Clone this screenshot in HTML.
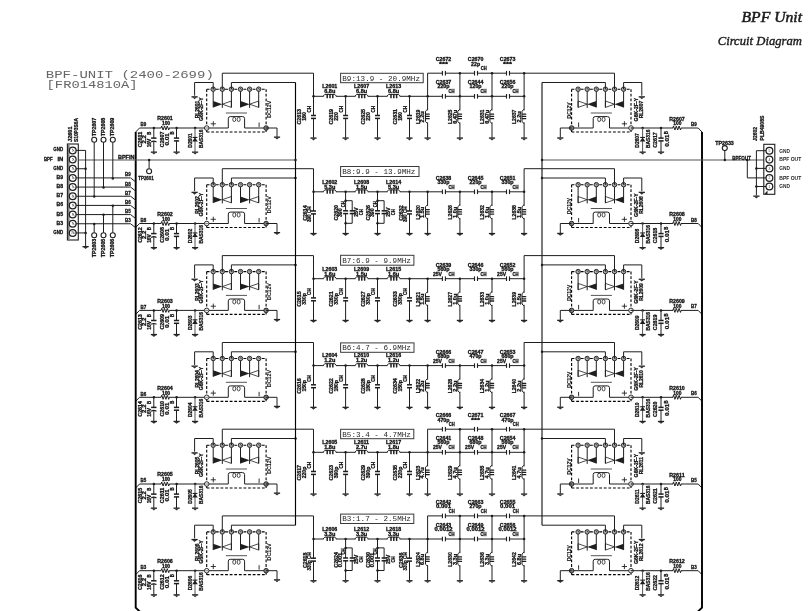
<!DOCTYPE html>
<html><head><meta charset="utf-8"><title>BPF Unit Circuit Diagram</title>
<style>html,body{margin:0;padding:0;background:#fff;}body{width:810px;height:611px;overflow:hidden;font-family:"Liberation Sans",sans-serif;}svg{display:block;filter:grayscale(100%);}</style>
</head><body>
<svg width="810" height="611" viewBox="0 0 810 611">
<polyline points="135.7,132 139.5,128 206.7,128" fill="none" stroke="#1e1e1e" stroke-width="1"/>
<text x="143.4" y="126.37" font-size="5.2" font-weight="bold" text-anchor="middle" fill="#111" stroke="#111" stroke-width="0.28" font-family="Liberation Sans" textLength="5.8" lengthAdjust="spacingAndGlyphs">B9</text>
<circle cx="153.9" cy="128" r="1.25" fill="#1e1e1e"/>
<polyline points="153.8,128 153.8,138.1" fill="none" stroke="#1e1e1e" stroke-width="1"/>
<polyline points="153.8,140.9 153.8,152" fill="none" stroke="#1e1e1e" stroke-width="1"/>
<rect x="151.1" y="137.35" width="5.4" height="1.5" fill="#1e1e1e"/>
<path d="M151.1 141.9Q153.8 140.3 156.5 141.9" fill="none" stroke="#1e1e1e" stroke-width="1.2"/>
<rect x="150.8" y="151.5" width="6.2" height="1.3" fill="#222"/>
<path d="M151.6 152.6L156.2 152.6L153.9 154.5Z" fill="#333"/>
<text x="141.86" y="139.6" font-size="4.6" font-weight="bold" text-anchor="middle" fill="#111" stroke="#111" stroke-width="0.28" font-family="Liberation Sans" textLength="15.5" lengthAdjust="spacingAndGlyphs" transform="rotate(-90 141.86 139.6)">C2611</text>
<text x="146.06" y="139.4" font-size="4.6" font-weight="bold" text-anchor="middle" fill="#111" stroke="#111" stroke-width="0.28" font-family="Liberation Sans" textLength="8.4" lengthAdjust="spacingAndGlyphs" transform="rotate(-90 146.06 139.4)">2.2</text>
<text x="150.86" y="143" font-size="4.6" font-weight="bold" text-anchor="middle" fill="#111" stroke="#111" stroke-width="0.28" font-family="Liberation Sans" textLength="8.7" lengthAdjust="spacingAndGlyphs" transform="rotate(-90 150.86 143)">16V</text>
<text x="151.16" y="133.2" font-size="4.6" font-weight="bold" text-anchor="middle" fill="#111" stroke="#111" stroke-width="0.28" font-family="Liberation Sans" textLength="3.1" lengthAdjust="spacingAndGlyphs" transform="rotate(-90 151.16 133.2)">B</text>
<rect x="161.2" y="127" width="8" height="2" fill="#fff"/>
<polyline points="161,128 161.7,126 163.1,130 164.5,126 165.9,130 167.3,126 168.7,130 169.4,128" fill="none" stroke="#1e1e1e" stroke-width="1"/>
<text x="165" y="120.46" font-size="4.6" font-weight="bold" text-anchor="middle" fill="#111" stroke="#111" stroke-width="0.28" font-family="Liberation Sans" textLength="15.5" lengthAdjust="spacingAndGlyphs">R2601</text>
<text x="166" y="125.26" font-size="4.6" font-weight="bold" text-anchor="middle" fill="#111" stroke="#111" stroke-width="0.28" font-family="Liberation Sans" textLength="8.1" lengthAdjust="spacingAndGlyphs">100</text>
<circle cx="176.6" cy="128" r="1.25" fill="#1e1e1e"/>
<polyline points="176.5,128 176.5,138.1" fill="none" stroke="#1e1e1e" stroke-width="1"/>
<polyline points="176.5,140.9 176.5,152" fill="none" stroke="#1e1e1e" stroke-width="1"/>
<rect x="173.9" y="137.35" width="5.2" height="1.5" fill="#1e1e1e"/>
<rect x="173.9" y="140.15" width="5.2" height="1.5" fill="#1e1e1e"/>
<rect x="173.5" y="151.5" width="6.2" height="1.3" fill="#222"/>
<path d="M174.3 152.6L178.9 152.6L176.6 154.5Z" fill="#333"/>
<text x="163.96" y="139.4" font-size="4.6" font-weight="bold" text-anchor="middle" fill="#111" stroke="#111" stroke-width="0.28" font-family="Liberation Sans" textLength="15.5" lengthAdjust="spacingAndGlyphs" transform="rotate(-90 163.96 139.4)">C2607</text>
<text x="168.96" y="139.4" font-size="4.6" font-weight="bold" text-anchor="middle" fill="#111" stroke="#111" stroke-width="0.28" font-family="Liberation Sans" textLength="12.4" lengthAdjust="spacingAndGlyphs" transform="rotate(-90 168.96 139.4)">0.01</text>
<text x="173.86" y="133" font-size="4.6" font-weight="bold" text-anchor="middle" fill="#111" stroke="#111" stroke-width="0.28" font-family="Liberation Sans" textLength="3.1" lengthAdjust="spacingAndGlyphs" transform="rotate(-90 173.86 133)">B</text>
<circle cx="195.1" cy="128" r="1.25" fill="#1e1e1e"/>
<polyline points="195,128 195,152" fill="none" stroke="#555" stroke-width="1"/>
<path d="M192.2 141.55L197.8 141.55L195 137.45Z" fill="#1e1e1e"/>
<polyline points="192.6,137.45 197.4,137.45" fill="none" stroke="#1e1e1e" stroke-width="1.1"/>
<rect x="192" y="151.5" width="6.2" height="1.3" fill="#222"/>
<path d="M192.8 152.6L197.4 152.6L195.1 154.5Z" fill="#333"/>
<text x="191.76" y="140.4" font-size="4.6" font-weight="bold" text-anchor="middle" fill="#111" stroke="#111" stroke-width="0.28" font-family="Liberation Sans" textLength="14.5" lengthAdjust="spacingAndGlyphs" transform="rotate(-90 191.76 140.4)">D2601</text>
<text x="202.56" y="138.8" font-size="4.6" font-weight="bold" text-anchor="middle" fill="#111" stroke="#111" stroke-width="0.28" font-family="Liberation Sans" textLength="18.6" lengthAdjust="spacingAndGlyphs" transform="rotate(-90 202.56 138.8)">BAS316</text>
<polyline points="206.7,89.2 206.7,128" fill="none" stroke="#000" stroke-width="1.1" stroke-dasharray="2.8,1.8"/>
<polyline points="266.1,89.2 266.1,128" fill="none" stroke="#000" stroke-width="1.1" stroke-dasharray="2.8,1.8"/>
<polyline points="206.7,89.2 266.1,89.2" fill="none" stroke="#000" stroke-width="1.1" stroke-dasharray="2.8,1.8"/>
<polyline points="206.7,132 266.1,132" fill="none" stroke="#000" stroke-width="1.2" stroke-dasharray="2.8,1.8"/>
<polyline points="206.7,128 206.7,132" fill="none" stroke="#000" stroke-width="1.1"/>
<polyline points="266.1,128 266.1,132" fill="none" stroke="#000" stroke-width="1.1"/>
<polyline points="213.2,89.2 213.2,107.4" fill="none" stroke="#1e1e1e" stroke-width="1"/>
<polyline points="222.3,89.2 222.3,107.9" fill="none" stroke="#1e1e1e" stroke-width="1"/>
<polyline points="231.4,89.2 231.4,107.4" fill="none" stroke="#1e1e1e" stroke-width="1"/>
<path d="M213.2 101L213.2 107.4L222.3 104.2Z" fill="#1e1e1e"/>
<path d="M231.4 101L231.4 107.4L222.3 104.2Z" fill="none" stroke="#1e1e1e" stroke-width="0.8"/>
<polyline points="240.5,89.2 240.5,107.4" fill="none" stroke="#1e1e1e" stroke-width="1"/>
<polyline points="249.6,89.2 249.6,107.9" fill="none" stroke="#1e1e1e" stroke-width="1"/>
<polyline points="258.7,89.2 258.7,107.4" fill="none" stroke="#1e1e1e" stroke-width="1"/>
<path d="M240.5 101L240.5 107.4L249.6 104.2Z" fill="#1e1e1e"/>
<path d="M258.7 101L258.7 107.4L249.6 104.2Z" fill="none" stroke="#1e1e1e" stroke-width="0.8"/>
<circle cx="213.2" cy="89.2" r="2.25" fill="#a8a8a8" stroke="#1e1e1e" stroke-width="0.9"/>
<path d="M212.6 87.8L214.4 89.8" stroke="#333" stroke-width="0.8"/>
<circle cx="222.3" cy="89.2" r="2.25" fill="#a8a8a8" stroke="#1e1e1e" stroke-width="0.9"/>
<path d="M221.7 87.8L223.5 89.8" stroke="#333" stroke-width="0.8"/>
<circle cx="231.4" cy="89.2" r="2.25" fill="#a8a8a8" stroke="#1e1e1e" stroke-width="0.9"/>
<path d="M230.8 87.8L232.6 89.8" stroke="#333" stroke-width="0.8"/>
<circle cx="240.5" cy="89.2" r="2.25" fill="#a8a8a8" stroke="#1e1e1e" stroke-width="0.9"/>
<path d="M239.9 87.8L241.7 89.8" stroke="#333" stroke-width="0.8"/>
<circle cx="249.6" cy="89.2" r="2.25" fill="#a8a8a8" stroke="#1e1e1e" stroke-width="0.9"/>
<path d="M249 87.8L250.8 89.8" stroke="#333" stroke-width="0.8"/>
<circle cx="258.7" cy="89.2" r="2.25" fill="#a8a8a8" stroke="#1e1e1e" stroke-width="0.9"/>
<path d="M258.1 87.8L259.9 89.8" stroke="#333" stroke-width="0.8"/>
<polyline points="206.7,128 228.3,128 228.3,118.5" fill="none" stroke="#1e1e1e" stroke-width="1"/>
<path d="M228.3 118.5Q228.3 116.6 230.3 116.6" fill="none" stroke="#1e1e1e" stroke-width="1"/>
<polyline points="230.3,116.6 242.6,116.6" fill="none" stroke="#1e1e1e" stroke-width="1"/>
<path d="M242.6 116.6Q244.6 116.6 244.6 118.5" fill="none" stroke="#1e1e1e" stroke-width="1"/>
<polyline points="244.6,118.5 244.6,128 266.1,128" fill="none" stroke="#1e1e1e" stroke-width="1"/>
<polyline points="225.9,113 247,113" fill="none" stroke="#555" stroke-width="1"/>
<ellipse cx="234.25" cy="119.4" rx="1.5" ry="2.2" fill="none" stroke="#1e1e1e" stroke-width="0.8"/>
<ellipse cx="238.65" cy="119.4" rx="1.5" ry="2.2" fill="none" stroke="#1e1e1e" stroke-width="0.8"/>
<polyline points="210.7,123.8 215.9,123.8" fill="none" stroke="#222" stroke-width="0.9"/>
<polyline points="213.3,121.2 213.3,126.4" fill="none" stroke="#222" stroke-width="0.9"/>
<polyline points="259.1,127 259.1,122.5" fill="none" stroke="#333" stroke-width="1"/>
<circle cx="206.7" cy="128" r="2.3" fill="#f4f4f4" stroke="#1e1e1e" stroke-width="0.9"/>
<polyline points="205.3,128 208.1,128" fill="none" stroke="#555" stroke-width="0.7"/>
<circle cx="266.1" cy="128" r="2.3" fill="#7a7a7a" stroke="#1e1e1e" stroke-width="0.9"/>
<polyline points="213.2,89.2 213.2,82.5 194.6,82.5 194.6,95.7" fill="none" stroke="#1e1e1e" stroke-width="1"/>
<rect x="191.5" y="96.2" width="6.2" height="1.3" fill="#222"/>
<path d="M192.3 97.3L196.9 97.3L194.6 99.2Z" fill="#333"/>
<polyline points="222.3,89.2 222.3,73.2 313.5,73.2" fill="none" stroke="#1e1e1e" stroke-width="1"/>
<polyline points="231.4,89.2 231.4,82.5 295.5,82.5" fill="none" stroke="#1e1e1e" stroke-width="1"/>
<polyline points="266.1,128 277,128 277,137" fill="none" stroke="#1e1e1e" stroke-width="1"/>
<rect x="273.9" y="136.5" width="6.2" height="1.3" fill="#222"/>
<path d="M274.7 137.6L279.3 137.6L277 139.5Z" fill="#333"/>
<text x="199.06" y="109.6" font-size="4.6" font-weight="bold" text-anchor="middle" fill="#111" stroke="#111" stroke-width="0.28" font-family="Liberation Sans" textLength="17.4" lengthAdjust="spacingAndGlyphs" transform="rotate(-90 199.06 109.6)">RL2601</text>
<text x="203.06" y="109.2" font-size="4.6" font-weight="bold" text-anchor="middle" fill="#111" stroke="#111" stroke-width="0.28" font-family="Liberation Sans" textLength="23.6" lengthAdjust="spacingAndGlyphs" transform="rotate(-90 203.06 109.2)">G6K-2F-Y</text>
<text x="271.1" y="109.2" font-size="5" font-weight="bold" text-anchor="middle" fill="#111" stroke="#111" stroke-width="0.1" font-family="Liberation Sans" textLength="17" lengthAdjust="spacingAndGlyphs" transform="rotate(-90 271.1 109.2)">DC12V</text>
<polyline points="313.5,73.2 313.5,96.3" fill="none" stroke="#1e1e1e" stroke-width="1"/>
<circle cx="313.5" cy="96.3" r="1.25" fill="#1e1e1e"/>
<polyline points="313.5,96.3 524.1,96.3" fill="none" stroke="#1e1e1e" stroke-width="1"/>
<polyline points="313.5,96.3 313.5,115.5" fill="none" stroke="#1e1e1e" stroke-width="1"/>
<polyline points="313.5,118.4 313.5,137.9" fill="none" stroke="#1e1e1e" stroke-width="1"/>
<rect x="311" y="114.75" width="5" height="1.5" fill="#1e1e1e"/>
<rect x="311" y="117.65" width="5" height="1.5" fill="#1e1e1e"/>
<text x="301.16" y="116.7" font-size="4.6" font-weight="bold" text-anchor="middle" fill="#111" stroke="#111" stroke-width="0.28" font-family="Liberation Sans" textLength="15.5" lengthAdjust="spacingAndGlyphs" transform="rotate(-90 301.16 116.7)">C2613</text>
<text x="305.76" y="116.5" font-size="4.6" font-weight="bold" text-anchor="middle" fill="#111" stroke="#111" stroke-width="0.28" font-family="Liberation Sans" textLength="8.7" lengthAdjust="spacingAndGlyphs" transform="rotate(-90 305.76 116.5)">180</text>
<text x="310.67" y="109.2" font-size="5.2" font-weight="bold" text-anchor="middle" fill="#111" stroke="#111" stroke-width="0.28" font-family="Liberation Sans" textLength="6.6" lengthAdjust="spacingAndGlyphs" transform="rotate(-90 310.67 109.2)">CH</text>
<rect x="310.4" y="137.4" width="6.2" height="1.3" fill="#222"/>
<path d="M311.2 138.5L315.8 138.5L313.5 140.4Z" fill="#333"/>
<circle cx="345.6" cy="96.3" r="1.25" fill="#1e1e1e"/>
<polyline points="345.6,96.3 345.6,115.5" fill="none" stroke="#1e1e1e" stroke-width="1"/>
<polyline points="345.6,118.4 345.6,137.9" fill="none" stroke="#1e1e1e" stroke-width="1"/>
<rect x="343.1" y="114.75" width="5" height="1.5" fill="#1e1e1e"/>
<rect x="343.1" y="117.65" width="5" height="1.5" fill="#1e1e1e"/>
<text x="333.26" y="116.7" font-size="4.6" font-weight="bold" text-anchor="middle" fill="#111" stroke="#111" stroke-width="0.28" font-family="Liberation Sans" textLength="15.5" lengthAdjust="spacingAndGlyphs" transform="rotate(-90 333.26 116.7)">C2619</text>
<text x="337.86" y="116.5" font-size="4.6" font-weight="bold" text-anchor="middle" fill="#111" stroke="#111" stroke-width="0.28" font-family="Liberation Sans" textLength="8.7" lengthAdjust="spacingAndGlyphs" transform="rotate(-90 337.86 116.5)">220</text>
<text x="342.77" y="109.2" font-size="5.2" font-weight="bold" text-anchor="middle" fill="#111" stroke="#111" stroke-width="0.28" font-family="Liberation Sans" textLength="6.6" lengthAdjust="spacingAndGlyphs" transform="rotate(-90 342.77 109.2)">CH</text>
<rect x="342.5" y="137.4" width="6.2" height="1.3" fill="#222"/>
<path d="M343.3 138.5L347.9 138.5L345.6 140.4Z" fill="#333"/>
<circle cx="377.5" cy="96.3" r="1.25" fill="#1e1e1e"/>
<polyline points="377.5,96.3 377.5,115.5" fill="none" stroke="#1e1e1e" stroke-width="1"/>
<polyline points="377.5,118.4 377.5,137.9" fill="none" stroke="#1e1e1e" stroke-width="1"/>
<rect x="375" y="114.75" width="5" height="1.5" fill="#1e1e1e"/>
<rect x="375" y="117.65" width="5" height="1.5" fill="#1e1e1e"/>
<text x="365.16" y="116.7" font-size="4.6" font-weight="bold" text-anchor="middle" fill="#111" stroke="#111" stroke-width="0.28" font-family="Liberation Sans" textLength="15.5" lengthAdjust="spacingAndGlyphs" transform="rotate(-90 365.16 116.7)">C2625</text>
<text x="369.76" y="116.5" font-size="4.6" font-weight="bold" text-anchor="middle" fill="#111" stroke="#111" stroke-width="0.28" font-family="Liberation Sans" textLength="8.7" lengthAdjust="spacingAndGlyphs" transform="rotate(-90 369.76 116.5)">220</text>
<text x="374.67" y="109.2" font-size="5.2" font-weight="bold" text-anchor="middle" fill="#111" stroke="#111" stroke-width="0.28" font-family="Liberation Sans" textLength="6.6" lengthAdjust="spacingAndGlyphs" transform="rotate(-90 374.67 109.2)">CH</text>
<rect x="374.4" y="137.4" width="6.2" height="1.3" fill="#222"/>
<path d="M375.2 138.5L379.8 138.5L377.5 140.4Z" fill="#333"/>
<circle cx="409.5" cy="96.3" r="1.25" fill="#1e1e1e"/>
<polyline points="409.5,96.3 409.5,115.5" fill="none" stroke="#1e1e1e" stroke-width="1"/>
<polyline points="409.5,118.4 409.5,137.9" fill="none" stroke="#1e1e1e" stroke-width="1"/>
<rect x="407" y="114.75" width="5" height="1.5" fill="#1e1e1e"/>
<rect x="407" y="117.65" width="5" height="1.5" fill="#1e1e1e"/>
<text x="397.16" y="116.7" font-size="4.6" font-weight="bold" text-anchor="middle" fill="#111" stroke="#111" stroke-width="0.28" font-family="Liberation Sans" textLength="15.5" lengthAdjust="spacingAndGlyphs" transform="rotate(-90 397.16 116.7)">C2631</text>
<text x="401.76" y="116.5" font-size="4.6" font-weight="bold" text-anchor="middle" fill="#111" stroke="#111" stroke-width="0.28" font-family="Liberation Sans" textLength="8.7" lengthAdjust="spacingAndGlyphs" transform="rotate(-90 401.76 116.5)">180</text>
<text x="406.67" y="109.2" font-size="5.2" font-weight="bold" text-anchor="middle" fill="#111" stroke="#111" stroke-width="0.28" font-family="Liberation Sans" textLength="6.6" lengthAdjust="spacingAndGlyphs" transform="rotate(-90 406.67 109.2)">CH</text>
<rect x="406.4" y="137.4" width="6.2" height="1.3" fill="#222"/>
<path d="M407.2 138.5L411.8 138.5L409.5 140.4Z" fill="#333"/>
<rect x="323.8" y="95.1" width="12" height="2.4" fill="#fff"/>
<polyline points="323,96.3 324.8,94.4 334.8,94.4 336.6,96.3" fill="none" stroke="#1e1e1e" stroke-width="1"/>
<rect x="326.45" y="94.1" width="1.5" height="4.2" rx="0.5" fill="#1e1e1e"/>
<rect x="329.25" y="94.1" width="1.5" height="4.2" rx="0.5" fill="#1e1e1e"/>
<rect x="332.05" y="94.1" width="1.5" height="4.2" rx="0.5" fill="#1e1e1e"/>
<text x="329.8" y="88.16" font-size="4.6" font-weight="bold" text-anchor="middle" fill="#111" stroke="#111" stroke-width="0.28" font-family="Liberation Sans" textLength="15" lengthAdjust="spacingAndGlyphs">L2601</text>
<text x="329.8" y="93.16" font-size="4.6" font-weight="bold" text-anchor="middle" fill="#111" stroke="#111" stroke-width="0.28" font-family="Liberation Sans" textLength="11.2" lengthAdjust="spacingAndGlyphs">6.8u</text>
<rect x="355.6" y="95.1" width="12" height="2.4" fill="#fff"/>
<polyline points="354.8,96.3 356.6,94.4 366.6,94.4 368.4,96.3" fill="none" stroke="#1e1e1e" stroke-width="1"/>
<rect x="358.25" y="94.1" width="1.5" height="4.2" rx="0.5" fill="#1e1e1e"/>
<rect x="361.05" y="94.1" width="1.5" height="4.2" rx="0.5" fill="#1e1e1e"/>
<rect x="363.85" y="94.1" width="1.5" height="4.2" rx="0.5" fill="#1e1e1e"/>
<text x="361.6" y="88.16" font-size="4.6" font-weight="bold" text-anchor="middle" fill="#111" stroke="#111" stroke-width="0.28" font-family="Liberation Sans" textLength="15" lengthAdjust="spacingAndGlyphs">L2607</text>
<text x="361.6" y="93.16" font-size="4.6" font-weight="bold" text-anchor="middle" fill="#111" stroke="#111" stroke-width="0.28" font-family="Liberation Sans" textLength="11.2" lengthAdjust="spacingAndGlyphs">6.8u</text>
<rect x="387.6" y="95.1" width="12" height="2.4" fill="#fff"/>
<polyline points="386.8,96.3 388.6,94.4 398.6,94.4 400.4,96.3" fill="none" stroke="#1e1e1e" stroke-width="1"/>
<rect x="390.25" y="94.1" width="1.5" height="4.2" rx="0.5" fill="#1e1e1e"/>
<rect x="393.05" y="94.1" width="1.5" height="4.2" rx="0.5" fill="#1e1e1e"/>
<rect x="395.85" y="94.1" width="1.5" height="4.2" rx="0.5" fill="#1e1e1e"/>
<text x="393.6" y="88.16" font-size="4.6" font-weight="bold" text-anchor="middle" fill="#111" stroke="#111" stroke-width="0.28" font-family="Liberation Sans" textLength="15" lengthAdjust="spacingAndGlyphs">L2613</text>
<text x="393.6" y="93.16" font-size="4.6" font-weight="bold" text-anchor="middle" fill="#111" stroke="#111" stroke-width="0.28" font-family="Liberation Sans" textLength="11.2" lengthAdjust="spacingAndGlyphs">6.8u</text>
<circle cx="427.6" cy="96.3" r="1.25" fill="#1e1e1e"/>
<polyline points="427.6,96.3 427.6,137.9" fill="none" stroke="#1e1e1e" stroke-width="1"/>
<rect x="426.4" y="110.4" width="2.4" height="12" fill="#fff"/>
<polyline points="427.6,109.2 425.5,111.2 425.5,121.6 427.6,123.6" fill="none" stroke="#1e1e1e" stroke-width="1"/>
<rect x="425.4" y="113.55" width="4.4" height="1.3" rx="0.5" fill="#1e1e1e"/>
<rect x="425.4" y="115.75" width="4.4" height="1.3" rx="0.5" fill="#1e1e1e"/>
<rect x="425.4" y="117.95" width="4.4" height="1.3" rx="0.5" fill="#1e1e1e"/>
<rect x="424.5" y="137.4" width="6.2" height="1.3" fill="#222"/>
<path d="M425.3 138.5L429.9 138.5L427.6 140.4Z" fill="#333"/>
<text x="419.76" y="116.8" font-size="4.6" font-weight="bold" text-anchor="middle" fill="#111" stroke="#111" stroke-width="0.28" font-family="Liberation Sans" textLength="14.5" lengthAdjust="spacingAndGlyphs" transform="rotate(-90 419.76 116.8)">L2619</text>
<text x="424.26" y="116.8" font-size="4.6" font-weight="bold" text-anchor="middle" fill="#111" stroke="#111" stroke-width="0.28" font-family="Liberation Sans" textLength="11.2" lengthAdjust="spacingAndGlyphs" transform="rotate(-90 424.26 116.8)">2.2u</text>
<circle cx="459.9" cy="96.3" r="1.25" fill="#1e1e1e"/>
<polyline points="459.9,96.3 459.9,137.9" fill="none" stroke="#1e1e1e" stroke-width="1"/>
<rect x="458.7" y="110.4" width="2.4" height="12" fill="#fff"/>
<polyline points="459.9,109.2 457.8,111.2 457.8,121.6 459.9,123.6" fill="none" stroke="#1e1e1e" stroke-width="1"/>
<rect x="457.7" y="113.55" width="4.4" height="1.3" rx="0.5" fill="#1e1e1e"/>
<rect x="457.7" y="115.75" width="4.4" height="1.3" rx="0.5" fill="#1e1e1e"/>
<rect x="457.7" y="117.95" width="4.4" height="1.3" rx="0.5" fill="#1e1e1e"/>
<rect x="456.8" y="137.4" width="6.2" height="1.3" fill="#222"/>
<path d="M457.6 138.5L462.2 138.5L459.9 140.4Z" fill="#333"/>
<text x="452.06" y="116.8" font-size="4.6" font-weight="bold" text-anchor="middle" fill="#111" stroke="#111" stroke-width="0.28" font-family="Liberation Sans" textLength="14.5" lengthAdjust="spacingAndGlyphs" transform="rotate(-90 452.06 116.8)">L2625</text>
<text x="456.56" y="116.8" font-size="4.6" font-weight="bold" text-anchor="middle" fill="#111" stroke="#111" stroke-width="0.28" font-family="Liberation Sans" textLength="14" lengthAdjust="spacingAndGlyphs" transform="rotate(-90 456.56 116.8)">0.47u</text>
<circle cx="492" cy="96.3" r="1.25" fill="#1e1e1e"/>
<polyline points="492,96.3 492,137.9" fill="none" stroke="#1e1e1e" stroke-width="1"/>
<rect x="490.8" y="110.4" width="2.4" height="12" fill="#fff"/>
<polyline points="492,109.2 489.9,111.2 489.9,121.6 492,123.6" fill="none" stroke="#1e1e1e" stroke-width="1"/>
<rect x="489.8" y="113.55" width="4.4" height="1.3" rx="0.5" fill="#1e1e1e"/>
<rect x="489.8" y="115.75" width="4.4" height="1.3" rx="0.5" fill="#1e1e1e"/>
<rect x="489.8" y="117.95" width="4.4" height="1.3" rx="0.5" fill="#1e1e1e"/>
<rect x="488.9" y="137.4" width="6.2" height="1.3" fill="#222"/>
<path d="M489.7 138.5L494.3 138.5L492 140.4Z" fill="#333"/>
<text x="484.16" y="116.8" font-size="4.6" font-weight="bold" text-anchor="middle" fill="#111" stroke="#111" stroke-width="0.28" font-family="Liberation Sans" textLength="14.5" lengthAdjust="spacingAndGlyphs" transform="rotate(-90 484.16 116.8)">L2631</text>
<text x="488.66" y="116.8" font-size="4.6" font-weight="bold" text-anchor="middle" fill="#111" stroke="#111" stroke-width="0.28" font-family="Liberation Sans" textLength="14" lengthAdjust="spacingAndGlyphs" transform="rotate(-90 488.66 116.8)">0.47u</text>
<circle cx="524.1" cy="96.3" r="1.25" fill="#1e1e1e"/>
<polyline points="524.1,96.3 524.1,137.9" fill="none" stroke="#1e1e1e" stroke-width="1"/>
<rect x="522.9" y="110.4" width="2.4" height="12" fill="#fff"/>
<polyline points="524.1,109.2 522,111.2 522,121.6 524.1,123.6" fill="none" stroke="#1e1e1e" stroke-width="1"/>
<rect x="521.9" y="113.55" width="4.4" height="1.3" rx="0.5" fill="#1e1e1e"/>
<rect x="521.9" y="115.75" width="4.4" height="1.3" rx="0.5" fill="#1e1e1e"/>
<rect x="521.9" y="117.95" width="4.4" height="1.3" rx="0.5" fill="#1e1e1e"/>
<rect x="521" y="137.4" width="6.2" height="1.3" fill="#222"/>
<path d="M521.8 138.5L526.4 138.5L524.1 140.4Z" fill="#333"/>
<text x="516.26" y="116.8" font-size="4.6" font-weight="bold" text-anchor="middle" fill="#111" stroke="#111" stroke-width="0.28" font-family="Liberation Sans" textLength="14.5" lengthAdjust="spacingAndGlyphs" transform="rotate(-90 516.26 116.8)">L2637</text>
<text x="520.76" y="116.8" font-size="4.6" font-weight="bold" text-anchor="middle" fill="#111" stroke="#111" stroke-width="0.28" font-family="Liberation Sans" textLength="11.2" lengthAdjust="spacingAndGlyphs" transform="rotate(-90 520.76 116.8)">2.2u</text>
<rect x="442.7" y="95.3" width="2.4" height="2" fill="#fff"/>
<rect x="441.85" y="94" width="1.1" height="4.6" fill="#1e1e1e"/>
<rect x="444.85" y="94" width="1.1" height="4.6" fill="#1e1e1e"/>
<text x="443.5" y="83.86" font-size="4.6" font-weight="bold" text-anchor="middle" fill="#111" stroke="#111" stroke-width="0.28" font-family="Liberation Sans" textLength="15.5" lengthAdjust="spacingAndGlyphs">C2637</text>
<text x="443.5" y="88.46" font-size="4.6" font-weight="bold" text-anchor="middle" fill="#111" stroke="#111" stroke-width="0.28" font-family="Liberation Sans" textLength="12" lengthAdjust="spacingAndGlyphs">220p</text>
<text x="451.4" y="92.86" font-size="4.6" font-weight="bold" text-anchor="middle" fill="#111" stroke="#111" stroke-width="0.28" font-family="Liberation Sans" textLength="6" lengthAdjust="spacingAndGlyphs">CH</text>
<rect x="474.8" y="95.3" width="2.4" height="2" fill="#fff"/>
<rect x="473.95" y="94" width="1.1" height="4.6" fill="#1e1e1e"/>
<rect x="476.95" y="94" width="1.1" height="4.6" fill="#1e1e1e"/>
<text x="475.6" y="83.86" font-size="4.6" font-weight="bold" text-anchor="middle" fill="#111" stroke="#111" stroke-width="0.28" font-family="Liberation Sans" textLength="15.5" lengthAdjust="spacingAndGlyphs">C2644</text>
<text x="475.6" y="88.46" font-size="4.6" font-weight="bold" text-anchor="middle" fill="#111" stroke="#111" stroke-width="0.28" font-family="Liberation Sans" textLength="12" lengthAdjust="spacingAndGlyphs">120p</text>
<text x="483.5" y="92.86" font-size="4.6" font-weight="bold" text-anchor="middle" fill="#111" stroke="#111" stroke-width="0.28" font-family="Liberation Sans" textLength="6" lengthAdjust="spacingAndGlyphs">CH</text>
<rect x="506.8" y="95.3" width="2.4" height="2" fill="#fff"/>
<rect x="505.95" y="94" width="1.1" height="4.6" fill="#1e1e1e"/>
<rect x="508.95" y="94" width="1.1" height="4.6" fill="#1e1e1e"/>
<text x="507.6" y="83.86" font-size="4.6" font-weight="bold" text-anchor="middle" fill="#111" stroke="#111" stroke-width="0.28" font-family="Liberation Sans" textLength="15.5" lengthAdjust="spacingAndGlyphs">C2656</text>
<text x="507.6" y="88.46" font-size="4.6" font-weight="bold" text-anchor="middle" fill="#111" stroke="#111" stroke-width="0.28" font-family="Liberation Sans" textLength="12" lengthAdjust="spacingAndGlyphs">220p</text>
<text x="515.5" y="92.86" font-size="4.6" font-weight="bold" text-anchor="middle" fill="#111" stroke="#111" stroke-width="0.28" font-family="Liberation Sans" textLength="6" lengthAdjust="spacingAndGlyphs">CH</text>
<polyline points="427.6,73.2 427.6,96.3" fill="none" stroke="#1e1e1e" stroke-width="1"/>
<polyline points="427.6,73.2 614.5,73.2" fill="none" stroke="#1e1e1e" stroke-width="1"/>
<circle cx="459.9" cy="73.2" r="1.25" fill="#1e1e1e"/>
<polyline points="459.9,73.2 459.9,96.3" fill="none" stroke="#1e1e1e" stroke-width="1"/>
<circle cx="492" cy="73.2" r="1.25" fill="#1e1e1e"/>
<polyline points="492,73.2 492,96.3" fill="none" stroke="#1e1e1e" stroke-width="1"/>
<circle cx="524.1" cy="73.2" r="1.25" fill="#1e1e1e"/>
<polyline points="524.1,73.2 524.1,96.3" fill="none" stroke="#1e1e1e" stroke-width="1"/>
<rect x="442.7" y="72.2" width="2.4" height="2" fill="#fff"/>
<rect x="441.85" y="70.9" width="1.1" height="4.6" fill="#1e1e1e"/>
<rect x="444.85" y="70.9" width="1.1" height="4.6" fill="#1e1e1e"/>
<text x="443.5" y="61.26" font-size="4.6" font-weight="bold" text-anchor="middle" fill="#111" stroke="#111" stroke-width="0.28" font-family="Liberation Sans" textLength="15.5" lengthAdjust="spacingAndGlyphs">C2672</text>
<text x="443.5" y="65.56" font-size="4.6" font-weight="bold" text-anchor="middle" fill="#111" stroke="#111" stroke-width="0.28" font-family="Liberation Sans" textLength="9" lengthAdjust="spacingAndGlyphs">***</text>
<rect x="474.8" y="72.2" width="2.4" height="2" fill="#fff"/>
<rect x="473.95" y="70.9" width="1.1" height="4.6" fill="#1e1e1e"/>
<rect x="476.95" y="70.9" width="1.1" height="4.6" fill="#1e1e1e"/>
<text x="475.6" y="61.26" font-size="4.6" font-weight="bold" text-anchor="middle" fill="#111" stroke="#111" stroke-width="0.28" font-family="Liberation Sans" textLength="15.5" lengthAdjust="spacingAndGlyphs">C2670</text>
<text x="475.6" y="65.56" font-size="4.6" font-weight="bold" text-anchor="middle" fill="#111" stroke="#111" stroke-width="0.28" font-family="Liberation Sans" textLength="9" lengthAdjust="spacingAndGlyphs">22p</text>
<text x="483.8" y="69.86" font-size="4.6" font-weight="bold" text-anchor="middle" fill="#111" stroke="#111" stroke-width="0.28" font-family="Liberation Sans" textLength="6" lengthAdjust="spacingAndGlyphs">CH</text>
<rect x="506.8" y="72.2" width="2.4" height="2" fill="#fff"/>
<rect x="505.95" y="70.9" width="1.1" height="4.6" fill="#1e1e1e"/>
<rect x="508.95" y="70.9" width="1.1" height="4.6" fill="#1e1e1e"/>
<text x="507.6" y="61.26" font-size="4.6" font-weight="bold" text-anchor="middle" fill="#111" stroke="#111" stroke-width="0.28" font-family="Liberation Sans" textLength="15.5" lengthAdjust="spacingAndGlyphs">C2673</text>
<text x="507.6" y="65.56" font-size="4.6" font-weight="bold" text-anchor="middle" fill="#111" stroke="#111" stroke-width="0.28" font-family="Liberation Sans" textLength="9" lengthAdjust="spacingAndGlyphs">***</text>
<rect x="340.6" y="73.3" width="82.6" height="9.4" fill="#fff" stroke="#3a3a3a" stroke-width="1"/>
<text x="342.3" y="80.6" font-size="7.7" font-weight="normal" text-anchor="start" fill="#2a2a2a" font-family="Liberation Mono" textLength="77.69" lengthAdjust="spacingAndGlyphs">B9:13.9 - 20.9MHz</text>
<polyline points="571.6,89.2 571.6,128" fill="none" stroke="#000" stroke-width="1.1" stroke-dasharray="2.8,1.8"/>
<polyline points="631,89.2 631,128" fill="none" stroke="#000" stroke-width="1.1" stroke-dasharray="2.8,1.8"/>
<polyline points="571.6,89.2 631,89.2" fill="none" stroke="#000" stroke-width="1.1" stroke-dasharray="2.8,1.8"/>
<polyline points="571.6,132 631,132" fill="none" stroke="#000" stroke-width="1.2" stroke-dasharray="2.8,1.8"/>
<polyline points="571.6,128 571.6,132" fill="none" stroke="#000" stroke-width="1.1"/>
<polyline points="631,128 631,132" fill="none" stroke="#000" stroke-width="1.1"/>
<polyline points="578.1,89.2 578.1,107.4" fill="none" stroke="#1e1e1e" stroke-width="1"/>
<polyline points="587.2,89.2 587.2,107.9" fill="none" stroke="#1e1e1e" stroke-width="1"/>
<polyline points="596.3,89.2 596.3,107.4" fill="none" stroke="#1e1e1e" stroke-width="1"/>
<path d="M578.1 101L578.1 107.4L587.2 104.2Z" fill="none" stroke="#1e1e1e" stroke-width="0.8"/>
<path d="M596.3 101L596.3 107.4L587.2 104.2Z" fill="#1e1e1e"/>
<polyline points="605.4,89.2 605.4,107.4" fill="none" stroke="#1e1e1e" stroke-width="1"/>
<polyline points="614.5,89.2 614.5,107.9" fill="none" stroke="#1e1e1e" stroke-width="1"/>
<polyline points="623.6,89.2 623.6,107.4" fill="none" stroke="#1e1e1e" stroke-width="1"/>
<path d="M605.4 101L605.4 107.4L614.5 104.2Z" fill="none" stroke="#1e1e1e" stroke-width="0.8"/>
<path d="M623.6 101L623.6 107.4L614.5 104.2Z" fill="#1e1e1e"/>
<circle cx="578.1" cy="89.2" r="2.25" fill="#a8a8a8" stroke="#1e1e1e" stroke-width="0.9"/>
<path d="M577.5 87.8L579.3 89.8" stroke="#333" stroke-width="0.8"/>
<circle cx="587.2" cy="89.2" r="2.25" fill="#a8a8a8" stroke="#1e1e1e" stroke-width="0.9"/>
<path d="M586.6 87.8L588.4 89.8" stroke="#333" stroke-width="0.8"/>
<circle cx="596.3" cy="89.2" r="2.25" fill="#a8a8a8" stroke="#1e1e1e" stroke-width="0.9"/>
<path d="M595.7 87.8L597.5 89.8" stroke="#333" stroke-width="0.8"/>
<circle cx="605.4" cy="89.2" r="2.25" fill="#a8a8a8" stroke="#1e1e1e" stroke-width="0.9"/>
<path d="M604.8 87.8L606.6 89.8" stroke="#333" stroke-width="0.8"/>
<circle cx="614.5" cy="89.2" r="2.25" fill="#a8a8a8" stroke="#1e1e1e" stroke-width="0.9"/>
<path d="M613.9 87.8L615.7 89.8" stroke="#333" stroke-width="0.8"/>
<circle cx="623.6" cy="89.2" r="2.25" fill="#a8a8a8" stroke="#1e1e1e" stroke-width="0.9"/>
<path d="M623 87.8L624.8 89.8" stroke="#333" stroke-width="0.8"/>
<polyline points="571.6,128 593.2,128 593.2,118.5" fill="none" stroke="#1e1e1e" stroke-width="1"/>
<path d="M593.2 118.5Q593.2 116.6 595.2 116.6" fill="none" stroke="#1e1e1e" stroke-width="1"/>
<polyline points="595.2,116.6 607.5,116.6" fill="none" stroke="#1e1e1e" stroke-width="1"/>
<path d="M607.5 116.6Q609.5 116.6 609.5 118.5" fill="none" stroke="#1e1e1e" stroke-width="1"/>
<polyline points="609.5,118.5 609.5,128 631,128" fill="none" stroke="#1e1e1e" stroke-width="1"/>
<polyline points="590.8,113 611.9,113" fill="none" stroke="#555" stroke-width="1"/>
<ellipse cx="599.15" cy="119.4" rx="1.5" ry="2.2" fill="none" stroke="#1e1e1e" stroke-width="0.8"/>
<ellipse cx="603.55" cy="119.4" rx="1.5" ry="2.2" fill="none" stroke="#1e1e1e" stroke-width="0.8"/>
<polyline points="621.8,123.8 627,123.8" fill="none" stroke="#222" stroke-width="0.9"/>
<polyline points="624.4,121.2 624.4,126.4" fill="none" stroke="#222" stroke-width="0.9"/>
<polyline points="578.6,127 578.6,122.5" fill="none" stroke="#333" stroke-width="1"/>
<circle cx="571.6" cy="128" r="2.3" fill="#7a7a7a" stroke="#1e1e1e" stroke-width="0.9"/>
<circle cx="631" cy="128" r="2.3" fill="#f4f4f4" stroke="#1e1e1e" stroke-width="0.9"/>
<polyline points="629.6,128 632.4,128" fill="none" stroke="#555" stroke-width="0.7"/>
<polyline points="605.4,89.2 605.4,82.5 542,82.5" fill="none" stroke="#1e1e1e" stroke-width="1"/>
<polyline points="614.5,89.2 614.5,73.2" fill="none" stroke="#1e1e1e" stroke-width="1"/>
<polyline points="623.6,89.2 623.6,82.5 641.8,82.5 641.8,95.7" fill="none" stroke="#1e1e1e" stroke-width="1"/>
<rect x="638.7" y="96.2" width="6.2" height="1.3" fill="#222"/>
<path d="M639.5 97.3L644.1 97.3L641.8 99.2Z" fill="#333"/>
<polyline points="571.6,128 560.3,128 560.3,137.5" fill="none" stroke="#1e1e1e" stroke-width="1"/>
<rect x="557.2" y="137.3" width="6.2" height="1.3" fill="#222"/>
<path d="M558 138.4L562.6 138.4L560.3 140.3Z" fill="#333"/>
<text x="571.1" y="110.4" font-size="5" font-weight="bold" text-anchor="middle" fill="#111" stroke="#111" stroke-width="0.1" font-family="Liberation Sans" textLength="16" lengthAdjust="spacingAndGlyphs" transform="rotate(-90 571.1 110.4)">DC12V</text>
<text x="638.16" y="109.6" font-size="4.6" font-weight="bold" text-anchor="middle" fill="#111" stroke="#111" stroke-width="0.28" font-family="Liberation Sans" textLength="23.6" lengthAdjust="spacingAndGlyphs" transform="rotate(-90 638.16 109.6)">G6K-2F-Y</text>
<text x="642.56" y="109.6" font-size="4.6" font-weight="bold" text-anchor="middle" fill="#111" stroke="#111" stroke-width="0.28" font-family="Liberation Sans" textLength="17.4" lengthAdjust="spacingAndGlyphs" transform="rotate(-90 642.56 109.6)">RL2607</text>
<polyline points="631,128 698.2,128 702,132" fill="none" stroke="#1e1e1e" stroke-width="1"/>
<circle cx="642.6" cy="128" r="1.25" fill="#1e1e1e"/>
<polyline points="642.6,128 642.6,152" fill="none" stroke="#555" stroke-width="1"/>
<path d="M639.8 141.55L645.4 141.55L642.6 137.45Z" fill="#1e1e1e"/>
<polyline points="640.2,137.45 645,137.45" fill="none" stroke="#1e1e1e" stroke-width="1.1"/>
<rect x="639.5" y="151.5" width="6.2" height="1.3" fill="#222"/>
<path d="M640.3 152.6L644.9 152.6L642.6 154.5Z" fill="#333"/>
<text x="638.86" y="140.4" font-size="4.6" font-weight="bold" text-anchor="middle" fill="#111" stroke="#111" stroke-width="0.28" font-family="Liberation Sans" textLength="14.5" lengthAdjust="spacingAndGlyphs" transform="rotate(-90 638.86 140.4)">D2607</text>
<text x="649.66" y="138.8" font-size="4.6" font-weight="bold" text-anchor="middle" fill="#111" stroke="#111" stroke-width="0.28" font-family="Liberation Sans" textLength="18.6" lengthAdjust="spacingAndGlyphs" transform="rotate(-90 649.66 138.8)">BAS316</text>
<circle cx="661" cy="128" r="1.25" fill="#1e1e1e"/>
<polyline points="661,128 661,138.1" fill="none" stroke="#1e1e1e" stroke-width="1"/>
<polyline points="661,140.9 661,152" fill="none" stroke="#1e1e1e" stroke-width="1"/>
<rect x="658.4" y="137.35" width="5.2" height="1.5" fill="#1e1e1e"/>
<rect x="658.4" y="140.15" width="5.2" height="1.5" fill="#1e1e1e"/>
<rect x="657.9" y="151.5" width="6.2" height="1.3" fill="#222"/>
<path d="M658.7 152.6L663.3 152.6L661 154.5Z" fill="#333"/>
<text x="656.56" y="140" font-size="4.6" font-weight="bold" text-anchor="middle" fill="#111" stroke="#111" stroke-width="0.28" font-family="Liberation Sans" textLength="15.5" lengthAdjust="spacingAndGlyphs" transform="rotate(-90 656.56 140)">C2617</text>
<text x="668.66" y="140.6" font-size="4.6" font-weight="bold" text-anchor="middle" fill="#111" stroke="#111" stroke-width="0.28" font-family="Liberation Sans" textLength="12.4" lengthAdjust="spacingAndGlyphs" transform="rotate(-90 668.66 140.6)">0.01</text>
<text x="667.66" y="132.6" font-size="4.6" font-weight="bold" text-anchor="middle" fill="#111" stroke="#111" stroke-width="0.28" font-family="Liberation Sans" textLength="3.1" lengthAdjust="spacingAndGlyphs" transform="rotate(-90 667.66 132.6)">B</text>
<rect x="673" y="127" width="8" height="2" fill="#fff"/>
<polyline points="672.8,128 673.5,126 674.9,130 676.3,126 677.7,130 679.1,126 680.5,130 681.2,128" fill="none" stroke="#1e1e1e" stroke-width="1"/>
<text x="677" y="120.66" font-size="4.6" font-weight="bold" text-anchor="middle" fill="#111" stroke="#111" stroke-width="0.28" font-family="Liberation Sans" textLength="15.5" lengthAdjust="spacingAndGlyphs">R2607</text>
<text x="677.4" y="125.26" font-size="4.6" font-weight="bold" text-anchor="middle" fill="#111" stroke="#111" stroke-width="0.28" font-family="Liberation Sans" textLength="8.1" lengthAdjust="spacingAndGlyphs">100</text>
<text x="693.9" y="126.07" font-size="5.2" font-weight="bold" text-anchor="middle" fill="#111" stroke="#111" stroke-width="0.28" font-family="Liberation Sans" textLength="5.8" lengthAdjust="spacingAndGlyphs">B9</text>
<polyline points="135.7,227.5 139.5,223.5 206.7,223.5" fill="none" stroke="#1e1e1e" stroke-width="1"/>
<text x="143.4" y="221.87" font-size="5.2" font-weight="bold" text-anchor="middle" fill="#111" stroke="#111" stroke-width="0.28" font-family="Liberation Sans" textLength="5.8" lengthAdjust="spacingAndGlyphs">B8</text>
<circle cx="153.9" cy="223.5" r="1.25" fill="#1e1e1e"/>
<polyline points="153.8,223.5 153.8,233.6" fill="none" stroke="#1e1e1e" stroke-width="1"/>
<polyline points="153.8,236.4 153.8,247.5" fill="none" stroke="#1e1e1e" stroke-width="1"/>
<rect x="151.1" y="232.85" width="5.4" height="1.5" fill="#1e1e1e"/>
<path d="M151.1 237.4Q153.8 235.8 156.5 237.4" fill="none" stroke="#1e1e1e" stroke-width="1.2"/>
<rect x="150.8" y="247" width="6.2" height="1.3" fill="#222"/>
<path d="M151.6 248.1L156.2 248.1L153.9 250Z" fill="#333"/>
<text x="141.86" y="235.1" font-size="4.6" font-weight="bold" text-anchor="middle" fill="#111" stroke="#111" stroke-width="0.28" font-family="Liberation Sans" textLength="15.5" lengthAdjust="spacingAndGlyphs" transform="rotate(-90 141.86 235.1)">C2612</text>
<text x="146.06" y="234.9" font-size="4.6" font-weight="bold" text-anchor="middle" fill="#111" stroke="#111" stroke-width="0.28" font-family="Liberation Sans" textLength="8.4" lengthAdjust="spacingAndGlyphs" transform="rotate(-90 146.06 234.9)">2.2</text>
<text x="150.86" y="238.5" font-size="4.6" font-weight="bold" text-anchor="middle" fill="#111" stroke="#111" stroke-width="0.28" font-family="Liberation Sans" textLength="8.7" lengthAdjust="spacingAndGlyphs" transform="rotate(-90 150.86 238.5)">16V</text>
<text x="151.16" y="228.7" font-size="4.6" font-weight="bold" text-anchor="middle" fill="#111" stroke="#111" stroke-width="0.28" font-family="Liberation Sans" textLength="3.1" lengthAdjust="spacingAndGlyphs" transform="rotate(-90 151.16 228.7)">B</text>
<rect x="161.2" y="222.5" width="8" height="2" fill="#fff"/>
<polyline points="161,223.5 161.7,221.5 163.1,225.5 164.5,221.5 165.9,225.5 167.3,221.5 168.7,225.5 169.4,223.5" fill="none" stroke="#1e1e1e" stroke-width="1"/>
<text x="165" y="215.96" font-size="4.6" font-weight="bold" text-anchor="middle" fill="#111" stroke="#111" stroke-width="0.28" font-family="Liberation Sans" textLength="15.5" lengthAdjust="spacingAndGlyphs">R2602</text>
<text x="166" y="220.76" font-size="4.6" font-weight="bold" text-anchor="middle" fill="#111" stroke="#111" stroke-width="0.28" font-family="Liberation Sans" textLength="8.1" lengthAdjust="spacingAndGlyphs">100</text>
<circle cx="176.6" cy="223.5" r="1.25" fill="#1e1e1e"/>
<polyline points="176.5,223.5 176.5,233.6" fill="none" stroke="#1e1e1e" stroke-width="1"/>
<polyline points="176.5,236.4 176.5,247.5" fill="none" stroke="#1e1e1e" stroke-width="1"/>
<rect x="173.9" y="232.85" width="5.2" height="1.5" fill="#1e1e1e"/>
<rect x="173.9" y="235.65" width="5.2" height="1.5" fill="#1e1e1e"/>
<rect x="173.5" y="247" width="6.2" height="1.3" fill="#222"/>
<path d="M174.3 248.1L178.9 248.1L176.6 250Z" fill="#333"/>
<text x="163.96" y="234.9" font-size="4.6" font-weight="bold" text-anchor="middle" fill="#111" stroke="#111" stroke-width="0.28" font-family="Liberation Sans" textLength="15.5" lengthAdjust="spacingAndGlyphs" transform="rotate(-90 163.96 234.9)">C2608</text>
<text x="168.96" y="234.9" font-size="4.6" font-weight="bold" text-anchor="middle" fill="#111" stroke="#111" stroke-width="0.28" font-family="Liberation Sans" textLength="12.4" lengthAdjust="spacingAndGlyphs" transform="rotate(-90 168.96 234.9)">0.01</text>
<text x="173.86" y="228.5" font-size="4.6" font-weight="bold" text-anchor="middle" fill="#111" stroke="#111" stroke-width="0.28" font-family="Liberation Sans" textLength="3.1" lengthAdjust="spacingAndGlyphs" transform="rotate(-90 173.86 228.5)">B</text>
<circle cx="195.1" cy="223.5" r="1.25" fill="#1e1e1e"/>
<polyline points="195,223.5 195,247.5" fill="none" stroke="#555" stroke-width="1"/>
<path d="M192.2 237.05L197.8 237.05L195 232.95Z" fill="#1e1e1e"/>
<polyline points="192.6,232.95 197.4,232.95" fill="none" stroke="#1e1e1e" stroke-width="1.1"/>
<rect x="192" y="247" width="6.2" height="1.3" fill="#222"/>
<path d="M192.8 248.1L197.4 248.1L195.1 250Z" fill="#333"/>
<text x="191.76" y="235.9" font-size="4.6" font-weight="bold" text-anchor="middle" fill="#111" stroke="#111" stroke-width="0.28" font-family="Liberation Sans" textLength="14.5" lengthAdjust="spacingAndGlyphs" transform="rotate(-90 191.76 235.9)">D2602</text>
<text x="202.56" y="234.3" font-size="4.6" font-weight="bold" text-anchor="middle" fill="#111" stroke="#111" stroke-width="0.28" font-family="Liberation Sans" textLength="18.6" lengthAdjust="spacingAndGlyphs" transform="rotate(-90 202.56 234.3)">BAS316</text>
<polyline points="206.7,184.7 206.7,223.5" fill="none" stroke="#000" stroke-width="1.1" stroke-dasharray="2.8,1.8"/>
<polyline points="266.1,184.7 266.1,223.5" fill="none" stroke="#000" stroke-width="1.1" stroke-dasharray="2.8,1.8"/>
<polyline points="206.7,184.7 266.1,184.7" fill="none" stroke="#000" stroke-width="1.1" stroke-dasharray="2.8,1.8"/>
<polyline points="206.7,227.5 266.1,227.5" fill="none" stroke="#000" stroke-width="1.2" stroke-dasharray="2.8,1.8"/>
<polyline points="206.7,223.5 206.7,227.5" fill="none" stroke="#000" stroke-width="1.1"/>
<polyline points="266.1,223.5 266.1,227.5" fill="none" stroke="#000" stroke-width="1.1"/>
<polyline points="213.2,184.7 213.2,202.9" fill="none" stroke="#1e1e1e" stroke-width="1"/>
<polyline points="222.3,184.7 222.3,203.4" fill="none" stroke="#1e1e1e" stroke-width="1"/>
<polyline points="231.4,184.7 231.4,202.9" fill="none" stroke="#1e1e1e" stroke-width="1"/>
<path d="M213.2 196.5L213.2 202.9L222.3 199.7Z" fill="#1e1e1e"/>
<path d="M231.4 196.5L231.4 202.9L222.3 199.7Z" fill="none" stroke="#1e1e1e" stroke-width="0.8"/>
<polyline points="240.5,184.7 240.5,202.9" fill="none" stroke="#1e1e1e" stroke-width="1"/>
<polyline points="249.6,184.7 249.6,203.4" fill="none" stroke="#1e1e1e" stroke-width="1"/>
<polyline points="258.7,184.7 258.7,202.9" fill="none" stroke="#1e1e1e" stroke-width="1"/>
<path d="M240.5 196.5L240.5 202.9L249.6 199.7Z" fill="#1e1e1e"/>
<path d="M258.7 196.5L258.7 202.9L249.6 199.7Z" fill="none" stroke="#1e1e1e" stroke-width="0.8"/>
<circle cx="213.2" cy="184.7" r="2.25" fill="#a8a8a8" stroke="#1e1e1e" stroke-width="0.9"/>
<path d="M212.6 183.3L214.4 185.3" stroke="#333" stroke-width="0.8"/>
<circle cx="222.3" cy="184.7" r="2.25" fill="#a8a8a8" stroke="#1e1e1e" stroke-width="0.9"/>
<path d="M221.7 183.3L223.5 185.3" stroke="#333" stroke-width="0.8"/>
<circle cx="231.4" cy="184.7" r="2.25" fill="#a8a8a8" stroke="#1e1e1e" stroke-width="0.9"/>
<path d="M230.8 183.3L232.6 185.3" stroke="#333" stroke-width="0.8"/>
<circle cx="240.5" cy="184.7" r="2.25" fill="#a8a8a8" stroke="#1e1e1e" stroke-width="0.9"/>
<path d="M239.9 183.3L241.7 185.3" stroke="#333" stroke-width="0.8"/>
<circle cx="249.6" cy="184.7" r="2.25" fill="#a8a8a8" stroke="#1e1e1e" stroke-width="0.9"/>
<path d="M249 183.3L250.8 185.3" stroke="#333" stroke-width="0.8"/>
<circle cx="258.7" cy="184.7" r="2.25" fill="#a8a8a8" stroke="#1e1e1e" stroke-width="0.9"/>
<path d="M258.1 183.3L259.9 185.3" stroke="#333" stroke-width="0.8"/>
<polyline points="206.7,223.5 228.3,223.5 228.3,214" fill="none" stroke="#1e1e1e" stroke-width="1"/>
<path d="M228.3 214Q228.3 212.1 230.3 212.1" fill="none" stroke="#1e1e1e" stroke-width="1"/>
<polyline points="230.3,212.1 242.6,212.1" fill="none" stroke="#1e1e1e" stroke-width="1"/>
<path d="M242.6 212.1Q244.6 212.1 244.6 214" fill="none" stroke="#1e1e1e" stroke-width="1"/>
<polyline points="244.6,214 244.6,223.5 266.1,223.5" fill="none" stroke="#1e1e1e" stroke-width="1"/>
<polyline points="225.9,208.5 247,208.5" fill="none" stroke="#555" stroke-width="1"/>
<ellipse cx="234.25" cy="214.9" rx="1.5" ry="2.2" fill="none" stroke="#1e1e1e" stroke-width="0.8"/>
<ellipse cx="238.65" cy="214.9" rx="1.5" ry="2.2" fill="none" stroke="#1e1e1e" stroke-width="0.8"/>
<polyline points="210.7,219.3 215.9,219.3" fill="none" stroke="#222" stroke-width="0.9"/>
<polyline points="213.3,216.7 213.3,221.9" fill="none" stroke="#222" stroke-width="0.9"/>
<polyline points="259.1,222.5 259.1,218" fill="none" stroke="#333" stroke-width="1"/>
<circle cx="206.7" cy="223.5" r="2.3" fill="#f4f4f4" stroke="#1e1e1e" stroke-width="0.9"/>
<polyline points="205.3,223.5 208.1,223.5" fill="none" stroke="#555" stroke-width="0.7"/>
<circle cx="266.1" cy="223.5" r="2.3" fill="#7a7a7a" stroke="#1e1e1e" stroke-width="0.9"/>
<polyline points="213.2,184.7 213.2,178 194.6,178 194.6,191.2" fill="none" stroke="#1e1e1e" stroke-width="1"/>
<rect x="191.5" y="191.7" width="6.2" height="1.3" fill="#222"/>
<path d="M192.3 192.8L196.9 192.8L194.6 194.7Z" fill="#333"/>
<polyline points="222.3,184.7 222.3,168.7 313.5,168.7" fill="none" stroke="#1e1e1e" stroke-width="1"/>
<polyline points="231.4,184.7 231.4,178 295.5,178" fill="none" stroke="#1e1e1e" stroke-width="1"/>
<circle cx="295.5" cy="178" r="1.25" fill="#1e1e1e"/>
<polyline points="266.1,223.5 277,223.5 277,232.5" fill="none" stroke="#1e1e1e" stroke-width="1"/>
<rect x="273.9" y="232" width="6.2" height="1.3" fill="#222"/>
<path d="M274.7 233.1L279.3 233.1L277 235Z" fill="#333"/>
<text x="199.06" y="205.1" font-size="4.6" font-weight="bold" text-anchor="middle" fill="#111" stroke="#111" stroke-width="0.28" font-family="Liberation Sans" textLength="17.4" lengthAdjust="spacingAndGlyphs" transform="rotate(-90 199.06 205.1)">RL2602</text>
<text x="203.06" y="204.7" font-size="4.6" font-weight="bold" text-anchor="middle" fill="#111" stroke="#111" stroke-width="0.28" font-family="Liberation Sans" textLength="23.6" lengthAdjust="spacingAndGlyphs" transform="rotate(-90 203.06 204.7)">G6K-2F-Y</text>
<text x="271.1" y="204.7" font-size="5" font-weight="bold" text-anchor="middle" fill="#111" stroke="#111" stroke-width="0.1" font-family="Liberation Sans" textLength="17" lengthAdjust="spacingAndGlyphs" transform="rotate(-90 271.1 204.7)">DC12V</text>
<polyline points="313.5,168.7 313.5,191.8" fill="none" stroke="#1e1e1e" stroke-width="1"/>
<circle cx="313.5" cy="191.8" r="1.25" fill="#1e1e1e"/>
<polyline points="313.5,191.8 524.1,191.8" fill="none" stroke="#1e1e1e" stroke-width="1"/>
<polyline points="313.5,191.8 313.5,211" fill="none" stroke="#1e1e1e" stroke-width="1"/>
<polyline points="313.5,213.9 313.5,233.4" fill="none" stroke="#1e1e1e" stroke-width="1"/>
<rect x="311" y="210.25" width="5" height="1.5" fill="#1e1e1e"/>
<rect x="311" y="213.15" width="5" height="1.5" fill="#1e1e1e"/>
<text x="307.36" y="213.1" font-size="4.6" font-weight="bold" text-anchor="middle" fill="#111" stroke="#111" stroke-width="0.28" font-family="Liberation Sans" textLength="15.5" lengthAdjust="spacingAndGlyphs" transform="rotate(-90 307.36 213.1)">C2614</text>
<text x="311.06" y="214.2" font-size="4.6" font-weight="bold" text-anchor="middle" fill="#111" stroke="#111" stroke-width="0.28" font-family="Liberation Sans" textLength="15.6" lengthAdjust="spacingAndGlyphs" transform="rotate(-90 311.06 214.2)">390 CH</text>
<rect x="310.4" y="232.9" width="6.2" height="1.3" fill="#222"/>
<path d="M311.2 234L315.8 234L313.5 235.9Z" fill="#333"/>
<circle cx="345.6" cy="191.8" r="1.25" fill="#1e1e1e"/>
<circle cx="345.6" cy="200.7" r="1.25" fill="#1e1e1e"/>
<circle cx="345.6" cy="223.3" r="1.25" fill="#1e1e1e"/>
<polyline points="345.6,191.8 345.6,200.7" fill="none" stroke="#1e1e1e" stroke-width="1"/>
<polyline points="345.6,200.7 352.2,200.7 352.2,223.3 345.6,223.3" fill="none" stroke="#1e1e1e" stroke-width="1"/>
<polyline points="345.6,200.7 345.6,210.8" fill="none" stroke="#1e1e1e" stroke-width="1"/>
<polyline points="345.6,213.6 345.6,223.3" fill="none" stroke="#1e1e1e" stroke-width="1"/>
<rect x="343.1" y="210.05" width="5" height="1.5" fill="#1e1e1e"/>
<rect x="343.1" y="212.85" width="5" height="1.5" fill="#1e1e1e"/>
<rect x="351.5" y="211.2" width="1.4" height="2" fill="#fff"/>
<rect x="349.7" y="210.05" width="5.0" height="1.5" fill="#1e1e1e"/>
<rect x="349.7" y="212.85" width="5.0" height="1.5" fill="#1e1e1e"/>
<polyline points="345.6,223.3 345.6,233.4" fill="none" stroke="#1e1e1e" stroke-width="1"/>
<text x="337.66" y="212.7" font-size="4.6" font-weight="bold" text-anchor="middle" fill="#111" stroke="#111" stroke-width="0.28" font-family="Liberation Sans" textLength="15.5" lengthAdjust="spacingAndGlyphs" transform="rotate(-90 337.66 212.7)">C2620</text>
<text x="342.06" y="212.7" font-size="4.6" font-weight="bold" text-anchor="middle" fill="#111" stroke="#111" stroke-width="0.28" font-family="Liberation Sans" textLength="8.7" lengthAdjust="spacingAndGlyphs" transform="rotate(-90 342.06 212.7)">390</text>
<text x="345.06" y="204.2" font-size="4.6" font-weight="bold" text-anchor="middle" fill="#111" stroke="#111" stroke-width="0.28" font-family="Liberation Sans" textLength="6.2" lengthAdjust="spacingAndGlyphs" transform="rotate(-90 345.06 204.2)">CH</text>
<text x="358.46" y="212.2" font-size="4.6" font-weight="bold" text-anchor="middle" fill="#111" stroke="#111" stroke-width="0.28" font-family="Liberation Sans" textLength="9.3" lengthAdjust="spacingAndGlyphs" transform="rotate(-90 358.46 212.2)">25V</text>
<text x="362.66" y="212.2" font-size="4.6" font-weight="bold" text-anchor="middle" fill="#111" stroke="#111" stroke-width="0.28" font-family="Liberation Sans" textLength="6.2" lengthAdjust="spacingAndGlyphs" transform="rotate(-90 362.66 212.2)">CH</text>
<rect x="342.5" y="232.9" width="6.2" height="1.3" fill="#222"/>
<path d="M343.3 234L347.9 234L345.6 235.9Z" fill="#333"/>
<circle cx="377.5" cy="191.8" r="1.25" fill="#1e1e1e"/>
<circle cx="377.5" cy="200.7" r="1.25" fill="#1e1e1e"/>
<circle cx="377.5" cy="223.3" r="1.25" fill="#1e1e1e"/>
<polyline points="377.5,191.8 377.5,200.7" fill="none" stroke="#1e1e1e" stroke-width="1"/>
<polyline points="377.5,200.7 384.1,200.7 384.1,223.3 377.5,223.3" fill="none" stroke="#1e1e1e" stroke-width="1"/>
<polyline points="377.5,200.7 377.5,210.8" fill="none" stroke="#1e1e1e" stroke-width="1"/>
<polyline points="377.5,213.6 377.5,223.3" fill="none" stroke="#1e1e1e" stroke-width="1"/>
<rect x="375" y="210.05" width="5" height="1.5" fill="#1e1e1e"/>
<rect x="375" y="212.85" width="5" height="1.5" fill="#1e1e1e"/>
<rect x="383.4" y="211.2" width="1.4" height="2" fill="#fff"/>
<rect x="381.6" y="210.05" width="5.0" height="1.5" fill="#1e1e1e"/>
<rect x="381.6" y="212.85" width="5.0" height="1.5" fill="#1e1e1e"/>
<polyline points="377.5,223.3 377.5,233.4" fill="none" stroke="#1e1e1e" stroke-width="1"/>
<text x="369.56" y="212.7" font-size="4.6" font-weight="bold" text-anchor="middle" fill="#111" stroke="#111" stroke-width="0.28" font-family="Liberation Sans" textLength="15.5" lengthAdjust="spacingAndGlyphs" transform="rotate(-90 369.56 212.7)">C2626</text>
<text x="373.96" y="212.7" font-size="4.6" font-weight="bold" text-anchor="middle" fill="#111" stroke="#111" stroke-width="0.28" font-family="Liberation Sans" textLength="8.7" lengthAdjust="spacingAndGlyphs" transform="rotate(-90 373.96 212.7)">390</text>
<text x="376.96" y="204.2" font-size="4.6" font-weight="bold" text-anchor="middle" fill="#111" stroke="#111" stroke-width="0.28" font-family="Liberation Sans" textLength="6.2" lengthAdjust="spacingAndGlyphs" transform="rotate(-90 376.96 204.2)">CH</text>
<text x="390.36" y="212.2" font-size="4.6" font-weight="bold" text-anchor="middle" fill="#111" stroke="#111" stroke-width="0.28" font-family="Liberation Sans" textLength="9.3" lengthAdjust="spacingAndGlyphs" transform="rotate(-90 390.36 212.2)">25V</text>
<text x="394.56" y="212.2" font-size="4.6" font-weight="bold" text-anchor="middle" fill="#111" stroke="#111" stroke-width="0.28" font-family="Liberation Sans" textLength="6.2" lengthAdjust="spacingAndGlyphs" transform="rotate(-90 394.56 212.2)">CH</text>
<rect x="374.4" y="232.9" width="6.2" height="1.3" fill="#222"/>
<path d="M375.2 234L379.8 234L377.5 235.9Z" fill="#333"/>
<circle cx="409.5" cy="191.8" r="1.25" fill="#1e1e1e"/>
<polyline points="409.5,191.8 409.5,211" fill="none" stroke="#1e1e1e" stroke-width="1"/>
<polyline points="409.5,213.9 409.5,233.4" fill="none" stroke="#1e1e1e" stroke-width="1"/>
<rect x="407" y="210.25" width="5" height="1.5" fill="#1e1e1e"/>
<rect x="407" y="213.15" width="5" height="1.5" fill="#1e1e1e"/>
<text x="403.36" y="213.1" font-size="4.6" font-weight="bold" text-anchor="middle" fill="#111" stroke="#111" stroke-width="0.28" font-family="Liberation Sans" textLength="15.5" lengthAdjust="spacingAndGlyphs" transform="rotate(-90 403.36 213.1)">C2632</text>
<text x="407.06" y="214.2" font-size="4.6" font-weight="bold" text-anchor="middle" fill="#111" stroke="#111" stroke-width="0.28" font-family="Liberation Sans" textLength="15.6" lengthAdjust="spacingAndGlyphs" transform="rotate(-90 407.06 214.2)">390 CH</text>
<rect x="406.4" y="232.9" width="6.2" height="1.3" fill="#222"/>
<path d="M407.2 234L411.8 234L409.5 235.9Z" fill="#333"/>
<rect x="323.8" y="190.6" width="12" height="2.4" fill="#fff"/>
<polyline points="323,191.8 324.8,189.9 334.8,189.9 336.6,191.8" fill="none" stroke="#1e1e1e" stroke-width="1"/>
<rect x="326.45" y="189.6" width="1.5" height="4.2" rx="0.5" fill="#1e1e1e"/>
<rect x="329.25" y="189.6" width="1.5" height="4.2" rx="0.5" fill="#1e1e1e"/>
<rect x="332.05" y="189.6" width="1.5" height="4.2" rx="0.5" fill="#1e1e1e"/>
<text x="329.8" y="183.66" font-size="4.6" font-weight="bold" text-anchor="middle" fill="#111" stroke="#111" stroke-width="0.28" font-family="Liberation Sans" textLength="15" lengthAdjust="spacingAndGlyphs">L2602</text>
<text x="329.8" y="188.66" font-size="4.6" font-weight="bold" text-anchor="middle" fill="#111" stroke="#111" stroke-width="0.28" font-family="Liberation Sans" textLength="11.2" lengthAdjust="spacingAndGlyphs">5.3u</text>
<rect x="355.6" y="190.6" width="12" height="2.4" fill="#fff"/>
<polyline points="354.8,191.8 356.6,189.9 366.6,189.9 368.4,191.8" fill="none" stroke="#1e1e1e" stroke-width="1"/>
<rect x="358.25" y="189.6" width="1.5" height="4.2" rx="0.5" fill="#1e1e1e"/>
<rect x="361.05" y="189.6" width="1.5" height="4.2" rx="0.5" fill="#1e1e1e"/>
<rect x="363.85" y="189.6" width="1.5" height="4.2" rx="0.5" fill="#1e1e1e"/>
<text x="361.6" y="183.66" font-size="4.6" font-weight="bold" text-anchor="middle" fill="#111" stroke="#111" stroke-width="0.28" font-family="Liberation Sans" textLength="15" lengthAdjust="spacingAndGlyphs">L2608</text>
<text x="361.6" y="188.66" font-size="4.6" font-weight="bold" text-anchor="middle" fill="#111" stroke="#111" stroke-width="0.28" font-family="Liberation Sans" textLength="11.2" lengthAdjust="spacingAndGlyphs">1.5u</text>
<rect x="387.6" y="190.6" width="12" height="2.4" fill="#fff"/>
<polyline points="386.8,191.8 388.6,189.9 398.6,189.9 400.4,191.8" fill="none" stroke="#1e1e1e" stroke-width="1"/>
<rect x="390.25" y="189.6" width="1.5" height="4.2" rx="0.5" fill="#1e1e1e"/>
<rect x="393.05" y="189.6" width="1.5" height="4.2" rx="0.5" fill="#1e1e1e"/>
<rect x="395.85" y="189.6" width="1.5" height="4.2" rx="0.5" fill="#1e1e1e"/>
<text x="393.6" y="183.66" font-size="4.6" font-weight="bold" text-anchor="middle" fill="#111" stroke="#111" stroke-width="0.28" font-family="Liberation Sans" textLength="15" lengthAdjust="spacingAndGlyphs">L2614</text>
<text x="393.6" y="188.66" font-size="4.6" font-weight="bold" text-anchor="middle" fill="#111" stroke="#111" stroke-width="0.28" font-family="Liberation Sans" textLength="11.2" lengthAdjust="spacingAndGlyphs">5.3u</text>
<circle cx="427.6" cy="191.8" r="1.25" fill="#1e1e1e"/>
<polyline points="427.6,191.8 427.6,233.4" fill="none" stroke="#1e1e1e" stroke-width="1"/>
<rect x="426.4" y="205.9" width="2.4" height="12" fill="#fff"/>
<polyline points="427.6,204.7 425.5,206.7 425.5,217.1 427.6,219.1" fill="none" stroke="#1e1e1e" stroke-width="1"/>
<rect x="425.4" y="209.05" width="4.4" height="1.3" rx="0.5" fill="#1e1e1e"/>
<rect x="425.4" y="211.25" width="4.4" height="1.3" rx="0.5" fill="#1e1e1e"/>
<rect x="425.4" y="213.45" width="4.4" height="1.3" rx="0.5" fill="#1e1e1e"/>
<rect x="424.5" y="232.9" width="6.2" height="1.3" fill="#222"/>
<path d="M425.3 234L429.9 234L427.6 235.9Z" fill="#333"/>
<text x="419.76" y="212.3" font-size="4.6" font-weight="bold" text-anchor="middle" fill="#111" stroke="#111" stroke-width="0.28" font-family="Liberation Sans" textLength="14.5" lengthAdjust="spacingAndGlyphs" transform="rotate(-90 419.76 212.3)">L2620</text>
<text x="424.26" y="212.3" font-size="4.6" font-weight="bold" text-anchor="middle" fill="#111" stroke="#111" stroke-width="0.28" font-family="Liberation Sans" textLength="11.2" lengthAdjust="spacingAndGlyphs" transform="rotate(-90 424.26 212.3)">1.5u</text>
<circle cx="459.9" cy="191.8" r="1.25" fill="#1e1e1e"/>
<polyline points="459.9,191.8 459.9,233.4" fill="none" stroke="#1e1e1e" stroke-width="1"/>
<rect x="458.7" y="205.9" width="2.4" height="12" fill="#fff"/>
<polyline points="459.9,204.7 457.8,206.7 457.8,217.1 459.9,219.1" fill="none" stroke="#1e1e1e" stroke-width="1"/>
<rect x="457.7" y="209.05" width="4.4" height="1.3" rx="0.5" fill="#1e1e1e"/>
<rect x="457.7" y="211.25" width="4.4" height="1.3" rx="0.5" fill="#1e1e1e"/>
<rect x="457.7" y="213.45" width="4.4" height="1.3" rx="0.5" fill="#1e1e1e"/>
<rect x="456.8" y="232.9" width="6.2" height="1.3" fill="#222"/>
<path d="M457.6 234L462.2 234L459.9 235.9Z" fill="#333"/>
<text x="452.06" y="212.3" font-size="4.6" font-weight="bold" text-anchor="middle" fill="#111" stroke="#111" stroke-width="0.28" font-family="Liberation Sans" textLength="14.5" lengthAdjust="spacingAndGlyphs" transform="rotate(-90 452.06 212.3)">L2626</text>
<text x="456.56" y="212.3" font-size="4.6" font-weight="bold" text-anchor="middle" fill="#111" stroke="#111" stroke-width="0.28" font-family="Liberation Sans" textLength="11.2" lengthAdjust="spacingAndGlyphs" transform="rotate(-90 456.56 212.3)">1.0u</text>
<circle cx="492" cy="191.8" r="1.25" fill="#1e1e1e"/>
<polyline points="492,191.8 492,233.4" fill="none" stroke="#1e1e1e" stroke-width="1"/>
<rect x="490.8" y="205.9" width="2.4" height="12" fill="#fff"/>
<polyline points="492,204.7 489.9,206.7 489.9,217.1 492,219.1" fill="none" stroke="#1e1e1e" stroke-width="1"/>
<rect x="489.8" y="209.05" width="4.4" height="1.3" rx="0.5" fill="#1e1e1e"/>
<rect x="489.8" y="211.25" width="4.4" height="1.3" rx="0.5" fill="#1e1e1e"/>
<rect x="489.8" y="213.45" width="4.4" height="1.3" rx="0.5" fill="#1e1e1e"/>
<rect x="488.9" y="232.9" width="6.2" height="1.3" fill="#222"/>
<path d="M489.7 234L494.3 234L492 235.9Z" fill="#333"/>
<text x="484.16" y="212.3" font-size="4.6" font-weight="bold" text-anchor="middle" fill="#111" stroke="#111" stroke-width="0.28" font-family="Liberation Sans" textLength="14.5" lengthAdjust="spacingAndGlyphs" transform="rotate(-90 484.16 212.3)">L2632</text>
<text x="488.66" y="212.3" font-size="4.6" font-weight="bold" text-anchor="middle" fill="#111" stroke="#111" stroke-width="0.28" font-family="Liberation Sans" textLength="11.2" lengthAdjust="spacingAndGlyphs" transform="rotate(-90 488.66 212.3)">1.0u</text>
<circle cx="524.1" cy="191.8" r="1.25" fill="#1e1e1e"/>
<polyline points="524.1,191.8 524.1,233.4" fill="none" stroke="#1e1e1e" stroke-width="1"/>
<rect x="522.9" y="205.9" width="2.4" height="12" fill="#fff"/>
<polyline points="524.1,204.7 522,206.7 522,217.1 524.1,219.1" fill="none" stroke="#1e1e1e" stroke-width="1"/>
<rect x="521.9" y="209.05" width="4.4" height="1.3" rx="0.5" fill="#1e1e1e"/>
<rect x="521.9" y="211.25" width="4.4" height="1.3" rx="0.5" fill="#1e1e1e"/>
<rect x="521.9" y="213.45" width="4.4" height="1.3" rx="0.5" fill="#1e1e1e"/>
<rect x="521" y="232.9" width="6.2" height="1.3" fill="#222"/>
<path d="M521.8 234L526.4 234L524.1 235.9Z" fill="#333"/>
<text x="516.26" y="212.3" font-size="4.6" font-weight="bold" text-anchor="middle" fill="#111" stroke="#111" stroke-width="0.28" font-family="Liberation Sans" textLength="14.5" lengthAdjust="spacingAndGlyphs" transform="rotate(-90 516.26 212.3)">L2638</text>
<text x="520.76" y="212.3" font-size="4.6" font-weight="bold" text-anchor="middle" fill="#111" stroke="#111" stroke-width="0.28" font-family="Liberation Sans" textLength="11.2" lengthAdjust="spacingAndGlyphs" transform="rotate(-90 520.76 212.3)">1.5u</text>
<rect x="442.7" y="190.8" width="2.4" height="2" fill="#fff"/>
<rect x="441.85" y="189.5" width="1.1" height="4.6" fill="#1e1e1e"/>
<rect x="444.85" y="189.5" width="1.1" height="4.6" fill="#1e1e1e"/>
<text x="443.5" y="179.76" font-size="4.6" font-weight="bold" text-anchor="middle" fill="#111" stroke="#111" stroke-width="0.28" font-family="Liberation Sans" textLength="15.5" lengthAdjust="spacingAndGlyphs">C2638</text>
<text x="443.5" y="184.36" font-size="4.6" font-weight="bold" text-anchor="middle" fill="#111" stroke="#111" stroke-width="0.28" font-family="Liberation Sans" textLength="12" lengthAdjust="spacingAndGlyphs">330p</text>
<text x="451.4" y="188.76" font-size="4.6" font-weight="bold" text-anchor="middle" fill="#111" stroke="#111" stroke-width="0.28" font-family="Liberation Sans" textLength="6" lengthAdjust="spacingAndGlyphs">CH</text>
<rect x="474.8" y="190.8" width="2.4" height="2" fill="#fff"/>
<rect x="473.95" y="189.5" width="1.1" height="4.6" fill="#1e1e1e"/>
<rect x="476.95" y="189.5" width="1.1" height="4.6" fill="#1e1e1e"/>
<text x="475.6" y="179.76" font-size="4.6" font-weight="bold" text-anchor="middle" fill="#111" stroke="#111" stroke-width="0.28" font-family="Liberation Sans" textLength="15.5" lengthAdjust="spacingAndGlyphs">C2645</text>
<text x="475.6" y="184.36" font-size="4.6" font-weight="bold" text-anchor="middle" fill="#111" stroke="#111" stroke-width="0.28" font-family="Liberation Sans" textLength="12" lengthAdjust="spacingAndGlyphs">220p</text>
<text x="483.5" y="188.76" font-size="4.6" font-weight="bold" text-anchor="middle" fill="#111" stroke="#111" stroke-width="0.28" font-family="Liberation Sans" textLength="6" lengthAdjust="spacingAndGlyphs">CH</text>
<rect x="506.8" y="190.8" width="2.4" height="2" fill="#fff"/>
<rect x="505.95" y="189.5" width="1.1" height="4.6" fill="#1e1e1e"/>
<rect x="508.95" y="189.5" width="1.1" height="4.6" fill="#1e1e1e"/>
<text x="507.6" y="179.76" font-size="4.6" font-weight="bold" text-anchor="middle" fill="#111" stroke="#111" stroke-width="0.28" font-family="Liberation Sans" textLength="15.5" lengthAdjust="spacingAndGlyphs">C2651</text>
<text x="507.6" y="184.36" font-size="4.6" font-weight="bold" text-anchor="middle" fill="#111" stroke="#111" stroke-width="0.28" font-family="Liberation Sans" textLength="12" lengthAdjust="spacingAndGlyphs">330p</text>
<text x="515.5" y="188.76" font-size="4.6" font-weight="bold" text-anchor="middle" fill="#111" stroke="#111" stroke-width="0.28" font-family="Liberation Sans" textLength="6" lengthAdjust="spacingAndGlyphs">CH</text>
<polyline points="524.1,191.8 524.1,168.7 614.5,168.7" fill="none" stroke="#1e1e1e" stroke-width="1"/>
<rect x="340.6" y="166.5" width="78.4" height="10" fill="#fff" stroke="#3a3a3a" stroke-width="1"/>
<text x="342.3" y="174.1" font-size="7.7" font-weight="normal" text-anchor="start" fill="#2a2a2a" font-family="Liberation Mono" textLength="73.12" lengthAdjust="spacingAndGlyphs">B8:9.9 - 13.9MHz</text>
<polyline points="571.6,184.7 571.6,223.5" fill="none" stroke="#000" stroke-width="1.1" stroke-dasharray="2.8,1.8"/>
<polyline points="631,184.7 631,223.5" fill="none" stroke="#000" stroke-width="1.1" stroke-dasharray="2.8,1.8"/>
<polyline points="571.6,184.7 631,184.7" fill="none" stroke="#000" stroke-width="1.1" stroke-dasharray="2.8,1.8"/>
<polyline points="571.6,227.5 631,227.5" fill="none" stroke="#000" stroke-width="1.2" stroke-dasharray="2.8,1.8"/>
<polyline points="571.6,223.5 571.6,227.5" fill="none" stroke="#000" stroke-width="1.1"/>
<polyline points="631,223.5 631,227.5" fill="none" stroke="#000" stroke-width="1.1"/>
<polyline points="578.1,184.7 578.1,202.9" fill="none" stroke="#1e1e1e" stroke-width="1"/>
<polyline points="587.2,184.7 587.2,203.4" fill="none" stroke="#1e1e1e" stroke-width="1"/>
<polyline points="596.3,184.7 596.3,202.9" fill="none" stroke="#1e1e1e" stroke-width="1"/>
<path d="M578.1 196.5L578.1 202.9L587.2 199.7Z" fill="none" stroke="#1e1e1e" stroke-width="0.8"/>
<path d="M596.3 196.5L596.3 202.9L587.2 199.7Z" fill="#1e1e1e"/>
<polyline points="605.4,184.7 605.4,202.9" fill="none" stroke="#1e1e1e" stroke-width="1"/>
<polyline points="614.5,184.7 614.5,203.4" fill="none" stroke="#1e1e1e" stroke-width="1"/>
<polyline points="623.6,184.7 623.6,202.9" fill="none" stroke="#1e1e1e" stroke-width="1"/>
<path d="M605.4 196.5L605.4 202.9L614.5 199.7Z" fill="none" stroke="#1e1e1e" stroke-width="0.8"/>
<path d="M623.6 196.5L623.6 202.9L614.5 199.7Z" fill="#1e1e1e"/>
<circle cx="578.1" cy="184.7" r="2.25" fill="#a8a8a8" stroke="#1e1e1e" stroke-width="0.9"/>
<path d="M577.5 183.3L579.3 185.3" stroke="#333" stroke-width="0.8"/>
<circle cx="587.2" cy="184.7" r="2.25" fill="#a8a8a8" stroke="#1e1e1e" stroke-width="0.9"/>
<path d="M586.6 183.3L588.4 185.3" stroke="#333" stroke-width="0.8"/>
<circle cx="596.3" cy="184.7" r="2.25" fill="#a8a8a8" stroke="#1e1e1e" stroke-width="0.9"/>
<path d="M595.7 183.3L597.5 185.3" stroke="#333" stroke-width="0.8"/>
<circle cx="605.4" cy="184.7" r="2.25" fill="#a8a8a8" stroke="#1e1e1e" stroke-width="0.9"/>
<path d="M604.8 183.3L606.6 185.3" stroke="#333" stroke-width="0.8"/>
<circle cx="614.5" cy="184.7" r="2.25" fill="#a8a8a8" stroke="#1e1e1e" stroke-width="0.9"/>
<path d="M613.9 183.3L615.7 185.3" stroke="#333" stroke-width="0.8"/>
<circle cx="623.6" cy="184.7" r="2.25" fill="#a8a8a8" stroke="#1e1e1e" stroke-width="0.9"/>
<path d="M623 183.3L624.8 185.3" stroke="#333" stroke-width="0.8"/>
<polyline points="571.6,223.5 593.2,223.5 593.2,214" fill="none" stroke="#1e1e1e" stroke-width="1"/>
<path d="M593.2 214Q593.2 212.1 595.2 212.1" fill="none" stroke="#1e1e1e" stroke-width="1"/>
<polyline points="595.2,212.1 607.5,212.1" fill="none" stroke="#1e1e1e" stroke-width="1"/>
<path d="M607.5 212.1Q609.5 212.1 609.5 214" fill="none" stroke="#1e1e1e" stroke-width="1"/>
<polyline points="609.5,214 609.5,223.5 631,223.5" fill="none" stroke="#1e1e1e" stroke-width="1"/>
<polyline points="590.8,208.5 611.9,208.5" fill="none" stroke="#555" stroke-width="1"/>
<ellipse cx="599.15" cy="214.9" rx="1.5" ry="2.2" fill="none" stroke="#1e1e1e" stroke-width="0.8"/>
<ellipse cx="603.55" cy="214.9" rx="1.5" ry="2.2" fill="none" stroke="#1e1e1e" stroke-width="0.8"/>
<polyline points="621.8,219.3 627,219.3" fill="none" stroke="#222" stroke-width="0.9"/>
<polyline points="624.4,216.7 624.4,221.9" fill="none" stroke="#222" stroke-width="0.9"/>
<polyline points="578.6,222.5 578.6,218" fill="none" stroke="#333" stroke-width="1"/>
<circle cx="571.6" cy="223.5" r="2.3" fill="#7a7a7a" stroke="#1e1e1e" stroke-width="0.9"/>
<circle cx="631" cy="223.5" r="2.3" fill="#f4f4f4" stroke="#1e1e1e" stroke-width="0.9"/>
<polyline points="629.6,223.5 632.4,223.5" fill="none" stroke="#555" stroke-width="0.7"/>
<polyline points="605.4,184.7 605.4,178 542,178" fill="none" stroke="#1e1e1e" stroke-width="1"/>
<circle cx="542" cy="178" r="1.25" fill="#1e1e1e"/>
<polyline points="614.5,184.7 614.5,168.7" fill="none" stroke="#1e1e1e" stroke-width="1"/>
<polyline points="623.6,184.7 623.6,178 641.8,178 641.8,191.2" fill="none" stroke="#1e1e1e" stroke-width="1"/>
<rect x="638.7" y="191.7" width="6.2" height="1.3" fill="#222"/>
<path d="M639.5 192.8L644.1 192.8L641.8 194.7Z" fill="#333"/>
<polyline points="571.6,223.5 560.3,223.5 560.3,233" fill="none" stroke="#1e1e1e" stroke-width="1"/>
<rect x="557.2" y="232.8" width="6.2" height="1.3" fill="#222"/>
<path d="M558 233.9L562.6 233.9L560.3 235.8Z" fill="#333"/>
<text x="571.1" y="205.9" font-size="5" font-weight="bold" text-anchor="middle" fill="#111" stroke="#111" stroke-width="0.1" font-family="Liberation Sans" textLength="16" lengthAdjust="spacingAndGlyphs" transform="rotate(-90 571.1 205.9)">DC12V</text>
<text x="638.16" y="205.1" font-size="4.6" font-weight="bold" text-anchor="middle" fill="#111" stroke="#111" stroke-width="0.28" font-family="Liberation Sans" textLength="23.6" lengthAdjust="spacingAndGlyphs" transform="rotate(-90 638.16 205.1)">G6K-2F-Y</text>
<text x="642.56" y="205.1" font-size="4.6" font-weight="bold" text-anchor="middle" fill="#111" stroke="#111" stroke-width="0.28" font-family="Liberation Sans" textLength="17.4" lengthAdjust="spacingAndGlyphs" transform="rotate(-90 642.56 205.1)">RL2608</text>
<polyline points="631,223.5 698.2,223.5 702,227.5" fill="none" stroke="#1e1e1e" stroke-width="1"/>
<circle cx="642.6" cy="223.5" r="1.25" fill="#1e1e1e"/>
<polyline points="642.6,223.5 642.6,247.5" fill="none" stroke="#555" stroke-width="1"/>
<path d="M639.8 237.05L645.4 237.05L642.6 232.95Z" fill="#1e1e1e"/>
<polyline points="640.2,232.95 645,232.95" fill="none" stroke="#1e1e1e" stroke-width="1.1"/>
<rect x="639.5" y="247" width="6.2" height="1.3" fill="#222"/>
<path d="M640.3 248.1L644.9 248.1L642.6 250Z" fill="#333"/>
<text x="638.86" y="235.9" font-size="4.6" font-weight="bold" text-anchor="middle" fill="#111" stroke="#111" stroke-width="0.28" font-family="Liberation Sans" textLength="14.5" lengthAdjust="spacingAndGlyphs" transform="rotate(-90 638.86 235.9)">D2608</text>
<text x="649.66" y="234.3" font-size="4.6" font-weight="bold" text-anchor="middle" fill="#111" stroke="#111" stroke-width="0.28" font-family="Liberation Sans" textLength="18.6" lengthAdjust="spacingAndGlyphs" transform="rotate(-90 649.66 234.3)">BAS316</text>
<circle cx="661" cy="223.5" r="1.25" fill="#1e1e1e"/>
<polyline points="661,223.5 661,233.6" fill="none" stroke="#1e1e1e" stroke-width="1"/>
<polyline points="661,236.4 661,247.5" fill="none" stroke="#1e1e1e" stroke-width="1"/>
<rect x="658.4" y="232.85" width="5.2" height="1.5" fill="#1e1e1e"/>
<rect x="658.4" y="235.65" width="5.2" height="1.5" fill="#1e1e1e"/>
<rect x="657.9" y="247" width="6.2" height="1.3" fill="#222"/>
<path d="M658.7 248.1L663.3 248.1L661 250Z" fill="#333"/>
<text x="656.56" y="235.5" font-size="4.6" font-weight="bold" text-anchor="middle" fill="#111" stroke="#111" stroke-width="0.28" font-family="Liberation Sans" textLength="15.5" lengthAdjust="spacingAndGlyphs" transform="rotate(-90 656.56 235.5)">C2618</text>
<text x="668.66" y="236.1" font-size="4.6" font-weight="bold" text-anchor="middle" fill="#111" stroke="#111" stroke-width="0.28" font-family="Liberation Sans" textLength="12.4" lengthAdjust="spacingAndGlyphs" transform="rotate(-90 668.66 236.1)">0.01</text>
<text x="667.66" y="228.1" font-size="4.6" font-weight="bold" text-anchor="middle" fill="#111" stroke="#111" stroke-width="0.28" font-family="Liberation Sans" textLength="3.1" lengthAdjust="spacingAndGlyphs" transform="rotate(-90 667.66 228.1)">B</text>
<rect x="673" y="222.5" width="8" height="2" fill="#fff"/>
<polyline points="672.8,223.5 673.5,221.5 674.9,225.5 676.3,221.5 677.7,225.5 679.1,221.5 680.5,225.5 681.2,223.5" fill="none" stroke="#1e1e1e" stroke-width="1"/>
<text x="677" y="216.16" font-size="4.6" font-weight="bold" text-anchor="middle" fill="#111" stroke="#111" stroke-width="0.28" font-family="Liberation Sans" textLength="15.5" lengthAdjust="spacingAndGlyphs">R2608</text>
<text x="677.4" y="220.76" font-size="4.6" font-weight="bold" text-anchor="middle" fill="#111" stroke="#111" stroke-width="0.28" font-family="Liberation Sans" textLength="8.1" lengthAdjust="spacingAndGlyphs">100</text>
<text x="693.9" y="221.57" font-size="5.2" font-weight="bold" text-anchor="middle" fill="#111" stroke="#111" stroke-width="0.28" font-family="Liberation Sans" textLength="5.8" lengthAdjust="spacingAndGlyphs">B8</text>
<polyline points="135.7,314.4 139.5,310.4 206.7,310.4" fill="none" stroke="#1e1e1e" stroke-width="1"/>
<text x="143.4" y="308.77" font-size="5.2" font-weight="bold" text-anchor="middle" fill="#111" stroke="#111" stroke-width="0.28" font-family="Liberation Sans" textLength="5.8" lengthAdjust="spacingAndGlyphs">B7</text>
<circle cx="153.9" cy="310.4" r="1.25" fill="#1e1e1e"/>
<polyline points="153.8,310.4 153.8,320.5" fill="none" stroke="#1e1e1e" stroke-width="1"/>
<polyline points="153.8,323.3 153.8,334.4" fill="none" stroke="#1e1e1e" stroke-width="1"/>
<rect x="151.1" y="319.75" width="5.4" height="1.5" fill="#1e1e1e"/>
<path d="M151.1 324.3Q153.8 322.7 156.5 324.3" fill="none" stroke="#1e1e1e" stroke-width="1.2"/>
<rect x="150.8" y="333.9" width="6.2" height="1.3" fill="#222"/>
<path d="M151.6 335L156.2 335L153.9 336.9Z" fill="#333"/>
<text x="141.86" y="322" font-size="4.6" font-weight="bold" text-anchor="middle" fill="#111" stroke="#111" stroke-width="0.28" font-family="Liberation Sans" textLength="15.5" lengthAdjust="spacingAndGlyphs" transform="rotate(-90 141.86 322)">C2613</text>
<text x="146.06" y="321.8" font-size="4.6" font-weight="bold" text-anchor="middle" fill="#111" stroke="#111" stroke-width="0.28" font-family="Liberation Sans" textLength="8.4" lengthAdjust="spacingAndGlyphs" transform="rotate(-90 146.06 321.8)">2.2</text>
<text x="150.86" y="325.4" font-size="4.6" font-weight="bold" text-anchor="middle" fill="#111" stroke="#111" stroke-width="0.28" font-family="Liberation Sans" textLength="8.7" lengthAdjust="spacingAndGlyphs" transform="rotate(-90 150.86 325.4)">16V</text>
<text x="151.16" y="315.6" font-size="4.6" font-weight="bold" text-anchor="middle" fill="#111" stroke="#111" stroke-width="0.28" font-family="Liberation Sans" textLength="3.1" lengthAdjust="spacingAndGlyphs" transform="rotate(-90 151.16 315.6)">B</text>
<rect x="161.2" y="309.4" width="8" height="2" fill="#fff"/>
<polyline points="161,310.4 161.7,308.4 163.1,312.4 164.5,308.4 165.9,312.4 167.3,308.4 168.7,312.4 169.4,310.4" fill="none" stroke="#1e1e1e" stroke-width="1"/>
<text x="165" y="302.86" font-size="4.6" font-weight="bold" text-anchor="middle" fill="#111" stroke="#111" stroke-width="0.28" font-family="Liberation Sans" textLength="15.5" lengthAdjust="spacingAndGlyphs">R2603</text>
<text x="166" y="307.66" font-size="4.6" font-weight="bold" text-anchor="middle" fill="#111" stroke="#111" stroke-width="0.28" font-family="Liberation Sans" textLength="8.1" lengthAdjust="spacingAndGlyphs">100</text>
<circle cx="176.6" cy="310.4" r="1.25" fill="#1e1e1e"/>
<polyline points="176.5,310.4 176.5,320.5" fill="none" stroke="#1e1e1e" stroke-width="1"/>
<polyline points="176.5,323.3 176.5,334.4" fill="none" stroke="#1e1e1e" stroke-width="1"/>
<rect x="173.9" y="319.75" width="5.2" height="1.5" fill="#1e1e1e"/>
<rect x="173.9" y="322.55" width="5.2" height="1.5" fill="#1e1e1e"/>
<rect x="173.5" y="333.9" width="6.2" height="1.3" fill="#222"/>
<path d="M174.3 335L178.9 335L176.6 336.9Z" fill="#333"/>
<text x="163.96" y="321.8" font-size="4.6" font-weight="bold" text-anchor="middle" fill="#111" stroke="#111" stroke-width="0.28" font-family="Liberation Sans" textLength="15.5" lengthAdjust="spacingAndGlyphs" transform="rotate(-90 163.96 321.8)">C2609</text>
<text x="168.96" y="321.8" font-size="4.6" font-weight="bold" text-anchor="middle" fill="#111" stroke="#111" stroke-width="0.28" font-family="Liberation Sans" textLength="12.4" lengthAdjust="spacingAndGlyphs" transform="rotate(-90 168.96 321.8)">0.01</text>
<text x="173.86" y="315.4" font-size="4.6" font-weight="bold" text-anchor="middle" fill="#111" stroke="#111" stroke-width="0.28" font-family="Liberation Sans" textLength="3.1" lengthAdjust="spacingAndGlyphs" transform="rotate(-90 173.86 315.4)">B</text>
<circle cx="195.1" cy="310.4" r="1.25" fill="#1e1e1e"/>
<polyline points="195,310.4 195,334.4" fill="none" stroke="#555" stroke-width="1"/>
<path d="M192.2 323.95L197.8 323.95L195 319.85Z" fill="#1e1e1e"/>
<polyline points="192.6,319.85 197.4,319.85" fill="none" stroke="#1e1e1e" stroke-width="1.1"/>
<rect x="192" y="333.9" width="6.2" height="1.3" fill="#222"/>
<path d="M192.8 335L197.4 335L195.1 336.9Z" fill="#333"/>
<text x="191.76" y="322.8" font-size="4.6" font-weight="bold" text-anchor="middle" fill="#111" stroke="#111" stroke-width="0.28" font-family="Liberation Sans" textLength="14.5" lengthAdjust="spacingAndGlyphs" transform="rotate(-90 191.76 322.8)">D2603</text>
<text x="202.56" y="321.2" font-size="4.6" font-weight="bold" text-anchor="middle" fill="#111" stroke="#111" stroke-width="0.28" font-family="Liberation Sans" textLength="18.6" lengthAdjust="spacingAndGlyphs" transform="rotate(-90 202.56 321.2)">BAS316</text>
<polyline points="206.7,271.6 206.7,310.4" fill="none" stroke="#000" stroke-width="1.1" stroke-dasharray="2.8,1.8"/>
<polyline points="266.1,271.6 266.1,310.4" fill="none" stroke="#000" stroke-width="1.1" stroke-dasharray="2.8,1.8"/>
<polyline points="206.7,271.6 266.1,271.6" fill="none" stroke="#000" stroke-width="1.1" stroke-dasharray="2.8,1.8"/>
<polyline points="206.7,314.4 266.1,314.4" fill="none" stroke="#000" stroke-width="1.2" stroke-dasharray="2.8,1.8"/>
<polyline points="206.7,310.4 206.7,314.4" fill="none" stroke="#000" stroke-width="1.1"/>
<polyline points="266.1,310.4 266.1,314.4" fill="none" stroke="#000" stroke-width="1.1"/>
<polyline points="213.2,271.6 213.2,289.8" fill="none" stroke="#1e1e1e" stroke-width="1"/>
<polyline points="222.3,271.6 222.3,290.3" fill="none" stroke="#1e1e1e" stroke-width="1"/>
<polyline points="231.4,271.6 231.4,289.8" fill="none" stroke="#1e1e1e" stroke-width="1"/>
<path d="M213.2 283.4L213.2 289.8L222.3 286.6Z" fill="#1e1e1e"/>
<path d="M231.4 283.4L231.4 289.8L222.3 286.6Z" fill="none" stroke="#1e1e1e" stroke-width="0.8"/>
<polyline points="240.5,271.6 240.5,289.8" fill="none" stroke="#1e1e1e" stroke-width="1"/>
<polyline points="249.6,271.6 249.6,290.3" fill="none" stroke="#1e1e1e" stroke-width="1"/>
<polyline points="258.7,271.6 258.7,289.8" fill="none" stroke="#1e1e1e" stroke-width="1"/>
<path d="M240.5 283.4L240.5 289.8L249.6 286.6Z" fill="#1e1e1e"/>
<path d="M258.7 283.4L258.7 289.8L249.6 286.6Z" fill="none" stroke="#1e1e1e" stroke-width="0.8"/>
<circle cx="213.2" cy="271.6" r="2.25" fill="#a8a8a8" stroke="#1e1e1e" stroke-width="0.9"/>
<path d="M212.6 270.2L214.4 272.2" stroke="#333" stroke-width="0.8"/>
<circle cx="222.3" cy="271.6" r="2.25" fill="#a8a8a8" stroke="#1e1e1e" stroke-width="0.9"/>
<path d="M221.7 270.2L223.5 272.2" stroke="#333" stroke-width="0.8"/>
<circle cx="231.4" cy="271.6" r="2.25" fill="#a8a8a8" stroke="#1e1e1e" stroke-width="0.9"/>
<path d="M230.8 270.2L232.6 272.2" stroke="#333" stroke-width="0.8"/>
<circle cx="240.5" cy="271.6" r="2.25" fill="#a8a8a8" stroke="#1e1e1e" stroke-width="0.9"/>
<path d="M239.9 270.2L241.7 272.2" stroke="#333" stroke-width="0.8"/>
<circle cx="249.6" cy="271.6" r="2.25" fill="#a8a8a8" stroke="#1e1e1e" stroke-width="0.9"/>
<path d="M249 270.2L250.8 272.2" stroke="#333" stroke-width="0.8"/>
<circle cx="258.7" cy="271.6" r="2.25" fill="#a8a8a8" stroke="#1e1e1e" stroke-width="0.9"/>
<path d="M258.1 270.2L259.9 272.2" stroke="#333" stroke-width="0.8"/>
<polyline points="206.7,310.4 228.3,310.4 228.3,300.9" fill="none" stroke="#1e1e1e" stroke-width="1"/>
<path d="M228.3 300.9Q228.3 299 230.3 299" fill="none" stroke="#1e1e1e" stroke-width="1"/>
<polyline points="230.3,299 242.6,299" fill="none" stroke="#1e1e1e" stroke-width="1"/>
<path d="M242.6 299Q244.6 299 244.6 300.9" fill="none" stroke="#1e1e1e" stroke-width="1"/>
<polyline points="244.6,300.9 244.6,310.4 266.1,310.4" fill="none" stroke="#1e1e1e" stroke-width="1"/>
<polyline points="225.9,295.4 247,295.4" fill="none" stroke="#555" stroke-width="1"/>
<ellipse cx="234.25" cy="301.8" rx="1.5" ry="2.2" fill="none" stroke="#1e1e1e" stroke-width="0.8"/>
<ellipse cx="238.65" cy="301.8" rx="1.5" ry="2.2" fill="none" stroke="#1e1e1e" stroke-width="0.8"/>
<polyline points="210.7,306.2 215.9,306.2" fill="none" stroke="#222" stroke-width="0.9"/>
<polyline points="213.3,303.6 213.3,308.8" fill="none" stroke="#222" stroke-width="0.9"/>
<polyline points="259.1,309.4 259.1,304.9" fill="none" stroke="#333" stroke-width="1"/>
<circle cx="206.7" cy="310.4" r="2.3" fill="#f4f4f4" stroke="#1e1e1e" stroke-width="0.9"/>
<polyline points="205.3,310.4 208.1,310.4" fill="none" stroke="#555" stroke-width="0.7"/>
<circle cx="266.1" cy="310.4" r="2.3" fill="#7a7a7a" stroke="#1e1e1e" stroke-width="0.9"/>
<polyline points="213.2,271.6 213.2,264.9 194.6,264.9 194.6,278.1" fill="none" stroke="#1e1e1e" stroke-width="1"/>
<rect x="191.5" y="278.6" width="6.2" height="1.3" fill="#222"/>
<path d="M192.3 279.7L196.9 279.7L194.6 281.6Z" fill="#333"/>
<polyline points="222.3,271.6 222.3,255.6 313.5,255.6" fill="none" stroke="#1e1e1e" stroke-width="1"/>
<polyline points="231.4,271.6 231.4,264.9 295.5,264.9" fill="none" stroke="#1e1e1e" stroke-width="1"/>
<circle cx="295.5" cy="264.9" r="1.25" fill="#1e1e1e"/>
<polyline points="266.1,310.4 277,310.4 277,319.4" fill="none" stroke="#1e1e1e" stroke-width="1"/>
<rect x="273.9" y="318.9" width="6.2" height="1.3" fill="#222"/>
<path d="M274.7 320L279.3 320L277 321.9Z" fill="#333"/>
<text x="199.06" y="292" font-size="4.6" font-weight="bold" text-anchor="middle" fill="#111" stroke="#111" stroke-width="0.28" font-family="Liberation Sans" textLength="17.4" lengthAdjust="spacingAndGlyphs" transform="rotate(-90 199.06 292)">RL2603</text>
<text x="203.06" y="291.6" font-size="4.6" font-weight="bold" text-anchor="middle" fill="#111" stroke="#111" stroke-width="0.28" font-family="Liberation Sans" textLength="23.6" lengthAdjust="spacingAndGlyphs" transform="rotate(-90 203.06 291.6)">G6K-2F-Y</text>
<text x="271.1" y="291.6" font-size="5" font-weight="bold" text-anchor="middle" fill="#111" stroke="#111" stroke-width="0.1" font-family="Liberation Sans" textLength="17" lengthAdjust="spacingAndGlyphs" transform="rotate(-90 271.1 291.6)">DC12V</text>
<polyline points="313.5,255.6 313.5,278.7" fill="none" stroke="#1e1e1e" stroke-width="1"/>
<circle cx="313.5" cy="278.7" r="1.25" fill="#1e1e1e"/>
<polyline points="313.5,278.7 524.1,278.7" fill="none" stroke="#1e1e1e" stroke-width="1"/>
<polyline points="313.5,278.7 313.5,297.9" fill="none" stroke="#1e1e1e" stroke-width="1"/>
<polyline points="313.5,300.8 313.5,320.3" fill="none" stroke="#1e1e1e" stroke-width="1"/>
<rect x="311" y="297.15" width="5" height="1.5" fill="#1e1e1e"/>
<rect x="311" y="300.05" width="5" height="1.5" fill="#1e1e1e"/>
<text x="301.16" y="299.1" font-size="4.6" font-weight="bold" text-anchor="middle" fill="#111" stroke="#111" stroke-width="0.28" font-family="Liberation Sans" textLength="15.5" lengthAdjust="spacingAndGlyphs" transform="rotate(-90 301.16 299.1)">C2615</text>
<text x="305.76" y="298.9" font-size="4.6" font-weight="bold" text-anchor="middle" fill="#111" stroke="#111" stroke-width="0.28" font-family="Liberation Sans" textLength="11.6" lengthAdjust="spacingAndGlyphs" transform="rotate(-90 305.76 298.9)">330p</text>
<text x="310.67" y="291.6" font-size="5.2" font-weight="bold" text-anchor="middle" fill="#111" stroke="#111" stroke-width="0.28" font-family="Liberation Sans" textLength="6.6" lengthAdjust="spacingAndGlyphs" transform="rotate(-90 310.67 291.6)">CH</text>
<rect x="310.4" y="319.8" width="6.2" height="1.3" fill="#222"/>
<path d="M311.2 320.9L315.8 320.9L313.5 322.8Z" fill="#333"/>
<circle cx="345.6" cy="278.7" r="1.25" fill="#1e1e1e"/>
<polyline points="345.6,278.7 345.6,297.9" fill="none" stroke="#1e1e1e" stroke-width="1"/>
<polyline points="345.6,300.8 345.6,320.3" fill="none" stroke="#1e1e1e" stroke-width="1"/>
<rect x="343.1" y="297.15" width="5" height="1.5" fill="#1e1e1e"/>
<rect x="343.1" y="300.05" width="5" height="1.5" fill="#1e1e1e"/>
<text x="333.26" y="299.1" font-size="4.6" font-weight="bold" text-anchor="middle" fill="#111" stroke="#111" stroke-width="0.28" font-family="Liberation Sans" textLength="15.5" lengthAdjust="spacingAndGlyphs" transform="rotate(-90 333.26 299.1)">C2621</text>
<text x="337.86" y="298.9" font-size="4.6" font-weight="bold" text-anchor="middle" fill="#111" stroke="#111" stroke-width="0.28" font-family="Liberation Sans" textLength="11.6" lengthAdjust="spacingAndGlyphs" transform="rotate(-90 337.86 298.9)">330p</text>
<text x="342.77" y="291.6" font-size="5.2" font-weight="bold" text-anchor="middle" fill="#111" stroke="#111" stroke-width="0.28" font-family="Liberation Sans" textLength="6.6" lengthAdjust="spacingAndGlyphs" transform="rotate(-90 342.77 291.6)">CH</text>
<rect x="342.5" y="319.8" width="6.2" height="1.3" fill="#222"/>
<path d="M343.3 320.9L347.9 320.9L345.6 322.8Z" fill="#333"/>
<circle cx="377.5" cy="278.7" r="1.25" fill="#1e1e1e"/>
<polyline points="377.5,278.7 377.5,297.9" fill="none" stroke="#1e1e1e" stroke-width="1"/>
<polyline points="377.5,300.8 377.5,320.3" fill="none" stroke="#1e1e1e" stroke-width="1"/>
<rect x="375" y="297.15" width="5" height="1.5" fill="#1e1e1e"/>
<rect x="375" y="300.05" width="5" height="1.5" fill="#1e1e1e"/>
<text x="365.16" y="299.1" font-size="4.6" font-weight="bold" text-anchor="middle" fill="#111" stroke="#111" stroke-width="0.28" font-family="Liberation Sans" textLength="15.5" lengthAdjust="spacingAndGlyphs" transform="rotate(-90 365.16 299.1)">C2627</text>
<text x="369.76" y="298.9" font-size="4.6" font-weight="bold" text-anchor="middle" fill="#111" stroke="#111" stroke-width="0.28" font-family="Liberation Sans" textLength="11.6" lengthAdjust="spacingAndGlyphs" transform="rotate(-90 369.76 298.9)">330p</text>
<text x="374.67" y="291.6" font-size="5.2" font-weight="bold" text-anchor="middle" fill="#111" stroke="#111" stroke-width="0.28" font-family="Liberation Sans" textLength="6.6" lengthAdjust="spacingAndGlyphs" transform="rotate(-90 374.67 291.6)">CH</text>
<rect x="374.4" y="319.8" width="6.2" height="1.3" fill="#222"/>
<path d="M375.2 320.9L379.8 320.9L377.5 322.8Z" fill="#333"/>
<circle cx="409.5" cy="278.7" r="1.25" fill="#1e1e1e"/>
<polyline points="409.5,278.7 409.5,297.9" fill="none" stroke="#1e1e1e" stroke-width="1"/>
<polyline points="409.5,300.8 409.5,320.3" fill="none" stroke="#1e1e1e" stroke-width="1"/>
<rect x="407" y="297.15" width="5" height="1.5" fill="#1e1e1e"/>
<rect x="407" y="300.05" width="5" height="1.5" fill="#1e1e1e"/>
<text x="397.16" y="299.1" font-size="4.6" font-weight="bold" text-anchor="middle" fill="#111" stroke="#111" stroke-width="0.28" font-family="Liberation Sans" textLength="15.5" lengthAdjust="spacingAndGlyphs" transform="rotate(-90 397.16 299.1)">C2633</text>
<text x="401.76" y="298.9" font-size="4.6" font-weight="bold" text-anchor="middle" fill="#111" stroke="#111" stroke-width="0.28" font-family="Liberation Sans" textLength="11.6" lengthAdjust="spacingAndGlyphs" transform="rotate(-90 401.76 298.9)">330p</text>
<text x="406.67" y="291.6" font-size="5.2" font-weight="bold" text-anchor="middle" fill="#111" stroke="#111" stroke-width="0.28" font-family="Liberation Sans" textLength="6.6" lengthAdjust="spacingAndGlyphs" transform="rotate(-90 406.67 291.6)">CH</text>
<rect x="406.4" y="319.8" width="6.2" height="1.3" fill="#222"/>
<path d="M407.2 320.9L411.8 320.9L409.5 322.8Z" fill="#333"/>
<rect x="323.8" y="277.5" width="12" height="2.4" fill="#fff"/>
<polyline points="323,278.7 324.8,276.8 334.8,276.8 336.6,278.7" fill="none" stroke="#1e1e1e" stroke-width="1"/>
<rect x="326.45" y="276.5" width="1.5" height="4.2" rx="0.5" fill="#1e1e1e"/>
<rect x="329.25" y="276.5" width="1.5" height="4.2" rx="0.5" fill="#1e1e1e"/>
<rect x="332.05" y="276.5" width="1.5" height="4.2" rx="0.5" fill="#1e1e1e"/>
<text x="329.8" y="270.56" font-size="4.6" font-weight="bold" text-anchor="middle" fill="#111" stroke="#111" stroke-width="0.28" font-family="Liberation Sans" textLength="15" lengthAdjust="spacingAndGlyphs">L2603</text>
<text x="329.8" y="275.56" font-size="4.6" font-weight="bold" text-anchor="middle" fill="#111" stroke="#111" stroke-width="0.28" font-family="Liberation Sans" textLength="11.2" lengthAdjust="spacingAndGlyphs">1.6u</text>
<rect x="355.6" y="277.5" width="12" height="2.4" fill="#fff"/>
<polyline points="354.8,278.7 356.6,276.8 366.6,276.8 368.4,278.7" fill="none" stroke="#1e1e1e" stroke-width="1"/>
<rect x="358.25" y="276.5" width="1.5" height="4.2" rx="0.5" fill="#1e1e1e"/>
<rect x="361.05" y="276.5" width="1.5" height="4.2" rx="0.5" fill="#1e1e1e"/>
<rect x="363.85" y="276.5" width="1.5" height="4.2" rx="0.5" fill="#1e1e1e"/>
<text x="361.6" y="270.56" font-size="4.6" font-weight="bold" text-anchor="middle" fill="#111" stroke="#111" stroke-width="0.28" font-family="Liberation Sans" textLength="15" lengthAdjust="spacingAndGlyphs">L2609</text>
<text x="361.6" y="275.56" font-size="4.6" font-weight="bold" text-anchor="middle" fill="#111" stroke="#111" stroke-width="0.28" font-family="Liberation Sans" textLength="11.2" lengthAdjust="spacingAndGlyphs">1.5u</text>
<rect x="387.6" y="277.5" width="12" height="2.4" fill="#fff"/>
<polyline points="386.8,278.7 388.6,276.8 398.6,276.8 400.4,278.7" fill="none" stroke="#1e1e1e" stroke-width="1"/>
<rect x="390.25" y="276.5" width="1.5" height="4.2" rx="0.5" fill="#1e1e1e"/>
<rect x="393.05" y="276.5" width="1.5" height="4.2" rx="0.5" fill="#1e1e1e"/>
<rect x="395.85" y="276.5" width="1.5" height="4.2" rx="0.5" fill="#1e1e1e"/>
<text x="393.6" y="270.56" font-size="4.6" font-weight="bold" text-anchor="middle" fill="#111" stroke="#111" stroke-width="0.28" font-family="Liberation Sans" textLength="15" lengthAdjust="spacingAndGlyphs">L2615</text>
<text x="393.6" y="275.56" font-size="4.6" font-weight="bold" text-anchor="middle" fill="#111" stroke="#111" stroke-width="0.28" font-family="Liberation Sans" textLength="11.2" lengthAdjust="spacingAndGlyphs">1.6u</text>
<circle cx="427.6" cy="278.7" r="1.25" fill="#1e1e1e"/>
<polyline points="427.6,278.7 427.6,320.3" fill="none" stroke="#1e1e1e" stroke-width="1"/>
<rect x="426.4" y="292.8" width="2.4" height="12" fill="#fff"/>
<polyline points="427.6,291.6 425.5,293.6 425.5,304 427.6,306" fill="none" stroke="#1e1e1e" stroke-width="1"/>
<rect x="425.4" y="295.95" width="4.4" height="1.3" rx="0.5" fill="#1e1e1e"/>
<rect x="425.4" y="298.15" width="4.4" height="1.3" rx="0.5" fill="#1e1e1e"/>
<rect x="425.4" y="300.35" width="4.4" height="1.3" rx="0.5" fill="#1e1e1e"/>
<rect x="424.5" y="319.8" width="6.2" height="1.3" fill="#222"/>
<path d="M425.3 320.9L429.9 320.9L427.6 322.8Z" fill="#333"/>
<text x="419.76" y="299.2" font-size="4.6" font-weight="bold" text-anchor="middle" fill="#111" stroke="#111" stroke-width="0.28" font-family="Liberation Sans" textLength="14.5" lengthAdjust="spacingAndGlyphs" transform="rotate(-90 419.76 299.2)">L2621</text>
<text x="424.26" y="299.2" font-size="4.6" font-weight="bold" text-anchor="middle" fill="#111" stroke="#111" stroke-width="0.28" font-family="Liberation Sans" textLength="11.2" lengthAdjust="spacingAndGlyphs" transform="rotate(-90 424.26 299.2)">1.5u</text>
<circle cx="459.9" cy="278.7" r="1.25" fill="#1e1e1e"/>
<polyline points="459.9,278.7 459.9,320.3" fill="none" stroke="#1e1e1e" stroke-width="1"/>
<rect x="458.7" y="292.8" width="2.4" height="12" fill="#fff"/>
<polyline points="459.9,291.6 457.8,293.6 457.8,304 459.9,306" fill="none" stroke="#1e1e1e" stroke-width="1"/>
<rect x="457.7" y="295.95" width="4.4" height="1.3" rx="0.5" fill="#1e1e1e"/>
<rect x="457.7" y="298.15" width="4.4" height="1.3" rx="0.5" fill="#1e1e1e"/>
<rect x="457.7" y="300.35" width="4.4" height="1.3" rx="0.5" fill="#1e1e1e"/>
<rect x="456.8" y="319.8" width="6.2" height="1.3" fill="#222"/>
<path d="M457.6 320.9L462.2 320.9L459.9 322.8Z" fill="#333"/>
<text x="452.06" y="299.2" font-size="4.6" font-weight="bold" text-anchor="middle" fill="#111" stroke="#111" stroke-width="0.28" font-family="Liberation Sans" textLength="14.5" lengthAdjust="spacingAndGlyphs" transform="rotate(-90 452.06 299.2)">L2627</text>
<text x="456.56" y="299.2" font-size="4.6" font-weight="bold" text-anchor="middle" fill="#111" stroke="#111" stroke-width="0.28" font-family="Liberation Sans" textLength="11.2" lengthAdjust="spacingAndGlyphs" transform="rotate(-90 456.56 299.2)">1.0u</text>
<circle cx="492" cy="278.7" r="1.25" fill="#1e1e1e"/>
<polyline points="492,278.7 492,320.3" fill="none" stroke="#1e1e1e" stroke-width="1"/>
<rect x="490.8" y="292.8" width="2.4" height="12" fill="#fff"/>
<polyline points="492,291.6 489.9,293.6 489.9,304 492,306" fill="none" stroke="#1e1e1e" stroke-width="1"/>
<rect x="489.8" y="295.95" width="4.4" height="1.3" rx="0.5" fill="#1e1e1e"/>
<rect x="489.8" y="298.15" width="4.4" height="1.3" rx="0.5" fill="#1e1e1e"/>
<rect x="489.8" y="300.35" width="4.4" height="1.3" rx="0.5" fill="#1e1e1e"/>
<rect x="488.9" y="319.8" width="6.2" height="1.3" fill="#222"/>
<path d="M489.7 320.9L494.3 320.9L492 322.8Z" fill="#333"/>
<text x="484.16" y="299.2" font-size="4.6" font-weight="bold" text-anchor="middle" fill="#111" stroke="#111" stroke-width="0.28" font-family="Liberation Sans" textLength="14.5" lengthAdjust="spacingAndGlyphs" transform="rotate(-90 484.16 299.2)">L2633</text>
<text x="488.66" y="299.2" font-size="4.6" font-weight="bold" text-anchor="middle" fill="#111" stroke="#111" stroke-width="0.28" font-family="Liberation Sans" textLength="11.2" lengthAdjust="spacingAndGlyphs" transform="rotate(-90 488.66 299.2)">1.0u</text>
<circle cx="524.1" cy="278.7" r="1.25" fill="#1e1e1e"/>
<polyline points="524.1,278.7 524.1,320.3" fill="none" stroke="#1e1e1e" stroke-width="1"/>
<rect x="522.9" y="292.8" width="2.4" height="12" fill="#fff"/>
<polyline points="524.1,291.6 522,293.6 522,304 524.1,306" fill="none" stroke="#1e1e1e" stroke-width="1"/>
<rect x="521.9" y="295.95" width="4.4" height="1.3" rx="0.5" fill="#1e1e1e"/>
<rect x="521.9" y="298.15" width="4.4" height="1.3" rx="0.5" fill="#1e1e1e"/>
<rect x="521.9" y="300.35" width="4.4" height="1.3" rx="0.5" fill="#1e1e1e"/>
<rect x="521" y="319.8" width="6.2" height="1.3" fill="#222"/>
<path d="M521.8 320.9L526.4 320.9L524.1 322.8Z" fill="#333"/>
<text x="516.26" y="299.2" font-size="4.6" font-weight="bold" text-anchor="middle" fill="#111" stroke="#111" stroke-width="0.28" font-family="Liberation Sans" textLength="14.5" lengthAdjust="spacingAndGlyphs" transform="rotate(-90 516.26 299.2)">L2639</text>
<text x="520.76" y="299.2" font-size="4.6" font-weight="bold" text-anchor="middle" fill="#111" stroke="#111" stroke-width="0.28" font-family="Liberation Sans" textLength="11.2" lengthAdjust="spacingAndGlyphs" transform="rotate(-90 520.76 299.2)">1.5u</text>
<rect x="442.7" y="277.7" width="2.4" height="2" fill="#fff"/>
<rect x="441.85" y="276.4" width="1.1" height="4.6" fill="#1e1e1e"/>
<rect x="444.85" y="276.4" width="1.1" height="4.6" fill="#1e1e1e"/>
<text x="443.5" y="266.66" font-size="4.6" font-weight="bold" text-anchor="middle" fill="#111" stroke="#111" stroke-width="0.28" font-family="Liberation Sans" textLength="15.5" lengthAdjust="spacingAndGlyphs">C2639</text>
<text x="443.5" y="271.26" font-size="4.6" font-weight="bold" text-anchor="middle" fill="#111" stroke="#111" stroke-width="0.28" font-family="Liberation Sans" textLength="12" lengthAdjust="spacingAndGlyphs">560p</text>
<text x="451.4" y="275.66" font-size="4.6" font-weight="bold" text-anchor="middle" fill="#111" stroke="#111" stroke-width="0.28" font-family="Liberation Sans" textLength="6" lengthAdjust="spacingAndGlyphs">CH</text>
<text x="437.5" y="275.66" font-size="4.6" font-weight="bold" text-anchor="middle" fill="#111" stroke="#111" stroke-width="0.28" font-family="Liberation Sans" textLength="9" lengthAdjust="spacingAndGlyphs">25V</text>
<rect x="474.8" y="277.7" width="2.4" height="2" fill="#fff"/>
<rect x="473.95" y="276.4" width="1.1" height="4.6" fill="#1e1e1e"/>
<rect x="476.95" y="276.4" width="1.1" height="4.6" fill="#1e1e1e"/>
<text x="475.6" y="266.66" font-size="4.6" font-weight="bold" text-anchor="middle" fill="#111" stroke="#111" stroke-width="0.28" font-family="Liberation Sans" textLength="15.5" lengthAdjust="spacingAndGlyphs">C2646</text>
<text x="475.6" y="271.26" font-size="4.6" font-weight="bold" text-anchor="middle" fill="#111" stroke="#111" stroke-width="0.28" font-family="Liberation Sans" textLength="12" lengthAdjust="spacingAndGlyphs">330p</text>
<text x="483.5" y="275.66" font-size="4.6" font-weight="bold" text-anchor="middle" fill="#111" stroke="#111" stroke-width="0.28" font-family="Liberation Sans" textLength="6" lengthAdjust="spacingAndGlyphs">CH</text>
<rect x="506.8" y="277.7" width="2.4" height="2" fill="#fff"/>
<rect x="505.95" y="276.4" width="1.1" height="4.6" fill="#1e1e1e"/>
<rect x="508.95" y="276.4" width="1.1" height="4.6" fill="#1e1e1e"/>
<text x="507.6" y="266.66" font-size="4.6" font-weight="bold" text-anchor="middle" fill="#111" stroke="#111" stroke-width="0.28" font-family="Liberation Sans" textLength="15.5" lengthAdjust="spacingAndGlyphs">C2652</text>
<text x="507.6" y="271.26" font-size="4.6" font-weight="bold" text-anchor="middle" fill="#111" stroke="#111" stroke-width="0.28" font-family="Liberation Sans" textLength="12" lengthAdjust="spacingAndGlyphs">560p</text>
<text x="515.5" y="275.66" font-size="4.6" font-weight="bold" text-anchor="middle" fill="#111" stroke="#111" stroke-width="0.28" font-family="Liberation Sans" textLength="6" lengthAdjust="spacingAndGlyphs">CH</text>
<text x="501.6" y="275.66" font-size="4.6" font-weight="bold" text-anchor="middle" fill="#111" stroke="#111" stroke-width="0.28" font-family="Liberation Sans" textLength="9" lengthAdjust="spacingAndGlyphs">25V</text>
<polyline points="524.1,278.7 524.1,255.6 614.5,255.6" fill="none" stroke="#1e1e1e" stroke-width="1"/>
<rect x="340.6" y="255.3" width="73.3" height="9.9" fill="#fff" stroke="#3a3a3a" stroke-width="1"/>
<text x="342.3" y="262.85" font-size="7.7" font-weight="normal" text-anchor="start" fill="#2a2a2a" font-family="Liberation Mono" textLength="68.55" lengthAdjust="spacingAndGlyphs">B7:6.9 - 9.9MHz</text>
<polyline points="571.6,271.6 571.6,310.4" fill="none" stroke="#000" stroke-width="1.1" stroke-dasharray="2.8,1.8"/>
<polyline points="631,271.6 631,310.4" fill="none" stroke="#000" stroke-width="1.1" stroke-dasharray="2.8,1.8"/>
<polyline points="571.6,271.6 631,271.6" fill="none" stroke="#000" stroke-width="1.1" stroke-dasharray="2.8,1.8"/>
<polyline points="571.6,314.4 631,314.4" fill="none" stroke="#000" stroke-width="1.2" stroke-dasharray="2.8,1.8"/>
<polyline points="571.6,310.4 571.6,314.4" fill="none" stroke="#000" stroke-width="1.1"/>
<polyline points="631,310.4 631,314.4" fill="none" stroke="#000" stroke-width="1.1"/>
<polyline points="578.1,271.6 578.1,289.8" fill="none" stroke="#1e1e1e" stroke-width="1"/>
<polyline points="587.2,271.6 587.2,290.3" fill="none" stroke="#1e1e1e" stroke-width="1"/>
<polyline points="596.3,271.6 596.3,289.8" fill="none" stroke="#1e1e1e" stroke-width="1"/>
<path d="M578.1 283.4L578.1 289.8L587.2 286.6Z" fill="none" stroke="#1e1e1e" stroke-width="0.8"/>
<path d="M596.3 283.4L596.3 289.8L587.2 286.6Z" fill="#1e1e1e"/>
<polyline points="605.4,271.6 605.4,289.8" fill="none" stroke="#1e1e1e" stroke-width="1"/>
<polyline points="614.5,271.6 614.5,290.3" fill="none" stroke="#1e1e1e" stroke-width="1"/>
<polyline points="623.6,271.6 623.6,289.8" fill="none" stroke="#1e1e1e" stroke-width="1"/>
<path d="M605.4 283.4L605.4 289.8L614.5 286.6Z" fill="none" stroke="#1e1e1e" stroke-width="0.8"/>
<path d="M623.6 283.4L623.6 289.8L614.5 286.6Z" fill="#1e1e1e"/>
<circle cx="578.1" cy="271.6" r="2.25" fill="#a8a8a8" stroke="#1e1e1e" stroke-width="0.9"/>
<path d="M577.5 270.2L579.3 272.2" stroke="#333" stroke-width="0.8"/>
<circle cx="587.2" cy="271.6" r="2.25" fill="#a8a8a8" stroke="#1e1e1e" stroke-width="0.9"/>
<path d="M586.6 270.2L588.4 272.2" stroke="#333" stroke-width="0.8"/>
<circle cx="596.3" cy="271.6" r="2.25" fill="#a8a8a8" stroke="#1e1e1e" stroke-width="0.9"/>
<path d="M595.7 270.2L597.5 272.2" stroke="#333" stroke-width="0.8"/>
<circle cx="605.4" cy="271.6" r="2.25" fill="#a8a8a8" stroke="#1e1e1e" stroke-width="0.9"/>
<path d="M604.8 270.2L606.6 272.2" stroke="#333" stroke-width="0.8"/>
<circle cx="614.5" cy="271.6" r="2.25" fill="#a8a8a8" stroke="#1e1e1e" stroke-width="0.9"/>
<path d="M613.9 270.2L615.7 272.2" stroke="#333" stroke-width="0.8"/>
<circle cx="623.6" cy="271.6" r="2.25" fill="#a8a8a8" stroke="#1e1e1e" stroke-width="0.9"/>
<path d="M623 270.2L624.8 272.2" stroke="#333" stroke-width="0.8"/>
<polyline points="571.6,310.4 593.2,310.4 593.2,300.9" fill="none" stroke="#1e1e1e" stroke-width="1"/>
<path d="M593.2 300.9Q593.2 299 595.2 299" fill="none" stroke="#1e1e1e" stroke-width="1"/>
<polyline points="595.2,299 607.5,299" fill="none" stroke="#1e1e1e" stroke-width="1"/>
<path d="M607.5 299Q609.5 299 609.5 300.9" fill="none" stroke="#1e1e1e" stroke-width="1"/>
<polyline points="609.5,300.9 609.5,310.4 631,310.4" fill="none" stroke="#1e1e1e" stroke-width="1"/>
<polyline points="590.8,295.4 611.9,295.4" fill="none" stroke="#555" stroke-width="1"/>
<ellipse cx="599.15" cy="301.8" rx="1.5" ry="2.2" fill="none" stroke="#1e1e1e" stroke-width="0.8"/>
<ellipse cx="603.55" cy="301.8" rx="1.5" ry="2.2" fill="none" stroke="#1e1e1e" stroke-width="0.8"/>
<polyline points="621.8,306.2 627,306.2" fill="none" stroke="#222" stroke-width="0.9"/>
<polyline points="624.4,303.6 624.4,308.8" fill="none" stroke="#222" stroke-width="0.9"/>
<polyline points="578.6,309.4 578.6,304.9" fill="none" stroke="#333" stroke-width="1"/>
<circle cx="571.6" cy="310.4" r="2.3" fill="#7a7a7a" stroke="#1e1e1e" stroke-width="0.9"/>
<circle cx="631" cy="310.4" r="2.3" fill="#f4f4f4" stroke="#1e1e1e" stroke-width="0.9"/>
<polyline points="629.6,310.4 632.4,310.4" fill="none" stroke="#555" stroke-width="0.7"/>
<polyline points="605.4,271.6 605.4,264.9 542,264.9" fill="none" stroke="#1e1e1e" stroke-width="1"/>
<circle cx="542" cy="264.9" r="1.25" fill="#1e1e1e"/>
<polyline points="614.5,271.6 614.5,255.6" fill="none" stroke="#1e1e1e" stroke-width="1"/>
<polyline points="623.6,271.6 623.6,264.9 641.8,264.9 641.8,278.1" fill="none" stroke="#1e1e1e" stroke-width="1"/>
<rect x="638.7" y="278.6" width="6.2" height="1.3" fill="#222"/>
<path d="M639.5 279.7L644.1 279.7L641.8 281.6Z" fill="#333"/>
<polyline points="571.6,310.4 560.3,310.4 560.3,319.9" fill="none" stroke="#1e1e1e" stroke-width="1"/>
<rect x="557.2" y="319.7" width="6.2" height="1.3" fill="#222"/>
<path d="M558 320.8L562.6 320.8L560.3 322.7Z" fill="#333"/>
<text x="571.1" y="292.8" font-size="5" font-weight="bold" text-anchor="middle" fill="#111" stroke="#111" stroke-width="0.1" font-family="Liberation Sans" textLength="16" lengthAdjust="spacingAndGlyphs" transform="rotate(-90 571.1 292.8)">DC12V</text>
<text x="638.16" y="292" font-size="4.6" font-weight="bold" text-anchor="middle" fill="#111" stroke="#111" stroke-width="0.28" font-family="Liberation Sans" textLength="23.6" lengthAdjust="spacingAndGlyphs" transform="rotate(-90 638.16 292)">G6K-2F-Y</text>
<text x="642.56" y="292" font-size="4.6" font-weight="bold" text-anchor="middle" fill="#111" stroke="#111" stroke-width="0.28" font-family="Liberation Sans" textLength="17.4" lengthAdjust="spacingAndGlyphs" transform="rotate(-90 642.56 292)">RL2609</text>
<polyline points="631,310.4 698.2,310.4 702,314.4" fill="none" stroke="#1e1e1e" stroke-width="1"/>
<circle cx="642.6" cy="310.4" r="1.25" fill="#1e1e1e"/>
<polyline points="642.6,310.4 642.6,334.4" fill="none" stroke="#555" stroke-width="1"/>
<path d="M639.8 323.95L645.4 323.95L642.6 319.85Z" fill="#1e1e1e"/>
<polyline points="640.2,319.85 645,319.85" fill="none" stroke="#1e1e1e" stroke-width="1.1"/>
<rect x="639.5" y="333.9" width="6.2" height="1.3" fill="#222"/>
<path d="M640.3 335L644.9 335L642.6 336.9Z" fill="#333"/>
<text x="638.86" y="322.8" font-size="4.6" font-weight="bold" text-anchor="middle" fill="#111" stroke="#111" stroke-width="0.28" font-family="Liberation Sans" textLength="14.5" lengthAdjust="spacingAndGlyphs" transform="rotate(-90 638.86 322.8)">D2609</text>
<text x="649.66" y="321.2" font-size="4.6" font-weight="bold" text-anchor="middle" fill="#111" stroke="#111" stroke-width="0.28" font-family="Liberation Sans" textLength="18.6" lengthAdjust="spacingAndGlyphs" transform="rotate(-90 649.66 321.2)">BAS316</text>
<circle cx="661" cy="310.4" r="1.25" fill="#1e1e1e"/>
<polyline points="661,310.4 661,320.5" fill="none" stroke="#1e1e1e" stroke-width="1"/>
<polyline points="661,323.3 661,334.4" fill="none" stroke="#1e1e1e" stroke-width="1"/>
<rect x="658.4" y="319.75" width="5.2" height="1.5" fill="#1e1e1e"/>
<rect x="658.4" y="322.55" width="5.2" height="1.5" fill="#1e1e1e"/>
<rect x="657.9" y="333.9" width="6.2" height="1.3" fill="#222"/>
<path d="M658.7 335L663.3 335L661 336.9Z" fill="#333"/>
<text x="656.56" y="322.4" font-size="4.6" font-weight="bold" text-anchor="middle" fill="#111" stroke="#111" stroke-width="0.28" font-family="Liberation Sans" textLength="15.5" lengthAdjust="spacingAndGlyphs" transform="rotate(-90 656.56 322.4)">C2619</text>
<text x="668.66" y="323" font-size="4.6" font-weight="bold" text-anchor="middle" fill="#111" stroke="#111" stroke-width="0.28" font-family="Liberation Sans" textLength="12.4" lengthAdjust="spacingAndGlyphs" transform="rotate(-90 668.66 323)">0.01</text>
<text x="667.66" y="315" font-size="4.6" font-weight="bold" text-anchor="middle" fill="#111" stroke="#111" stroke-width="0.28" font-family="Liberation Sans" textLength="3.1" lengthAdjust="spacingAndGlyphs" transform="rotate(-90 667.66 315)">B</text>
<rect x="673" y="309.4" width="8" height="2" fill="#fff"/>
<polyline points="672.8,310.4 673.5,308.4 674.9,312.4 676.3,308.4 677.7,312.4 679.1,308.4 680.5,312.4 681.2,310.4" fill="none" stroke="#1e1e1e" stroke-width="1"/>
<text x="677" y="303.06" font-size="4.6" font-weight="bold" text-anchor="middle" fill="#111" stroke="#111" stroke-width="0.28" font-family="Liberation Sans" textLength="15.5" lengthAdjust="spacingAndGlyphs">R2609</text>
<text x="677.4" y="307.66" font-size="4.6" font-weight="bold" text-anchor="middle" fill="#111" stroke="#111" stroke-width="0.28" font-family="Liberation Sans" textLength="8.1" lengthAdjust="spacingAndGlyphs">100</text>
<text x="693.9" y="308.47" font-size="5.2" font-weight="bold" text-anchor="middle" fill="#111" stroke="#111" stroke-width="0.28" font-family="Liberation Sans" textLength="5.8" lengthAdjust="spacingAndGlyphs">B7</text>
<polyline points="135.7,401.3 139.5,397.3 206.7,397.3" fill="none" stroke="#1e1e1e" stroke-width="1"/>
<text x="143.4" y="395.67" font-size="5.2" font-weight="bold" text-anchor="middle" fill="#111" stroke="#111" stroke-width="0.28" font-family="Liberation Sans" textLength="5.8" lengthAdjust="spacingAndGlyphs">B6</text>
<circle cx="153.9" cy="397.3" r="1.25" fill="#1e1e1e"/>
<polyline points="153.8,397.3 153.8,407.4" fill="none" stroke="#1e1e1e" stroke-width="1"/>
<polyline points="153.8,410.2 153.8,421.3" fill="none" stroke="#1e1e1e" stroke-width="1"/>
<rect x="151.1" y="406.65" width="5.4" height="1.5" fill="#1e1e1e"/>
<path d="M151.1 411.2Q153.8 409.6 156.5 411.2" fill="none" stroke="#1e1e1e" stroke-width="1.2"/>
<rect x="150.8" y="420.8" width="6.2" height="1.3" fill="#222"/>
<path d="M151.6 421.9L156.2 421.9L153.9 423.8Z" fill="#333"/>
<text x="141.86" y="408.9" font-size="4.6" font-weight="bold" text-anchor="middle" fill="#111" stroke="#111" stroke-width="0.28" font-family="Liberation Sans" textLength="15.5" lengthAdjust="spacingAndGlyphs" transform="rotate(-90 141.86 408.9)">C2614</text>
<text x="146.06" y="408.7" font-size="4.6" font-weight="bold" text-anchor="middle" fill="#111" stroke="#111" stroke-width="0.28" font-family="Liberation Sans" textLength="8.4" lengthAdjust="spacingAndGlyphs" transform="rotate(-90 146.06 408.7)">2.2</text>
<text x="150.86" y="412.3" font-size="4.6" font-weight="bold" text-anchor="middle" fill="#111" stroke="#111" stroke-width="0.28" font-family="Liberation Sans" textLength="8.7" lengthAdjust="spacingAndGlyphs" transform="rotate(-90 150.86 412.3)">16V</text>
<text x="151.16" y="402.5" font-size="4.6" font-weight="bold" text-anchor="middle" fill="#111" stroke="#111" stroke-width="0.28" font-family="Liberation Sans" textLength="3.1" lengthAdjust="spacingAndGlyphs" transform="rotate(-90 151.16 402.5)">B</text>
<rect x="161.2" y="396.3" width="8" height="2" fill="#fff"/>
<polyline points="161,397.3 161.7,395.3 163.1,399.3 164.5,395.3 165.9,399.3 167.3,395.3 168.7,399.3 169.4,397.3" fill="none" stroke="#1e1e1e" stroke-width="1"/>
<text x="165" y="389.76" font-size="4.6" font-weight="bold" text-anchor="middle" fill="#111" stroke="#111" stroke-width="0.28" font-family="Liberation Sans" textLength="15.5" lengthAdjust="spacingAndGlyphs">R2604</text>
<text x="166" y="394.56" font-size="4.6" font-weight="bold" text-anchor="middle" fill="#111" stroke="#111" stroke-width="0.28" font-family="Liberation Sans" textLength="8.1" lengthAdjust="spacingAndGlyphs">100</text>
<circle cx="176.6" cy="397.3" r="1.25" fill="#1e1e1e"/>
<polyline points="176.5,397.3 176.5,407.4" fill="none" stroke="#1e1e1e" stroke-width="1"/>
<polyline points="176.5,410.2 176.5,421.3" fill="none" stroke="#1e1e1e" stroke-width="1"/>
<rect x="173.9" y="406.65" width="5.2" height="1.5" fill="#1e1e1e"/>
<rect x="173.9" y="409.45" width="5.2" height="1.5" fill="#1e1e1e"/>
<rect x="173.5" y="420.8" width="6.2" height="1.3" fill="#222"/>
<path d="M174.3 421.9L178.9 421.9L176.6 423.8Z" fill="#333"/>
<text x="163.96" y="408.7" font-size="4.6" font-weight="bold" text-anchor="middle" fill="#111" stroke="#111" stroke-width="0.28" font-family="Liberation Sans" textLength="15.5" lengthAdjust="spacingAndGlyphs" transform="rotate(-90 163.96 408.7)">C2610</text>
<text x="168.96" y="408.7" font-size="4.6" font-weight="bold" text-anchor="middle" fill="#111" stroke="#111" stroke-width="0.28" font-family="Liberation Sans" textLength="12.4" lengthAdjust="spacingAndGlyphs" transform="rotate(-90 168.96 408.7)">0.01</text>
<text x="173.86" y="402.3" font-size="4.6" font-weight="bold" text-anchor="middle" fill="#111" stroke="#111" stroke-width="0.28" font-family="Liberation Sans" textLength="3.1" lengthAdjust="spacingAndGlyphs" transform="rotate(-90 173.86 402.3)">B</text>
<circle cx="195.1" cy="397.3" r="1.25" fill="#1e1e1e"/>
<polyline points="195,397.3 195,421.3" fill="none" stroke="#555" stroke-width="1"/>
<path d="M192.2 410.85L197.8 410.85L195 406.75Z" fill="#1e1e1e"/>
<polyline points="192.6,406.75 197.4,406.75" fill="none" stroke="#1e1e1e" stroke-width="1.1"/>
<rect x="192" y="420.8" width="6.2" height="1.3" fill="#222"/>
<path d="M192.8 421.9L197.4 421.9L195.1 423.8Z" fill="#333"/>
<text x="191.76" y="409.7" font-size="4.6" font-weight="bold" text-anchor="middle" fill="#111" stroke="#111" stroke-width="0.28" font-family="Liberation Sans" textLength="14.5" lengthAdjust="spacingAndGlyphs" transform="rotate(-90 191.76 409.7)">D2604</text>
<text x="202.56" y="408.1" font-size="4.6" font-weight="bold" text-anchor="middle" fill="#111" stroke="#111" stroke-width="0.28" font-family="Liberation Sans" textLength="18.6" lengthAdjust="spacingAndGlyphs" transform="rotate(-90 202.56 408.1)">BAS316</text>
<polyline points="206.7,358.5 206.7,397.3" fill="none" stroke="#000" stroke-width="1.1" stroke-dasharray="2.8,1.8"/>
<polyline points="266.1,358.5 266.1,397.3" fill="none" stroke="#000" stroke-width="1.1" stroke-dasharray="2.8,1.8"/>
<polyline points="206.7,358.5 266.1,358.5" fill="none" stroke="#000" stroke-width="1.1" stroke-dasharray="2.8,1.8"/>
<polyline points="206.7,401.3 266.1,401.3" fill="none" stroke="#000" stroke-width="1.2" stroke-dasharray="2.8,1.8"/>
<polyline points="206.7,397.3 206.7,401.3" fill="none" stroke="#000" stroke-width="1.1"/>
<polyline points="266.1,397.3 266.1,401.3" fill="none" stroke="#000" stroke-width="1.1"/>
<polyline points="213.2,358.5 213.2,376.7" fill="none" stroke="#1e1e1e" stroke-width="1"/>
<polyline points="222.3,358.5 222.3,377.2" fill="none" stroke="#1e1e1e" stroke-width="1"/>
<polyline points="231.4,358.5 231.4,376.7" fill="none" stroke="#1e1e1e" stroke-width="1"/>
<path d="M213.2 370.3L213.2 376.7L222.3 373.5Z" fill="#1e1e1e"/>
<path d="M231.4 370.3L231.4 376.7L222.3 373.5Z" fill="none" stroke="#1e1e1e" stroke-width="0.8"/>
<polyline points="240.5,358.5 240.5,376.7" fill="none" stroke="#1e1e1e" stroke-width="1"/>
<polyline points="249.6,358.5 249.6,377.2" fill="none" stroke="#1e1e1e" stroke-width="1"/>
<polyline points="258.7,358.5 258.7,376.7" fill="none" stroke="#1e1e1e" stroke-width="1"/>
<path d="M240.5 370.3L240.5 376.7L249.6 373.5Z" fill="#1e1e1e"/>
<path d="M258.7 370.3L258.7 376.7L249.6 373.5Z" fill="none" stroke="#1e1e1e" stroke-width="0.8"/>
<circle cx="213.2" cy="358.5" r="2.25" fill="#a8a8a8" stroke="#1e1e1e" stroke-width="0.9"/>
<path d="M212.6 357.1L214.4 359.1" stroke="#333" stroke-width="0.8"/>
<circle cx="222.3" cy="358.5" r="2.25" fill="#a8a8a8" stroke="#1e1e1e" stroke-width="0.9"/>
<path d="M221.7 357.1L223.5 359.1" stroke="#333" stroke-width="0.8"/>
<circle cx="231.4" cy="358.5" r="2.25" fill="#a8a8a8" stroke="#1e1e1e" stroke-width="0.9"/>
<path d="M230.8 357.1L232.6 359.1" stroke="#333" stroke-width="0.8"/>
<circle cx="240.5" cy="358.5" r="2.25" fill="#a8a8a8" stroke="#1e1e1e" stroke-width="0.9"/>
<path d="M239.9 357.1L241.7 359.1" stroke="#333" stroke-width="0.8"/>
<circle cx="249.6" cy="358.5" r="2.25" fill="#a8a8a8" stroke="#1e1e1e" stroke-width="0.9"/>
<path d="M249 357.1L250.8 359.1" stroke="#333" stroke-width="0.8"/>
<circle cx="258.7" cy="358.5" r="2.25" fill="#a8a8a8" stroke="#1e1e1e" stroke-width="0.9"/>
<path d="M258.1 357.1L259.9 359.1" stroke="#333" stroke-width="0.8"/>
<polyline points="206.7,397.3 228.3,397.3 228.3,387.8" fill="none" stroke="#1e1e1e" stroke-width="1"/>
<path d="M228.3 387.8Q228.3 385.9 230.3 385.9" fill="none" stroke="#1e1e1e" stroke-width="1"/>
<polyline points="230.3,385.9 242.6,385.9" fill="none" stroke="#1e1e1e" stroke-width="1"/>
<path d="M242.6 385.9Q244.6 385.9 244.6 387.8" fill="none" stroke="#1e1e1e" stroke-width="1"/>
<polyline points="244.6,387.8 244.6,397.3 266.1,397.3" fill="none" stroke="#1e1e1e" stroke-width="1"/>
<polyline points="225.9,382.3 247,382.3" fill="none" stroke="#555" stroke-width="1"/>
<ellipse cx="234.25" cy="388.7" rx="1.5" ry="2.2" fill="none" stroke="#1e1e1e" stroke-width="0.8"/>
<ellipse cx="238.65" cy="388.7" rx="1.5" ry="2.2" fill="none" stroke="#1e1e1e" stroke-width="0.8"/>
<polyline points="210.7,393.1 215.9,393.1" fill="none" stroke="#222" stroke-width="0.9"/>
<polyline points="213.3,390.5 213.3,395.7" fill="none" stroke="#222" stroke-width="0.9"/>
<polyline points="259.1,396.3 259.1,391.8" fill="none" stroke="#333" stroke-width="1"/>
<circle cx="206.7" cy="397.3" r="2.3" fill="#f4f4f4" stroke="#1e1e1e" stroke-width="0.9"/>
<polyline points="205.3,397.3 208.1,397.3" fill="none" stroke="#555" stroke-width="0.7"/>
<circle cx="266.1" cy="397.3" r="2.3" fill="#7a7a7a" stroke="#1e1e1e" stroke-width="0.9"/>
<polyline points="213.2,358.5 213.2,351.8 194.6,351.8 194.6,365" fill="none" stroke="#1e1e1e" stroke-width="1"/>
<rect x="191.5" y="365.5" width="6.2" height="1.3" fill="#222"/>
<path d="M192.3 366.6L196.9 366.6L194.6 368.5Z" fill="#333"/>
<polyline points="222.3,358.5 222.3,342.5 313.5,342.5" fill="none" stroke="#1e1e1e" stroke-width="1"/>
<polyline points="231.4,358.5 231.4,351.8 295.5,351.8" fill="none" stroke="#1e1e1e" stroke-width="1"/>
<circle cx="295.5" cy="351.8" r="1.25" fill="#1e1e1e"/>
<polyline points="266.1,397.3 277,397.3 277,406.3" fill="none" stroke="#1e1e1e" stroke-width="1"/>
<rect x="273.9" y="405.8" width="6.2" height="1.3" fill="#222"/>
<path d="M274.7 406.9L279.3 406.9L277 408.8Z" fill="#333"/>
<text x="199.06" y="378.9" font-size="4.6" font-weight="bold" text-anchor="middle" fill="#111" stroke="#111" stroke-width="0.28" font-family="Liberation Sans" textLength="17.4" lengthAdjust="spacingAndGlyphs" transform="rotate(-90 199.06 378.9)">RL2604</text>
<text x="203.06" y="378.5" font-size="4.6" font-weight="bold" text-anchor="middle" fill="#111" stroke="#111" stroke-width="0.28" font-family="Liberation Sans" textLength="23.6" lengthAdjust="spacingAndGlyphs" transform="rotate(-90 203.06 378.5)">G6K-2F-Y</text>
<text x="271.1" y="378.5" font-size="5" font-weight="bold" text-anchor="middle" fill="#111" stroke="#111" stroke-width="0.1" font-family="Liberation Sans" textLength="17" lengthAdjust="spacingAndGlyphs" transform="rotate(-90 271.1 378.5)">DC12V</text>
<polyline points="313.5,342.5 313.5,365.6" fill="none" stroke="#1e1e1e" stroke-width="1"/>
<circle cx="313.5" cy="365.6" r="1.25" fill="#1e1e1e"/>
<polyline points="313.5,365.6 524.1,365.6" fill="none" stroke="#1e1e1e" stroke-width="1"/>
<polyline points="313.5,365.6 313.5,384.8" fill="none" stroke="#1e1e1e" stroke-width="1"/>
<polyline points="313.5,387.7 313.5,407.2" fill="none" stroke="#1e1e1e" stroke-width="1"/>
<rect x="311" y="384.05" width="5" height="1.5" fill="#1e1e1e"/>
<rect x="311" y="386.95" width="5" height="1.5" fill="#1e1e1e"/>
<text x="301.16" y="386" font-size="4.6" font-weight="bold" text-anchor="middle" fill="#111" stroke="#111" stroke-width="0.28" font-family="Liberation Sans" textLength="15.5" lengthAdjust="spacingAndGlyphs" transform="rotate(-90 301.16 386)">C2616</text>
<text x="305.76" y="385.8" font-size="4.6" font-weight="bold" text-anchor="middle" fill="#111" stroke="#111" stroke-width="0.28" font-family="Liberation Sans" textLength="11.6" lengthAdjust="spacingAndGlyphs" transform="rotate(-90 305.76 385.8)">150p</text>
<text x="310.67" y="378.5" font-size="5.2" font-weight="bold" text-anchor="middle" fill="#111" stroke="#111" stroke-width="0.28" font-family="Liberation Sans" textLength="6.6" lengthAdjust="spacingAndGlyphs" transform="rotate(-90 310.67 378.5)">CH</text>
<rect x="310.4" y="406.7" width="6.2" height="1.3" fill="#222"/>
<path d="M311.2 407.8L315.8 407.8L313.5 409.7Z" fill="#333"/>
<circle cx="345.6" cy="365.6" r="1.25" fill="#1e1e1e"/>
<polyline points="345.6,365.6 345.6,384.8" fill="none" stroke="#1e1e1e" stroke-width="1"/>
<polyline points="345.6,387.7 345.6,407.2" fill="none" stroke="#1e1e1e" stroke-width="1"/>
<rect x="343.1" y="384.05" width="5" height="1.5" fill="#1e1e1e"/>
<rect x="343.1" y="386.95" width="5" height="1.5" fill="#1e1e1e"/>
<text x="333.26" y="386" font-size="4.6" font-weight="bold" text-anchor="middle" fill="#111" stroke="#111" stroke-width="0.28" font-family="Liberation Sans" textLength="15.5" lengthAdjust="spacingAndGlyphs" transform="rotate(-90 333.26 386)">C2622</text>
<text x="337.86" y="385.8" font-size="4.6" font-weight="bold" text-anchor="middle" fill="#111" stroke="#111" stroke-width="0.28" font-family="Liberation Sans" textLength="11.6" lengthAdjust="spacingAndGlyphs" transform="rotate(-90 337.86 385.8)">180p</text>
<text x="342.77" y="378.5" font-size="5.2" font-weight="bold" text-anchor="middle" fill="#111" stroke="#111" stroke-width="0.28" font-family="Liberation Sans" textLength="6.6" lengthAdjust="spacingAndGlyphs" transform="rotate(-90 342.77 378.5)">CH</text>
<rect x="342.5" y="406.7" width="6.2" height="1.3" fill="#222"/>
<path d="M343.3 407.8L347.9 407.8L345.6 409.7Z" fill="#333"/>
<circle cx="377.5" cy="365.6" r="1.25" fill="#1e1e1e"/>
<polyline points="377.5,365.6 377.5,384.8" fill="none" stroke="#1e1e1e" stroke-width="1"/>
<polyline points="377.5,387.7 377.5,407.2" fill="none" stroke="#1e1e1e" stroke-width="1"/>
<rect x="375" y="384.05" width="5" height="1.5" fill="#1e1e1e"/>
<rect x="375" y="386.95" width="5" height="1.5" fill="#1e1e1e"/>
<text x="365.16" y="386" font-size="4.6" font-weight="bold" text-anchor="middle" fill="#111" stroke="#111" stroke-width="0.28" font-family="Liberation Sans" textLength="15.5" lengthAdjust="spacingAndGlyphs" transform="rotate(-90 365.16 386)">C2628</text>
<text x="369.76" y="385.8" font-size="4.6" font-weight="bold" text-anchor="middle" fill="#111" stroke="#111" stroke-width="0.28" font-family="Liberation Sans" textLength="11.6" lengthAdjust="spacingAndGlyphs" transform="rotate(-90 369.76 385.8)">180p</text>
<text x="374.67" y="378.5" font-size="5.2" font-weight="bold" text-anchor="middle" fill="#111" stroke="#111" stroke-width="0.28" font-family="Liberation Sans" textLength="6.6" lengthAdjust="spacingAndGlyphs" transform="rotate(-90 374.67 378.5)">CH</text>
<rect x="374.4" y="406.7" width="6.2" height="1.3" fill="#222"/>
<path d="M375.2 407.8L379.8 407.8L377.5 409.7Z" fill="#333"/>
<circle cx="409.5" cy="365.6" r="1.25" fill="#1e1e1e"/>
<polyline points="409.5,365.6 409.5,384.8" fill="none" stroke="#1e1e1e" stroke-width="1"/>
<polyline points="409.5,387.7 409.5,407.2" fill="none" stroke="#1e1e1e" stroke-width="1"/>
<rect x="407" y="384.05" width="5" height="1.5" fill="#1e1e1e"/>
<rect x="407" y="386.95" width="5" height="1.5" fill="#1e1e1e"/>
<text x="397.16" y="386" font-size="4.6" font-weight="bold" text-anchor="middle" fill="#111" stroke="#111" stroke-width="0.28" font-family="Liberation Sans" textLength="15.5" lengthAdjust="spacingAndGlyphs" transform="rotate(-90 397.16 386)">C2634</text>
<text x="401.76" y="385.8" font-size="4.6" font-weight="bold" text-anchor="middle" fill="#111" stroke="#111" stroke-width="0.28" font-family="Liberation Sans" textLength="11.6" lengthAdjust="spacingAndGlyphs" transform="rotate(-90 401.76 385.8)">150p</text>
<text x="406.67" y="378.5" font-size="5.2" font-weight="bold" text-anchor="middle" fill="#111" stroke="#111" stroke-width="0.28" font-family="Liberation Sans" textLength="6.6" lengthAdjust="spacingAndGlyphs" transform="rotate(-90 406.67 378.5)">CH</text>
<rect x="406.4" y="406.7" width="6.2" height="1.3" fill="#222"/>
<path d="M407.2 407.8L411.8 407.8L409.5 409.7Z" fill="#333"/>
<rect x="323.8" y="364.4" width="12" height="2.4" fill="#fff"/>
<polyline points="323,365.6 324.8,363.7 334.8,363.7 336.6,365.6" fill="none" stroke="#1e1e1e" stroke-width="1"/>
<rect x="326.45" y="363.4" width="1.5" height="4.2" rx="0.5" fill="#1e1e1e"/>
<rect x="329.25" y="363.4" width="1.5" height="4.2" rx="0.5" fill="#1e1e1e"/>
<rect x="332.05" y="363.4" width="1.5" height="4.2" rx="0.5" fill="#1e1e1e"/>
<text x="329.8" y="357.46" font-size="4.6" font-weight="bold" text-anchor="middle" fill="#111" stroke="#111" stroke-width="0.28" font-family="Liberation Sans" textLength="15" lengthAdjust="spacingAndGlyphs">L2604</text>
<text x="329.8" y="362.46" font-size="4.6" font-weight="bold" text-anchor="middle" fill="#111" stroke="#111" stroke-width="0.28" font-family="Liberation Sans" textLength="11.2" lengthAdjust="spacingAndGlyphs">1.2u</text>
<rect x="355.6" y="364.4" width="12" height="2.4" fill="#fff"/>
<polyline points="354.8,365.6 356.6,363.7 366.6,363.7 368.4,365.6" fill="none" stroke="#1e1e1e" stroke-width="1"/>
<rect x="358.25" y="363.4" width="1.5" height="4.2" rx="0.5" fill="#1e1e1e"/>
<rect x="361.05" y="363.4" width="1.5" height="4.2" rx="0.5" fill="#1e1e1e"/>
<rect x="363.85" y="363.4" width="1.5" height="4.2" rx="0.5" fill="#1e1e1e"/>
<text x="361.6" y="357.46" font-size="4.6" font-weight="bold" text-anchor="middle" fill="#111" stroke="#111" stroke-width="0.28" font-family="Liberation Sans" textLength="15" lengthAdjust="spacingAndGlyphs">L2610</text>
<text x="361.6" y="362.46" font-size="4.6" font-weight="bold" text-anchor="middle" fill="#111" stroke="#111" stroke-width="0.28" font-family="Liberation Sans" textLength="11.2" lengthAdjust="spacingAndGlyphs">1.2u</text>
<rect x="387.6" y="364.4" width="12" height="2.4" fill="#fff"/>
<polyline points="386.8,365.6 388.6,363.7 398.6,363.7 400.4,365.6" fill="none" stroke="#1e1e1e" stroke-width="1"/>
<rect x="390.25" y="363.4" width="1.5" height="4.2" rx="0.5" fill="#1e1e1e"/>
<rect x="393.05" y="363.4" width="1.5" height="4.2" rx="0.5" fill="#1e1e1e"/>
<rect x="395.85" y="363.4" width="1.5" height="4.2" rx="0.5" fill="#1e1e1e"/>
<text x="393.6" y="357.46" font-size="4.6" font-weight="bold" text-anchor="middle" fill="#111" stroke="#111" stroke-width="0.28" font-family="Liberation Sans" textLength="15" lengthAdjust="spacingAndGlyphs">L2616</text>
<text x="393.6" y="362.46" font-size="4.6" font-weight="bold" text-anchor="middle" fill="#111" stroke="#111" stroke-width="0.28" font-family="Liberation Sans" textLength="11.2" lengthAdjust="spacingAndGlyphs">1.2u</text>
<circle cx="427.6" cy="365.6" r="1.25" fill="#1e1e1e"/>
<polyline points="427.6,365.6 427.6,407.2" fill="none" stroke="#1e1e1e" stroke-width="1"/>
<rect x="426.4" y="379.7" width="2.4" height="12" fill="#fff"/>
<polyline points="427.6,378.5 425.5,380.5 425.5,390.9 427.6,392.9" fill="none" stroke="#1e1e1e" stroke-width="1"/>
<rect x="425.4" y="382.85" width="4.4" height="1.3" rx="0.5" fill="#1e1e1e"/>
<rect x="425.4" y="385.05" width="4.4" height="1.3" rx="0.5" fill="#1e1e1e"/>
<rect x="425.4" y="387.25" width="4.4" height="1.3" rx="0.5" fill="#1e1e1e"/>
<rect x="424.5" y="406.7" width="6.2" height="1.3" fill="#222"/>
<path d="M425.3 407.8L429.9 407.8L427.6 409.7Z" fill="#333"/>
<text x="419.76" y="386.1" font-size="4.6" font-weight="bold" text-anchor="middle" fill="#111" stroke="#111" stroke-width="0.28" font-family="Liberation Sans" textLength="14.5" lengthAdjust="spacingAndGlyphs" transform="rotate(-90 419.76 386.1)">L2622</text>
<text x="424.26" y="386.1" font-size="4.6" font-weight="bold" text-anchor="middle" fill="#111" stroke="#111" stroke-width="0.28" font-family="Liberation Sans" textLength="11.2" lengthAdjust="spacingAndGlyphs" transform="rotate(-90 424.26 386.1)">2.2u</text>
<circle cx="459.9" cy="365.6" r="1.25" fill="#1e1e1e"/>
<polyline points="459.9,365.6 459.9,407.2" fill="none" stroke="#1e1e1e" stroke-width="1"/>
<rect x="458.7" y="379.7" width="2.4" height="12" fill="#fff"/>
<polyline points="459.9,378.5 457.8,380.5 457.8,390.9 459.9,392.9" fill="none" stroke="#1e1e1e" stroke-width="1"/>
<rect x="457.7" y="382.85" width="4.4" height="1.3" rx="0.5" fill="#1e1e1e"/>
<rect x="457.7" y="385.05" width="4.4" height="1.3" rx="0.5" fill="#1e1e1e"/>
<rect x="457.7" y="387.25" width="4.4" height="1.3" rx="0.5" fill="#1e1e1e"/>
<rect x="456.8" y="406.7" width="6.2" height="1.3" fill="#222"/>
<path d="M457.6 407.8L462.2 407.8L459.9 409.7Z" fill="#333"/>
<text x="452.06" y="386.1" font-size="4.6" font-weight="bold" text-anchor="middle" fill="#111" stroke="#111" stroke-width="0.28" font-family="Liberation Sans" textLength="14.5" lengthAdjust="spacingAndGlyphs" transform="rotate(-90 452.06 386.1)">L2628</text>
<text x="456.56" y="386.1" font-size="4.6" font-weight="bold" text-anchor="middle" fill="#111" stroke="#111" stroke-width="0.28" font-family="Liberation Sans" textLength="11.2" lengthAdjust="spacingAndGlyphs" transform="rotate(-90 456.56 386.1)">2.2u</text>
<circle cx="492" cy="365.6" r="1.25" fill="#1e1e1e"/>
<polyline points="492,365.6 492,407.2" fill="none" stroke="#1e1e1e" stroke-width="1"/>
<rect x="490.8" y="379.7" width="2.4" height="12" fill="#fff"/>
<polyline points="492,378.5 489.9,380.5 489.9,390.9 492,392.9" fill="none" stroke="#1e1e1e" stroke-width="1"/>
<rect x="489.8" y="382.85" width="4.4" height="1.3" rx="0.5" fill="#1e1e1e"/>
<rect x="489.8" y="385.05" width="4.4" height="1.3" rx="0.5" fill="#1e1e1e"/>
<rect x="489.8" y="387.25" width="4.4" height="1.3" rx="0.5" fill="#1e1e1e"/>
<rect x="488.9" y="406.7" width="6.2" height="1.3" fill="#222"/>
<path d="M489.7 407.8L494.3 407.8L492 409.7Z" fill="#333"/>
<text x="484.16" y="386.1" font-size="4.6" font-weight="bold" text-anchor="middle" fill="#111" stroke="#111" stroke-width="0.28" font-family="Liberation Sans" textLength="14.5" lengthAdjust="spacingAndGlyphs" transform="rotate(-90 484.16 386.1)">L2634</text>
<text x="488.66" y="386.1" font-size="4.6" font-weight="bold" text-anchor="middle" fill="#111" stroke="#111" stroke-width="0.28" font-family="Liberation Sans" textLength="11.2" lengthAdjust="spacingAndGlyphs" transform="rotate(-90 488.66 386.1)">1.2u</text>
<circle cx="524.1" cy="365.6" r="1.25" fill="#1e1e1e"/>
<polyline points="524.1,365.6 524.1,407.2" fill="none" stroke="#1e1e1e" stroke-width="1"/>
<rect x="522.9" y="379.7" width="2.4" height="12" fill="#fff"/>
<polyline points="524.1,378.5 522,380.5 522,390.9 524.1,392.9" fill="none" stroke="#1e1e1e" stroke-width="1"/>
<rect x="521.9" y="382.85" width="4.4" height="1.3" rx="0.5" fill="#1e1e1e"/>
<rect x="521.9" y="385.05" width="4.4" height="1.3" rx="0.5" fill="#1e1e1e"/>
<rect x="521.9" y="387.25" width="4.4" height="1.3" rx="0.5" fill="#1e1e1e"/>
<rect x="521" y="406.7" width="6.2" height="1.3" fill="#222"/>
<path d="M521.8 407.8L526.4 407.8L524.1 409.7Z" fill="#333"/>
<text x="516.26" y="386.1" font-size="4.6" font-weight="bold" text-anchor="middle" fill="#111" stroke="#111" stroke-width="0.28" font-family="Liberation Sans" textLength="14.5" lengthAdjust="spacingAndGlyphs" transform="rotate(-90 516.26 386.1)">L2640</text>
<text x="520.76" y="386.1" font-size="4.6" font-weight="bold" text-anchor="middle" fill="#111" stroke="#111" stroke-width="0.28" font-family="Liberation Sans" textLength="11.2" lengthAdjust="spacingAndGlyphs" transform="rotate(-90 520.76 386.1)">2.2u</text>
<rect x="442.7" y="364.6" width="2.4" height="2" fill="#fff"/>
<rect x="441.85" y="363.3" width="1.1" height="4.6" fill="#1e1e1e"/>
<rect x="444.85" y="363.3" width="1.1" height="4.6" fill="#1e1e1e"/>
<text x="443.5" y="353.56" font-size="4.6" font-weight="bold" text-anchor="middle" fill="#111" stroke="#111" stroke-width="0.28" font-family="Liberation Sans" textLength="15.5" lengthAdjust="spacingAndGlyphs">C2666</text>
<text x="443.5" y="358.16" font-size="4.6" font-weight="bold" text-anchor="middle" fill="#111" stroke="#111" stroke-width="0.28" font-family="Liberation Sans" textLength="12" lengthAdjust="spacingAndGlyphs">680p</text>
<text x="451.4" y="362.56" font-size="4.6" font-weight="bold" text-anchor="middle" fill="#111" stroke="#111" stroke-width="0.28" font-family="Liberation Sans" textLength="6" lengthAdjust="spacingAndGlyphs">CH</text>
<text x="437.5" y="362.56" font-size="4.6" font-weight="bold" text-anchor="middle" fill="#111" stroke="#111" stroke-width="0.28" font-family="Liberation Sans" textLength="9" lengthAdjust="spacingAndGlyphs">25V</text>
<rect x="474.8" y="364.6" width="2.4" height="2" fill="#fff"/>
<rect x="473.95" y="363.3" width="1.1" height="4.6" fill="#1e1e1e"/>
<rect x="476.95" y="363.3" width="1.1" height="4.6" fill="#1e1e1e"/>
<text x="475.6" y="353.56" font-size="4.6" font-weight="bold" text-anchor="middle" fill="#111" stroke="#111" stroke-width="0.28" font-family="Liberation Sans" textLength="15.5" lengthAdjust="spacingAndGlyphs">C2647</text>
<text x="475.6" y="358.16" font-size="4.6" font-weight="bold" text-anchor="middle" fill="#111" stroke="#111" stroke-width="0.28" font-family="Liberation Sans" textLength="12" lengthAdjust="spacingAndGlyphs">470p</text>
<text x="483.5" y="362.56" font-size="4.6" font-weight="bold" text-anchor="middle" fill="#111" stroke="#111" stroke-width="0.28" font-family="Liberation Sans" textLength="6" lengthAdjust="spacingAndGlyphs">CH</text>
<rect x="506.8" y="364.6" width="2.4" height="2" fill="#fff"/>
<rect x="505.95" y="363.3" width="1.1" height="4.6" fill="#1e1e1e"/>
<rect x="508.95" y="363.3" width="1.1" height="4.6" fill="#1e1e1e"/>
<text x="507.6" y="353.56" font-size="4.6" font-weight="bold" text-anchor="middle" fill="#111" stroke="#111" stroke-width="0.28" font-family="Liberation Sans" textLength="15.5" lengthAdjust="spacingAndGlyphs">C2653</text>
<text x="507.6" y="358.16" font-size="4.6" font-weight="bold" text-anchor="middle" fill="#111" stroke="#111" stroke-width="0.28" font-family="Liberation Sans" textLength="12" lengthAdjust="spacingAndGlyphs">680p</text>
<text x="515.5" y="362.56" font-size="4.6" font-weight="bold" text-anchor="middle" fill="#111" stroke="#111" stroke-width="0.28" font-family="Liberation Sans" textLength="6" lengthAdjust="spacingAndGlyphs">CH</text>
<text x="501.6" y="362.56" font-size="4.6" font-weight="bold" text-anchor="middle" fill="#111" stroke="#111" stroke-width="0.28" font-family="Liberation Sans" textLength="9" lengthAdjust="spacingAndGlyphs">25V</text>
<polyline points="524.1,365.6 524.1,342.5 614.5,342.5" fill="none" stroke="#1e1e1e" stroke-width="1"/>
<rect x="340.6" y="342.9" width="73.4" height="9.4" fill="#fff" stroke="#3a3a3a" stroke-width="1"/>
<text x="342.3" y="350.2" font-size="7.7" font-weight="normal" text-anchor="start" fill="#2a2a2a" font-family="Liberation Mono" textLength="68.55" lengthAdjust="spacingAndGlyphs">B6:4.7 - 6.9MHz</text>
<polyline points="571.6,358.5 571.6,397.3" fill="none" stroke="#000" stroke-width="1.1" stroke-dasharray="2.8,1.8"/>
<polyline points="631,358.5 631,397.3" fill="none" stroke="#000" stroke-width="1.1" stroke-dasharray="2.8,1.8"/>
<polyline points="571.6,358.5 631,358.5" fill="none" stroke="#000" stroke-width="1.1" stroke-dasharray="2.8,1.8"/>
<polyline points="571.6,401.3 631,401.3" fill="none" stroke="#000" stroke-width="1.2" stroke-dasharray="2.8,1.8"/>
<polyline points="571.6,397.3 571.6,401.3" fill="none" stroke="#000" stroke-width="1.1"/>
<polyline points="631,397.3 631,401.3" fill="none" stroke="#000" stroke-width="1.1"/>
<polyline points="578.1,358.5 578.1,376.7" fill="none" stroke="#1e1e1e" stroke-width="1"/>
<polyline points="587.2,358.5 587.2,377.2" fill="none" stroke="#1e1e1e" stroke-width="1"/>
<polyline points="596.3,358.5 596.3,376.7" fill="none" stroke="#1e1e1e" stroke-width="1"/>
<path d="M578.1 370.3L578.1 376.7L587.2 373.5Z" fill="none" stroke="#1e1e1e" stroke-width="0.8"/>
<path d="M596.3 370.3L596.3 376.7L587.2 373.5Z" fill="#1e1e1e"/>
<polyline points="605.4,358.5 605.4,376.7" fill="none" stroke="#1e1e1e" stroke-width="1"/>
<polyline points="614.5,358.5 614.5,377.2" fill="none" stroke="#1e1e1e" stroke-width="1"/>
<polyline points="623.6,358.5 623.6,376.7" fill="none" stroke="#1e1e1e" stroke-width="1"/>
<path d="M605.4 370.3L605.4 376.7L614.5 373.5Z" fill="none" stroke="#1e1e1e" stroke-width="0.8"/>
<path d="M623.6 370.3L623.6 376.7L614.5 373.5Z" fill="#1e1e1e"/>
<circle cx="578.1" cy="358.5" r="2.25" fill="#a8a8a8" stroke="#1e1e1e" stroke-width="0.9"/>
<path d="M577.5 357.1L579.3 359.1" stroke="#333" stroke-width="0.8"/>
<circle cx="587.2" cy="358.5" r="2.25" fill="#a8a8a8" stroke="#1e1e1e" stroke-width="0.9"/>
<path d="M586.6 357.1L588.4 359.1" stroke="#333" stroke-width="0.8"/>
<circle cx="596.3" cy="358.5" r="2.25" fill="#a8a8a8" stroke="#1e1e1e" stroke-width="0.9"/>
<path d="M595.7 357.1L597.5 359.1" stroke="#333" stroke-width="0.8"/>
<circle cx="605.4" cy="358.5" r="2.25" fill="#a8a8a8" stroke="#1e1e1e" stroke-width="0.9"/>
<path d="M604.8 357.1L606.6 359.1" stroke="#333" stroke-width="0.8"/>
<circle cx="614.5" cy="358.5" r="2.25" fill="#a8a8a8" stroke="#1e1e1e" stroke-width="0.9"/>
<path d="M613.9 357.1L615.7 359.1" stroke="#333" stroke-width="0.8"/>
<circle cx="623.6" cy="358.5" r="2.25" fill="#a8a8a8" stroke="#1e1e1e" stroke-width="0.9"/>
<path d="M623 357.1L624.8 359.1" stroke="#333" stroke-width="0.8"/>
<polyline points="571.6,397.3 593.2,397.3 593.2,387.8" fill="none" stroke="#1e1e1e" stroke-width="1"/>
<path d="M593.2 387.8Q593.2 385.9 595.2 385.9" fill="none" stroke="#1e1e1e" stroke-width="1"/>
<polyline points="595.2,385.9 607.5,385.9" fill="none" stroke="#1e1e1e" stroke-width="1"/>
<path d="M607.5 385.9Q609.5 385.9 609.5 387.8" fill="none" stroke="#1e1e1e" stroke-width="1"/>
<polyline points="609.5,387.8 609.5,397.3 631,397.3" fill="none" stroke="#1e1e1e" stroke-width="1"/>
<polyline points="590.8,382.3 611.9,382.3" fill="none" stroke="#555" stroke-width="1"/>
<ellipse cx="599.15" cy="388.7" rx="1.5" ry="2.2" fill="none" stroke="#1e1e1e" stroke-width="0.8"/>
<ellipse cx="603.55" cy="388.7" rx="1.5" ry="2.2" fill="none" stroke="#1e1e1e" stroke-width="0.8"/>
<polyline points="621.8,393.1 627,393.1" fill="none" stroke="#222" stroke-width="0.9"/>
<polyline points="624.4,390.5 624.4,395.7" fill="none" stroke="#222" stroke-width="0.9"/>
<polyline points="578.6,396.3 578.6,391.8" fill="none" stroke="#333" stroke-width="1"/>
<circle cx="571.6" cy="397.3" r="2.3" fill="#7a7a7a" stroke="#1e1e1e" stroke-width="0.9"/>
<circle cx="631" cy="397.3" r="2.3" fill="#f4f4f4" stroke="#1e1e1e" stroke-width="0.9"/>
<polyline points="629.6,397.3 632.4,397.3" fill="none" stroke="#555" stroke-width="0.7"/>
<polyline points="605.4,358.5 605.4,351.8 542,351.8" fill="none" stroke="#1e1e1e" stroke-width="1"/>
<circle cx="542" cy="351.8" r="1.25" fill="#1e1e1e"/>
<polyline points="614.5,358.5 614.5,342.5" fill="none" stroke="#1e1e1e" stroke-width="1"/>
<polyline points="623.6,358.5 623.6,351.8 641.8,351.8 641.8,365" fill="none" stroke="#1e1e1e" stroke-width="1"/>
<rect x="638.7" y="365.5" width="6.2" height="1.3" fill="#222"/>
<path d="M639.5 366.6L644.1 366.6L641.8 368.5Z" fill="#333"/>
<polyline points="571.6,397.3 560.3,397.3 560.3,406.8" fill="none" stroke="#1e1e1e" stroke-width="1"/>
<rect x="557.2" y="406.6" width="6.2" height="1.3" fill="#222"/>
<path d="M558 407.7L562.6 407.7L560.3 409.6Z" fill="#333"/>
<text x="571.1" y="379.7" font-size="5" font-weight="bold" text-anchor="middle" fill="#111" stroke="#111" stroke-width="0.1" font-family="Liberation Sans" textLength="16" lengthAdjust="spacingAndGlyphs" transform="rotate(-90 571.1 379.7)">DC12V</text>
<text x="638.16" y="378.9" font-size="4.6" font-weight="bold" text-anchor="middle" fill="#111" stroke="#111" stroke-width="0.28" font-family="Liberation Sans" textLength="23.6" lengthAdjust="spacingAndGlyphs" transform="rotate(-90 638.16 378.9)">G6K-2F-Y</text>
<text x="642.56" y="378.9" font-size="4.6" font-weight="bold" text-anchor="middle" fill="#111" stroke="#111" stroke-width="0.28" font-family="Liberation Sans" textLength="17.4" lengthAdjust="spacingAndGlyphs" transform="rotate(-90 642.56 378.9)">RL2610</text>
<polyline points="631,397.3 698.2,397.3 702,401.3" fill="none" stroke="#1e1e1e" stroke-width="1"/>
<circle cx="642.6" cy="397.3" r="1.25" fill="#1e1e1e"/>
<polyline points="642.6,397.3 642.6,421.3" fill="none" stroke="#555" stroke-width="1"/>
<path d="M639.8 410.85L645.4 410.85L642.6 406.75Z" fill="#1e1e1e"/>
<polyline points="640.2,406.75 645,406.75" fill="none" stroke="#1e1e1e" stroke-width="1.1"/>
<rect x="639.5" y="420.8" width="6.2" height="1.3" fill="#222"/>
<path d="M640.3 421.9L644.9 421.9L642.6 423.8Z" fill="#333"/>
<text x="638.86" y="409.7" font-size="4.6" font-weight="bold" text-anchor="middle" fill="#111" stroke="#111" stroke-width="0.28" font-family="Liberation Sans" textLength="14.5" lengthAdjust="spacingAndGlyphs" transform="rotate(-90 638.86 409.7)">D2610</text>
<text x="649.66" y="408.1" font-size="4.6" font-weight="bold" text-anchor="middle" fill="#111" stroke="#111" stroke-width="0.28" font-family="Liberation Sans" textLength="18.6" lengthAdjust="spacingAndGlyphs" transform="rotate(-90 649.66 408.1)">BAS316</text>
<circle cx="661" cy="397.3" r="1.25" fill="#1e1e1e"/>
<polyline points="661,397.3 661,407.4" fill="none" stroke="#1e1e1e" stroke-width="1"/>
<polyline points="661,410.2 661,421.3" fill="none" stroke="#1e1e1e" stroke-width="1"/>
<rect x="658.4" y="406.65" width="5.2" height="1.5" fill="#1e1e1e"/>
<rect x="658.4" y="409.45" width="5.2" height="1.5" fill="#1e1e1e"/>
<rect x="657.9" y="420.8" width="6.2" height="1.3" fill="#222"/>
<path d="M658.7 421.9L663.3 421.9L661 423.8Z" fill="#333"/>
<text x="656.56" y="409.3" font-size="4.6" font-weight="bold" text-anchor="middle" fill="#111" stroke="#111" stroke-width="0.28" font-family="Liberation Sans" textLength="15.5" lengthAdjust="spacingAndGlyphs" transform="rotate(-90 656.56 409.3)">C2620</text>
<text x="668.66" y="409.9" font-size="4.6" font-weight="bold" text-anchor="middle" fill="#111" stroke="#111" stroke-width="0.28" font-family="Liberation Sans" textLength="12.4" lengthAdjust="spacingAndGlyphs" transform="rotate(-90 668.66 409.9)">0.01</text>
<text x="667.66" y="401.9" font-size="4.6" font-weight="bold" text-anchor="middle" fill="#111" stroke="#111" stroke-width="0.28" font-family="Liberation Sans" textLength="3.1" lengthAdjust="spacingAndGlyphs" transform="rotate(-90 667.66 401.9)">B</text>
<rect x="673" y="396.3" width="8" height="2" fill="#fff"/>
<polyline points="672.8,397.3 673.5,395.3 674.9,399.3 676.3,395.3 677.7,399.3 679.1,395.3 680.5,399.3 681.2,397.3" fill="none" stroke="#1e1e1e" stroke-width="1"/>
<text x="677" y="389.96" font-size="4.6" font-weight="bold" text-anchor="middle" fill="#111" stroke="#111" stroke-width="0.28" font-family="Liberation Sans" textLength="15.5" lengthAdjust="spacingAndGlyphs">R2610</text>
<text x="677.4" y="394.56" font-size="4.6" font-weight="bold" text-anchor="middle" fill="#111" stroke="#111" stroke-width="0.28" font-family="Liberation Sans" textLength="8.1" lengthAdjust="spacingAndGlyphs">100</text>
<text x="693.9" y="395.37" font-size="5.2" font-weight="bold" text-anchor="middle" fill="#111" stroke="#111" stroke-width="0.28" font-family="Liberation Sans" textLength="5.8" lengthAdjust="spacingAndGlyphs">B6</text>
<polyline points="135.7,488 139.5,484 206.7,484" fill="none" stroke="#1e1e1e" stroke-width="1"/>
<text x="143.4" y="482.37" font-size="5.2" font-weight="bold" text-anchor="middle" fill="#111" stroke="#111" stroke-width="0.28" font-family="Liberation Sans" textLength="5.8" lengthAdjust="spacingAndGlyphs">B5</text>
<circle cx="153.9" cy="484" r="1.25" fill="#1e1e1e"/>
<polyline points="153.8,484 153.8,494.1" fill="none" stroke="#1e1e1e" stroke-width="1"/>
<polyline points="153.8,496.9 153.8,508" fill="none" stroke="#1e1e1e" stroke-width="1"/>
<rect x="151.1" y="493.35" width="5.4" height="1.5" fill="#1e1e1e"/>
<path d="M151.1 497.9Q153.8 496.3 156.5 497.9" fill="none" stroke="#1e1e1e" stroke-width="1.2"/>
<rect x="150.8" y="507.5" width="6.2" height="1.3" fill="#222"/>
<path d="M151.6 508.6L156.2 508.6L153.9 510.5Z" fill="#333"/>
<text x="141.86" y="495.6" font-size="4.6" font-weight="bold" text-anchor="middle" fill="#111" stroke="#111" stroke-width="0.28" font-family="Liberation Sans" textLength="15.5" lengthAdjust="spacingAndGlyphs" transform="rotate(-90 141.86 495.6)">C2615</text>
<text x="146.06" y="495.4" font-size="4.6" font-weight="bold" text-anchor="middle" fill="#111" stroke="#111" stroke-width="0.28" font-family="Liberation Sans" textLength="8.4" lengthAdjust="spacingAndGlyphs" transform="rotate(-90 146.06 495.4)">2.2</text>
<text x="150.86" y="499" font-size="4.6" font-weight="bold" text-anchor="middle" fill="#111" stroke="#111" stroke-width="0.28" font-family="Liberation Sans" textLength="8.7" lengthAdjust="spacingAndGlyphs" transform="rotate(-90 150.86 499)">16V</text>
<text x="151.16" y="489.2" font-size="4.6" font-weight="bold" text-anchor="middle" fill="#111" stroke="#111" stroke-width="0.28" font-family="Liberation Sans" textLength="3.1" lengthAdjust="spacingAndGlyphs" transform="rotate(-90 151.16 489.2)">B</text>
<rect x="161.2" y="483" width="8" height="2" fill="#fff"/>
<polyline points="161,484 161.7,482 163.1,486 164.5,482 165.9,486 167.3,482 168.7,486 169.4,484" fill="none" stroke="#1e1e1e" stroke-width="1"/>
<text x="165" y="476.46" font-size="4.6" font-weight="bold" text-anchor="middle" fill="#111" stroke="#111" stroke-width="0.28" font-family="Liberation Sans" textLength="15.5" lengthAdjust="spacingAndGlyphs">R2605</text>
<text x="166" y="481.26" font-size="4.6" font-weight="bold" text-anchor="middle" fill="#111" stroke="#111" stroke-width="0.28" font-family="Liberation Sans" textLength="8.1" lengthAdjust="spacingAndGlyphs">100</text>
<circle cx="176.6" cy="484" r="1.25" fill="#1e1e1e"/>
<polyline points="176.5,484 176.5,494.1" fill="none" stroke="#1e1e1e" stroke-width="1"/>
<polyline points="176.5,496.9 176.5,508" fill="none" stroke="#1e1e1e" stroke-width="1"/>
<rect x="173.9" y="493.35" width="5.2" height="1.5" fill="#1e1e1e"/>
<rect x="173.9" y="496.15" width="5.2" height="1.5" fill="#1e1e1e"/>
<rect x="173.5" y="507.5" width="6.2" height="1.3" fill="#222"/>
<path d="M174.3 508.6L178.9 508.6L176.6 510.5Z" fill="#333"/>
<text x="163.96" y="495.4" font-size="4.6" font-weight="bold" text-anchor="middle" fill="#111" stroke="#111" stroke-width="0.28" font-family="Liberation Sans" textLength="15.5" lengthAdjust="spacingAndGlyphs" transform="rotate(-90 163.96 495.4)">C2611</text>
<text x="168.96" y="495.4" font-size="4.6" font-weight="bold" text-anchor="middle" fill="#111" stroke="#111" stroke-width="0.28" font-family="Liberation Sans" textLength="12.4" lengthAdjust="spacingAndGlyphs" transform="rotate(-90 168.96 495.4)">0.01</text>
<text x="173.86" y="489" font-size="4.6" font-weight="bold" text-anchor="middle" fill="#111" stroke="#111" stroke-width="0.28" font-family="Liberation Sans" textLength="3.1" lengthAdjust="spacingAndGlyphs" transform="rotate(-90 173.86 489)">B</text>
<circle cx="195.1" cy="484" r="1.25" fill="#1e1e1e"/>
<polyline points="195,484 195,508" fill="none" stroke="#555" stroke-width="1"/>
<path d="M192.2 497.55L197.8 497.55L195 493.45Z" fill="#1e1e1e"/>
<polyline points="192.6,493.45 197.4,493.45" fill="none" stroke="#1e1e1e" stroke-width="1.1"/>
<rect x="192" y="507.5" width="6.2" height="1.3" fill="#222"/>
<path d="M192.8 508.6L197.4 508.6L195.1 510.5Z" fill="#333"/>
<text x="191.76" y="496.4" font-size="4.6" font-weight="bold" text-anchor="middle" fill="#111" stroke="#111" stroke-width="0.28" font-family="Liberation Sans" textLength="14.5" lengthAdjust="spacingAndGlyphs" transform="rotate(-90 191.76 496.4)">D2605</text>
<text x="202.56" y="494.8" font-size="4.6" font-weight="bold" text-anchor="middle" fill="#111" stroke="#111" stroke-width="0.28" font-family="Liberation Sans" textLength="18.6" lengthAdjust="spacingAndGlyphs" transform="rotate(-90 202.56 494.8)">BAS316</text>
<polyline points="206.7,445.2 206.7,484" fill="none" stroke="#000" stroke-width="1.1" stroke-dasharray="2.8,1.8"/>
<polyline points="266.1,445.2 266.1,484" fill="none" stroke="#000" stroke-width="1.1" stroke-dasharray="2.8,1.8"/>
<polyline points="206.7,445.2 266.1,445.2" fill="none" stroke="#000" stroke-width="1.1" stroke-dasharray="2.8,1.8"/>
<polyline points="206.7,488 266.1,488" fill="none" stroke="#000" stroke-width="1.2" stroke-dasharray="2.8,1.8"/>
<polyline points="206.7,484 206.7,488" fill="none" stroke="#000" stroke-width="1.1"/>
<polyline points="266.1,484 266.1,488" fill="none" stroke="#000" stroke-width="1.1"/>
<polyline points="213.2,445.2 213.2,463.4" fill="none" stroke="#1e1e1e" stroke-width="1"/>
<polyline points="222.3,445.2 222.3,463.9" fill="none" stroke="#1e1e1e" stroke-width="1"/>
<polyline points="231.4,445.2 231.4,463.4" fill="none" stroke="#1e1e1e" stroke-width="1"/>
<path d="M213.2 457L213.2 463.4L222.3 460.2Z" fill="#1e1e1e"/>
<path d="M231.4 457L231.4 463.4L222.3 460.2Z" fill="none" stroke="#1e1e1e" stroke-width="0.8"/>
<polyline points="240.5,445.2 240.5,463.4" fill="none" stroke="#1e1e1e" stroke-width="1"/>
<polyline points="249.6,445.2 249.6,463.9" fill="none" stroke="#1e1e1e" stroke-width="1"/>
<polyline points="258.7,445.2 258.7,463.4" fill="none" stroke="#1e1e1e" stroke-width="1"/>
<path d="M240.5 457L240.5 463.4L249.6 460.2Z" fill="#1e1e1e"/>
<path d="M258.7 457L258.7 463.4L249.6 460.2Z" fill="none" stroke="#1e1e1e" stroke-width="0.8"/>
<circle cx="213.2" cy="445.2" r="2.25" fill="#a8a8a8" stroke="#1e1e1e" stroke-width="0.9"/>
<path d="M212.6 443.8L214.4 445.8" stroke="#333" stroke-width="0.8"/>
<circle cx="222.3" cy="445.2" r="2.25" fill="#a8a8a8" stroke="#1e1e1e" stroke-width="0.9"/>
<path d="M221.7 443.8L223.5 445.8" stroke="#333" stroke-width="0.8"/>
<circle cx="231.4" cy="445.2" r="2.25" fill="#a8a8a8" stroke="#1e1e1e" stroke-width="0.9"/>
<path d="M230.8 443.8L232.6 445.8" stroke="#333" stroke-width="0.8"/>
<circle cx="240.5" cy="445.2" r="2.25" fill="#a8a8a8" stroke="#1e1e1e" stroke-width="0.9"/>
<path d="M239.9 443.8L241.7 445.8" stroke="#333" stroke-width="0.8"/>
<circle cx="249.6" cy="445.2" r="2.25" fill="#a8a8a8" stroke="#1e1e1e" stroke-width="0.9"/>
<path d="M249 443.8L250.8 445.8" stroke="#333" stroke-width="0.8"/>
<circle cx="258.7" cy="445.2" r="2.25" fill="#a8a8a8" stroke="#1e1e1e" stroke-width="0.9"/>
<path d="M258.1 443.8L259.9 445.8" stroke="#333" stroke-width="0.8"/>
<polyline points="206.7,484 228.3,484 228.3,474.5" fill="none" stroke="#1e1e1e" stroke-width="1"/>
<path d="M228.3 474.5Q228.3 472.6 230.3 472.6" fill="none" stroke="#1e1e1e" stroke-width="1"/>
<polyline points="230.3,472.6 242.6,472.6" fill="none" stroke="#1e1e1e" stroke-width="1"/>
<path d="M242.6 472.6Q244.6 472.6 244.6 474.5" fill="none" stroke="#1e1e1e" stroke-width="1"/>
<polyline points="244.6,474.5 244.6,484 266.1,484" fill="none" stroke="#1e1e1e" stroke-width="1"/>
<polyline points="225.9,469 247,469" fill="none" stroke="#555" stroke-width="1"/>
<ellipse cx="234.25" cy="475.4" rx="1.5" ry="2.2" fill="none" stroke="#1e1e1e" stroke-width="0.8"/>
<ellipse cx="238.65" cy="475.4" rx="1.5" ry="2.2" fill="none" stroke="#1e1e1e" stroke-width="0.8"/>
<polyline points="210.7,479.8 215.9,479.8" fill="none" stroke="#222" stroke-width="0.9"/>
<polyline points="213.3,477.2 213.3,482.4" fill="none" stroke="#222" stroke-width="0.9"/>
<polyline points="259.1,483 259.1,478.5" fill="none" stroke="#333" stroke-width="1"/>
<circle cx="206.7" cy="484" r="2.3" fill="#f4f4f4" stroke="#1e1e1e" stroke-width="0.9"/>
<polyline points="205.3,484 208.1,484" fill="none" stroke="#555" stroke-width="0.7"/>
<circle cx="266.1" cy="484" r="2.3" fill="#7a7a7a" stroke="#1e1e1e" stroke-width="0.9"/>
<polyline points="213.2,445.2 213.2,438.5 194.6,438.5 194.6,451.7" fill="none" stroke="#1e1e1e" stroke-width="1"/>
<rect x="191.5" y="452.2" width="6.2" height="1.3" fill="#222"/>
<path d="M192.3 453.3L196.9 453.3L194.6 455.2Z" fill="#333"/>
<polyline points="222.3,445.2 222.3,429.2 313.5,429.2" fill="none" stroke="#1e1e1e" stroke-width="1"/>
<polyline points="231.4,445.2 231.4,438.5 295.5,438.5" fill="none" stroke="#1e1e1e" stroke-width="1"/>
<circle cx="295.5" cy="438.5" r="1.25" fill="#1e1e1e"/>
<polyline points="266.1,484 277,484 277,493" fill="none" stroke="#1e1e1e" stroke-width="1"/>
<rect x="273.9" y="492.5" width="6.2" height="1.3" fill="#222"/>
<path d="M274.7 493.6L279.3 493.6L277 495.5Z" fill="#333"/>
<text x="199.06" y="465.6" font-size="4.6" font-weight="bold" text-anchor="middle" fill="#111" stroke="#111" stroke-width="0.28" font-family="Liberation Sans" textLength="17.4" lengthAdjust="spacingAndGlyphs" transform="rotate(-90 199.06 465.6)">RL2605</text>
<text x="203.06" y="465.2" font-size="4.6" font-weight="bold" text-anchor="middle" fill="#111" stroke="#111" stroke-width="0.28" font-family="Liberation Sans" textLength="23.6" lengthAdjust="spacingAndGlyphs" transform="rotate(-90 203.06 465.2)">G6K-2F-Y</text>
<text x="271.1" y="465.2" font-size="5" font-weight="bold" text-anchor="middle" fill="#111" stroke="#111" stroke-width="0.1" font-family="Liberation Sans" textLength="17" lengthAdjust="spacingAndGlyphs" transform="rotate(-90 271.1 465.2)">DC12V</text>
<polyline points="313.5,429.2 313.5,452.3" fill="none" stroke="#1e1e1e" stroke-width="1"/>
<circle cx="313.5" cy="452.3" r="1.25" fill="#1e1e1e"/>
<polyline points="313.5,452.3 524.1,452.3" fill="none" stroke="#1e1e1e" stroke-width="1"/>
<polyline points="313.5,452.3 313.5,471.5" fill="none" stroke="#1e1e1e" stroke-width="1"/>
<polyline points="313.5,474.4 313.5,493.9" fill="none" stroke="#1e1e1e" stroke-width="1"/>
<rect x="311" y="470.75" width="5" height="1.5" fill="#1e1e1e"/>
<rect x="311" y="473.65" width="5" height="1.5" fill="#1e1e1e"/>
<text x="301.16" y="472.7" font-size="4.6" font-weight="bold" text-anchor="middle" fill="#111" stroke="#111" stroke-width="0.28" font-family="Liberation Sans" textLength="15.5" lengthAdjust="spacingAndGlyphs" transform="rotate(-90 301.16 472.7)">C2617</text>
<text x="305.76" y="472.5" font-size="4.6" font-weight="bold" text-anchor="middle" fill="#111" stroke="#111" stroke-width="0.28" font-family="Liberation Sans" textLength="11.6" lengthAdjust="spacingAndGlyphs" transform="rotate(-90 305.76 472.5)">220p</text>
<text x="310.67" y="465.2" font-size="5.2" font-weight="bold" text-anchor="middle" fill="#111" stroke="#111" stroke-width="0.28" font-family="Liberation Sans" textLength="6.6" lengthAdjust="spacingAndGlyphs" transform="rotate(-90 310.67 465.2)">CH</text>
<rect x="310.4" y="493.4" width="6.2" height="1.3" fill="#222"/>
<path d="M311.2 494.5L315.8 494.5L313.5 496.4Z" fill="#333"/>
<circle cx="345.6" cy="452.3" r="1.25" fill="#1e1e1e"/>
<polyline points="345.6,452.3 345.6,471.5" fill="none" stroke="#1e1e1e" stroke-width="1"/>
<polyline points="345.6,474.4 345.6,493.9" fill="none" stroke="#1e1e1e" stroke-width="1"/>
<rect x="343.1" y="470.75" width="5" height="1.5" fill="#1e1e1e"/>
<rect x="343.1" y="473.65" width="5" height="1.5" fill="#1e1e1e"/>
<text x="333.26" y="472.7" font-size="4.6" font-weight="bold" text-anchor="middle" fill="#111" stroke="#111" stroke-width="0.28" font-family="Liberation Sans" textLength="15.5" lengthAdjust="spacingAndGlyphs" transform="rotate(-90 333.26 472.7)">C2623</text>
<text x="337.86" y="472.5" font-size="4.6" font-weight="bold" text-anchor="middle" fill="#111" stroke="#111" stroke-width="0.28" font-family="Liberation Sans" textLength="11.6" lengthAdjust="spacingAndGlyphs" transform="rotate(-90 337.86 472.5)">390p</text>
<text x="342.77" y="465.2" font-size="5.2" font-weight="bold" text-anchor="middle" fill="#111" stroke="#111" stroke-width="0.28" font-family="Liberation Sans" textLength="6.6" lengthAdjust="spacingAndGlyphs" transform="rotate(-90 342.77 465.2)">CH</text>
<rect x="342.5" y="493.4" width="6.2" height="1.3" fill="#222"/>
<path d="M343.3 494.5L347.9 494.5L345.6 496.4Z" fill="#333"/>
<circle cx="377.5" cy="452.3" r="1.25" fill="#1e1e1e"/>
<polyline points="377.5,452.3 377.5,471.5" fill="none" stroke="#1e1e1e" stroke-width="1"/>
<polyline points="377.5,474.4 377.5,493.9" fill="none" stroke="#1e1e1e" stroke-width="1"/>
<rect x="375" y="470.75" width="5" height="1.5" fill="#1e1e1e"/>
<rect x="375" y="473.65" width="5" height="1.5" fill="#1e1e1e"/>
<text x="365.16" y="472.7" font-size="4.6" font-weight="bold" text-anchor="middle" fill="#111" stroke="#111" stroke-width="0.28" font-family="Liberation Sans" textLength="15.5" lengthAdjust="spacingAndGlyphs" transform="rotate(-90 365.16 472.7)">C2629</text>
<text x="369.76" y="472.5" font-size="4.6" font-weight="bold" text-anchor="middle" fill="#111" stroke="#111" stroke-width="0.28" font-family="Liberation Sans" textLength="11.6" lengthAdjust="spacingAndGlyphs" transform="rotate(-90 369.76 472.5)">390p</text>
<text x="374.67" y="465.2" font-size="5.2" font-weight="bold" text-anchor="middle" fill="#111" stroke="#111" stroke-width="0.28" font-family="Liberation Sans" textLength="6.6" lengthAdjust="spacingAndGlyphs" transform="rotate(-90 374.67 465.2)">CH</text>
<rect x="374.4" y="493.4" width="6.2" height="1.3" fill="#222"/>
<path d="M375.2 494.5L379.8 494.5L377.5 496.4Z" fill="#333"/>
<circle cx="409.5" cy="452.3" r="1.25" fill="#1e1e1e"/>
<polyline points="409.5,452.3 409.5,471.5" fill="none" stroke="#1e1e1e" stroke-width="1"/>
<polyline points="409.5,474.4 409.5,493.9" fill="none" stroke="#1e1e1e" stroke-width="1"/>
<rect x="407" y="470.75" width="5" height="1.5" fill="#1e1e1e"/>
<rect x="407" y="473.65" width="5" height="1.5" fill="#1e1e1e"/>
<text x="397.16" y="472.7" font-size="4.6" font-weight="bold" text-anchor="middle" fill="#111" stroke="#111" stroke-width="0.28" font-family="Liberation Sans" textLength="15.5" lengthAdjust="spacingAndGlyphs" transform="rotate(-90 397.16 472.7)">C2635</text>
<text x="401.76" y="472.5" font-size="4.6" font-weight="bold" text-anchor="middle" fill="#111" stroke="#111" stroke-width="0.28" font-family="Liberation Sans" textLength="11.6" lengthAdjust="spacingAndGlyphs" transform="rotate(-90 401.76 472.5)">220p</text>
<text x="406.67" y="465.2" font-size="5.2" font-weight="bold" text-anchor="middle" fill="#111" stroke="#111" stroke-width="0.28" font-family="Liberation Sans" textLength="6.6" lengthAdjust="spacingAndGlyphs" transform="rotate(-90 406.67 465.2)">CH</text>
<rect x="406.4" y="493.4" width="6.2" height="1.3" fill="#222"/>
<path d="M407.2 494.5L411.8 494.5L409.5 496.4Z" fill="#333"/>
<rect x="323.8" y="451.1" width="12" height="2.4" fill="#fff"/>
<polyline points="323,452.3 324.8,450.4 334.8,450.4 336.6,452.3" fill="none" stroke="#1e1e1e" stroke-width="1"/>
<rect x="326.45" y="450.1" width="1.5" height="4.2" rx="0.5" fill="#1e1e1e"/>
<rect x="329.25" y="450.1" width="1.5" height="4.2" rx="0.5" fill="#1e1e1e"/>
<rect x="332.05" y="450.1" width="1.5" height="4.2" rx="0.5" fill="#1e1e1e"/>
<text x="329.8" y="444.16" font-size="4.6" font-weight="bold" text-anchor="middle" fill="#111" stroke="#111" stroke-width="0.28" font-family="Liberation Sans" textLength="15" lengthAdjust="spacingAndGlyphs">L2605</text>
<text x="329.8" y="449.16" font-size="4.6" font-weight="bold" text-anchor="middle" fill="#111" stroke="#111" stroke-width="0.28" font-family="Liberation Sans" textLength="11.2" lengthAdjust="spacingAndGlyphs">1.8u</text>
<rect x="355.6" y="451.1" width="12" height="2.4" fill="#fff"/>
<polyline points="354.8,452.3 356.6,450.4 366.6,450.4 368.4,452.3" fill="none" stroke="#1e1e1e" stroke-width="1"/>
<rect x="358.25" y="450.1" width="1.5" height="4.2" rx="0.5" fill="#1e1e1e"/>
<rect x="361.05" y="450.1" width="1.5" height="4.2" rx="0.5" fill="#1e1e1e"/>
<rect x="363.85" y="450.1" width="1.5" height="4.2" rx="0.5" fill="#1e1e1e"/>
<text x="361.6" y="444.16" font-size="4.6" font-weight="bold" text-anchor="middle" fill="#111" stroke="#111" stroke-width="0.28" font-family="Liberation Sans" textLength="15" lengthAdjust="spacingAndGlyphs">L2611</text>
<text x="361.6" y="449.16" font-size="4.6" font-weight="bold" text-anchor="middle" fill="#111" stroke="#111" stroke-width="0.28" font-family="Liberation Sans" textLength="11.2" lengthAdjust="spacingAndGlyphs">2.7u</text>
<rect x="387.6" y="451.1" width="12" height="2.4" fill="#fff"/>
<polyline points="386.8,452.3 388.6,450.4 398.6,450.4 400.4,452.3" fill="none" stroke="#1e1e1e" stroke-width="1"/>
<rect x="390.25" y="450.1" width="1.5" height="4.2" rx="0.5" fill="#1e1e1e"/>
<rect x="393.05" y="450.1" width="1.5" height="4.2" rx="0.5" fill="#1e1e1e"/>
<rect x="395.85" y="450.1" width="1.5" height="4.2" rx="0.5" fill="#1e1e1e"/>
<text x="393.6" y="444.16" font-size="4.6" font-weight="bold" text-anchor="middle" fill="#111" stroke="#111" stroke-width="0.28" font-family="Liberation Sans" textLength="15" lengthAdjust="spacingAndGlyphs">L2617</text>
<text x="393.6" y="449.16" font-size="4.6" font-weight="bold" text-anchor="middle" fill="#111" stroke="#111" stroke-width="0.28" font-family="Liberation Sans" textLength="11.2" lengthAdjust="spacingAndGlyphs">1.8u</text>
<circle cx="427.6" cy="452.3" r="1.25" fill="#1e1e1e"/>
<polyline points="427.6,452.3 427.6,493.9" fill="none" stroke="#1e1e1e" stroke-width="1"/>
<rect x="426.4" y="466.4" width="2.4" height="12" fill="#fff"/>
<polyline points="427.6,465.2 425.5,467.2 425.5,477.6 427.6,479.6" fill="none" stroke="#1e1e1e" stroke-width="1"/>
<rect x="425.4" y="469.55" width="4.4" height="1.3" rx="0.5" fill="#1e1e1e"/>
<rect x="425.4" y="471.75" width="4.4" height="1.3" rx="0.5" fill="#1e1e1e"/>
<rect x="425.4" y="473.95" width="4.4" height="1.3" rx="0.5" fill="#1e1e1e"/>
<rect x="424.5" y="493.4" width="6.2" height="1.3" fill="#222"/>
<path d="M425.3 494.5L429.9 494.5L427.6 496.4Z" fill="#333"/>
<text x="419.76" y="472.8" font-size="4.6" font-weight="bold" text-anchor="middle" fill="#111" stroke="#111" stroke-width="0.28" font-family="Liberation Sans" textLength="14.5" lengthAdjust="spacingAndGlyphs" transform="rotate(-90 419.76 472.8)">L2623</text>
<text x="424.26" y="472.8" font-size="4.6" font-weight="bold" text-anchor="middle" fill="#111" stroke="#111" stroke-width="0.28" font-family="Liberation Sans" textLength="11.2" lengthAdjust="spacingAndGlyphs" transform="rotate(-90 424.26 472.8)">4.7u</text>
<circle cx="459.9" cy="452.3" r="1.25" fill="#1e1e1e"/>
<polyline points="459.9,452.3 459.9,493.9" fill="none" stroke="#1e1e1e" stroke-width="1"/>
<rect x="458.7" y="466.4" width="2.4" height="12" fill="#fff"/>
<polyline points="459.9,465.2 457.8,467.2 457.8,477.6 459.9,479.6" fill="none" stroke="#1e1e1e" stroke-width="1"/>
<rect x="457.7" y="469.55" width="4.4" height="1.3" rx="0.5" fill="#1e1e1e"/>
<rect x="457.7" y="471.75" width="4.4" height="1.3" rx="0.5" fill="#1e1e1e"/>
<rect x="457.7" y="473.95" width="4.4" height="1.3" rx="0.5" fill="#1e1e1e"/>
<rect x="456.8" y="493.4" width="6.2" height="1.3" fill="#222"/>
<path d="M457.6 494.5L462.2 494.5L459.9 496.4Z" fill="#333"/>
<text x="452.06" y="472.8" font-size="4.6" font-weight="bold" text-anchor="middle" fill="#111" stroke="#111" stroke-width="0.28" font-family="Liberation Sans" textLength="14.5" lengthAdjust="spacingAndGlyphs" transform="rotate(-90 452.06 472.8)">L2629</text>
<text x="456.56" y="472.8" font-size="4.6" font-weight="bold" text-anchor="middle" fill="#111" stroke="#111" stroke-width="0.28" font-family="Liberation Sans" textLength="11.2" lengthAdjust="spacingAndGlyphs" transform="rotate(-90 456.56 472.8)">4.7u</text>
<circle cx="492" cy="452.3" r="1.25" fill="#1e1e1e"/>
<polyline points="492,452.3 492,493.9" fill="none" stroke="#1e1e1e" stroke-width="1"/>
<rect x="490.8" y="466.4" width="2.4" height="12" fill="#fff"/>
<polyline points="492,465.2 489.9,467.2 489.9,477.6 492,479.6" fill="none" stroke="#1e1e1e" stroke-width="1"/>
<rect x="489.8" y="469.55" width="4.4" height="1.3" rx="0.5" fill="#1e1e1e"/>
<rect x="489.8" y="471.75" width="4.4" height="1.3" rx="0.5" fill="#1e1e1e"/>
<rect x="489.8" y="473.95" width="4.4" height="1.3" rx="0.5" fill="#1e1e1e"/>
<rect x="488.9" y="493.4" width="6.2" height="1.3" fill="#222"/>
<path d="M489.7 494.5L494.3 494.5L492 496.4Z" fill="#333"/>
<text x="484.16" y="472.8" font-size="4.6" font-weight="bold" text-anchor="middle" fill="#111" stroke="#111" stroke-width="0.28" font-family="Liberation Sans" textLength="14.5" lengthAdjust="spacingAndGlyphs" transform="rotate(-90 484.16 472.8)">L2635</text>
<text x="488.66" y="472.8" font-size="4.6" font-weight="bold" text-anchor="middle" fill="#111" stroke="#111" stroke-width="0.28" font-family="Liberation Sans" textLength="11.2" lengthAdjust="spacingAndGlyphs" transform="rotate(-90 488.66 472.8)">4.7u</text>
<circle cx="524.1" cy="452.3" r="1.25" fill="#1e1e1e"/>
<polyline points="524.1,452.3 524.1,493.9" fill="none" stroke="#1e1e1e" stroke-width="1"/>
<rect x="522.9" y="466.4" width="2.4" height="12" fill="#fff"/>
<polyline points="524.1,465.2 522,467.2 522,477.6 524.1,479.6" fill="none" stroke="#1e1e1e" stroke-width="1"/>
<rect x="521.9" y="469.55" width="4.4" height="1.3" rx="0.5" fill="#1e1e1e"/>
<rect x="521.9" y="471.75" width="4.4" height="1.3" rx="0.5" fill="#1e1e1e"/>
<rect x="521.9" y="473.95" width="4.4" height="1.3" rx="0.5" fill="#1e1e1e"/>
<rect x="521" y="493.4" width="6.2" height="1.3" fill="#222"/>
<path d="M521.8 494.5L526.4 494.5L524.1 496.4Z" fill="#333"/>
<text x="516.26" y="472.8" font-size="4.6" font-weight="bold" text-anchor="middle" fill="#111" stroke="#111" stroke-width="0.28" font-family="Liberation Sans" textLength="14.5" lengthAdjust="spacingAndGlyphs" transform="rotate(-90 516.26 472.8)">L2641</text>
<text x="520.76" y="472.8" font-size="4.6" font-weight="bold" text-anchor="middle" fill="#111" stroke="#111" stroke-width="0.28" font-family="Liberation Sans" textLength="11.2" lengthAdjust="spacingAndGlyphs" transform="rotate(-90 520.76 472.8)">4.7u</text>
<rect x="442.7" y="451.3" width="2.4" height="2" fill="#fff"/>
<rect x="441.85" y="450" width="1.1" height="4.6" fill="#1e1e1e"/>
<rect x="444.85" y="450" width="1.1" height="4.6" fill="#1e1e1e"/>
<text x="443.5" y="439.86" font-size="4.6" font-weight="bold" text-anchor="middle" fill="#111" stroke="#111" stroke-width="0.28" font-family="Liberation Sans" textLength="15.5" lengthAdjust="spacingAndGlyphs">C2641</text>
<text x="443.5" y="444.46" font-size="4.6" font-weight="bold" text-anchor="middle" fill="#111" stroke="#111" stroke-width="0.28" font-family="Liberation Sans" textLength="12" lengthAdjust="spacingAndGlyphs">560p</text>
<text x="451.4" y="448.86" font-size="4.6" font-weight="bold" text-anchor="middle" fill="#111" stroke="#111" stroke-width="0.28" font-family="Liberation Sans" textLength="6" lengthAdjust="spacingAndGlyphs">CH</text>
<text x="437.5" y="448.86" font-size="4.6" font-weight="bold" text-anchor="middle" fill="#111" stroke="#111" stroke-width="0.28" font-family="Liberation Sans" textLength="9" lengthAdjust="spacingAndGlyphs">25V</text>
<rect x="474.8" y="451.3" width="2.4" height="2" fill="#fff"/>
<rect x="473.95" y="450" width="1.1" height="4.6" fill="#1e1e1e"/>
<rect x="476.95" y="450" width="1.1" height="4.6" fill="#1e1e1e"/>
<text x="475.6" y="439.86" font-size="4.6" font-weight="bold" text-anchor="middle" fill="#111" stroke="#111" stroke-width="0.28" font-family="Liberation Sans" textLength="15.5" lengthAdjust="spacingAndGlyphs">C2648</text>
<text x="475.6" y="444.46" font-size="4.6" font-weight="bold" text-anchor="middle" fill="#111" stroke="#111" stroke-width="0.28" font-family="Liberation Sans" textLength="12" lengthAdjust="spacingAndGlyphs">680p</text>
<text x="483.5" y="448.86" font-size="4.6" font-weight="bold" text-anchor="middle" fill="#111" stroke="#111" stroke-width="0.28" font-family="Liberation Sans" textLength="6" lengthAdjust="spacingAndGlyphs">CH</text>
<text x="469.6" y="448.86" font-size="4.6" font-weight="bold" text-anchor="middle" fill="#111" stroke="#111" stroke-width="0.28" font-family="Liberation Sans" textLength="9" lengthAdjust="spacingAndGlyphs">25V</text>
<rect x="506.8" y="451.3" width="2.4" height="2" fill="#fff"/>
<rect x="505.95" y="450" width="1.1" height="4.6" fill="#1e1e1e"/>
<rect x="508.95" y="450" width="1.1" height="4.6" fill="#1e1e1e"/>
<text x="507.6" y="439.86" font-size="4.6" font-weight="bold" text-anchor="middle" fill="#111" stroke="#111" stroke-width="0.28" font-family="Liberation Sans" textLength="15.5" lengthAdjust="spacingAndGlyphs">C2654</text>
<text x="507.6" y="444.46" font-size="4.6" font-weight="bold" text-anchor="middle" fill="#111" stroke="#111" stroke-width="0.28" font-family="Liberation Sans" textLength="12" lengthAdjust="spacingAndGlyphs">560p</text>
<text x="515.5" y="448.86" font-size="4.6" font-weight="bold" text-anchor="middle" fill="#111" stroke="#111" stroke-width="0.28" font-family="Liberation Sans" textLength="6" lengthAdjust="spacingAndGlyphs">CH</text>
<text x="501.6" y="448.86" font-size="4.6" font-weight="bold" text-anchor="middle" fill="#111" stroke="#111" stroke-width="0.28" font-family="Liberation Sans" textLength="9" lengthAdjust="spacingAndGlyphs">25V</text>
<polyline points="427.6,429.2 427.6,452.3" fill="none" stroke="#1e1e1e" stroke-width="1"/>
<polyline points="427.6,429.2 614.5,429.2" fill="none" stroke="#1e1e1e" stroke-width="1"/>
<circle cx="459.9" cy="429.2" r="1.25" fill="#1e1e1e"/>
<polyline points="459.9,429.2 459.9,452.3" fill="none" stroke="#1e1e1e" stroke-width="1"/>
<circle cx="492" cy="429.2" r="1.25" fill="#1e1e1e"/>
<polyline points="492,429.2 492,452.3" fill="none" stroke="#1e1e1e" stroke-width="1"/>
<circle cx="524.1" cy="429.2" r="1.25" fill="#1e1e1e"/>
<polyline points="524.1,429.2 524.1,452.3" fill="none" stroke="#1e1e1e" stroke-width="1"/>
<rect x="442.7" y="428.2" width="2.4" height="2" fill="#fff"/>
<rect x="441.85" y="426.9" width="1.1" height="4.6" fill="#1e1e1e"/>
<rect x="444.85" y="426.9" width="1.1" height="4.6" fill="#1e1e1e"/>
<text x="443.5" y="417.26" font-size="4.6" font-weight="bold" text-anchor="middle" fill="#111" stroke="#111" stroke-width="0.28" font-family="Liberation Sans" textLength="15.5" lengthAdjust="spacingAndGlyphs">C2666</text>
<text x="443.5" y="421.56" font-size="4.6" font-weight="bold" text-anchor="middle" fill="#111" stroke="#111" stroke-width="0.28" font-family="Liberation Sans" textLength="12" lengthAdjust="spacingAndGlyphs">470p</text>
<text x="451.7" y="425.86" font-size="4.6" font-weight="bold" text-anchor="middle" fill="#111" stroke="#111" stroke-width="0.28" font-family="Liberation Sans" textLength="6" lengthAdjust="spacingAndGlyphs">CH</text>
<rect x="474.8" y="428.2" width="2.4" height="2" fill="#fff"/>
<rect x="473.95" y="426.9" width="1.1" height="4.6" fill="#1e1e1e"/>
<rect x="476.95" y="426.9" width="1.1" height="4.6" fill="#1e1e1e"/>
<text x="475.6" y="417.26" font-size="4.6" font-weight="bold" text-anchor="middle" fill="#111" stroke="#111" stroke-width="0.28" font-family="Liberation Sans" textLength="15.5" lengthAdjust="spacingAndGlyphs">C2671</text>
<text x="475.6" y="421.56" font-size="4.6" font-weight="bold" text-anchor="middle" fill="#111" stroke="#111" stroke-width="0.28" font-family="Liberation Sans" textLength="9" lengthAdjust="spacingAndGlyphs">***</text>
<rect x="506.8" y="428.2" width="2.4" height="2" fill="#fff"/>
<rect x="505.95" y="426.9" width="1.1" height="4.6" fill="#1e1e1e"/>
<rect x="508.95" y="426.9" width="1.1" height="4.6" fill="#1e1e1e"/>
<text x="507.6" y="417.26" font-size="4.6" font-weight="bold" text-anchor="middle" fill="#111" stroke="#111" stroke-width="0.28" font-family="Liberation Sans" textLength="15.5" lengthAdjust="spacingAndGlyphs">C2667</text>
<text x="507.6" y="421.56" font-size="4.6" font-weight="bold" text-anchor="middle" fill="#111" stroke="#111" stroke-width="0.28" font-family="Liberation Sans" textLength="12" lengthAdjust="spacingAndGlyphs">470p</text>
<text x="515.8" y="425.86" font-size="4.6" font-weight="bold" text-anchor="middle" fill="#111" stroke="#111" stroke-width="0.28" font-family="Liberation Sans" textLength="6" lengthAdjust="spacingAndGlyphs">CH</text>
<rect x="340.6" y="429.3" width="73.2" height="9.4" fill="#fff" stroke="#3a3a3a" stroke-width="1"/>
<text x="342.3" y="436.6" font-size="7.7" font-weight="normal" text-anchor="start" fill="#2a2a2a" font-family="Liberation Mono" textLength="68.55" lengthAdjust="spacingAndGlyphs">B5:3.4 - 4.7MHz</text>
<polyline points="571.6,445.2 571.6,484" fill="none" stroke="#000" stroke-width="1.1" stroke-dasharray="2.8,1.8"/>
<polyline points="631,445.2 631,484" fill="none" stroke="#000" stroke-width="1.1" stroke-dasharray="2.8,1.8"/>
<polyline points="571.6,445.2 631,445.2" fill="none" stroke="#000" stroke-width="1.1" stroke-dasharray="2.8,1.8"/>
<polyline points="571.6,488 631,488" fill="none" stroke="#000" stroke-width="1.2" stroke-dasharray="2.8,1.8"/>
<polyline points="571.6,484 571.6,488" fill="none" stroke="#000" stroke-width="1.1"/>
<polyline points="631,484 631,488" fill="none" stroke="#000" stroke-width="1.1"/>
<polyline points="578.1,445.2 578.1,463.4" fill="none" stroke="#1e1e1e" stroke-width="1"/>
<polyline points="587.2,445.2 587.2,463.9" fill="none" stroke="#1e1e1e" stroke-width="1"/>
<polyline points="596.3,445.2 596.3,463.4" fill="none" stroke="#1e1e1e" stroke-width="1"/>
<path d="M578.1 457L578.1 463.4L587.2 460.2Z" fill="none" stroke="#1e1e1e" stroke-width="0.8"/>
<path d="M596.3 457L596.3 463.4L587.2 460.2Z" fill="#1e1e1e"/>
<polyline points="605.4,445.2 605.4,463.4" fill="none" stroke="#1e1e1e" stroke-width="1"/>
<polyline points="614.5,445.2 614.5,463.9" fill="none" stroke="#1e1e1e" stroke-width="1"/>
<polyline points="623.6,445.2 623.6,463.4" fill="none" stroke="#1e1e1e" stroke-width="1"/>
<path d="M605.4 457L605.4 463.4L614.5 460.2Z" fill="none" stroke="#1e1e1e" stroke-width="0.8"/>
<path d="M623.6 457L623.6 463.4L614.5 460.2Z" fill="#1e1e1e"/>
<circle cx="578.1" cy="445.2" r="2.25" fill="#a8a8a8" stroke="#1e1e1e" stroke-width="0.9"/>
<path d="M577.5 443.8L579.3 445.8" stroke="#333" stroke-width="0.8"/>
<circle cx="587.2" cy="445.2" r="2.25" fill="#a8a8a8" stroke="#1e1e1e" stroke-width="0.9"/>
<path d="M586.6 443.8L588.4 445.8" stroke="#333" stroke-width="0.8"/>
<circle cx="596.3" cy="445.2" r="2.25" fill="#a8a8a8" stroke="#1e1e1e" stroke-width="0.9"/>
<path d="M595.7 443.8L597.5 445.8" stroke="#333" stroke-width="0.8"/>
<circle cx="605.4" cy="445.2" r="2.25" fill="#a8a8a8" stroke="#1e1e1e" stroke-width="0.9"/>
<path d="M604.8 443.8L606.6 445.8" stroke="#333" stroke-width="0.8"/>
<circle cx="614.5" cy="445.2" r="2.25" fill="#a8a8a8" stroke="#1e1e1e" stroke-width="0.9"/>
<path d="M613.9 443.8L615.7 445.8" stroke="#333" stroke-width="0.8"/>
<circle cx="623.6" cy="445.2" r="2.25" fill="#a8a8a8" stroke="#1e1e1e" stroke-width="0.9"/>
<path d="M623 443.8L624.8 445.8" stroke="#333" stroke-width="0.8"/>
<polyline points="571.6,484 593.2,484 593.2,474.5" fill="none" stroke="#1e1e1e" stroke-width="1"/>
<path d="M593.2 474.5Q593.2 472.6 595.2 472.6" fill="none" stroke="#1e1e1e" stroke-width="1"/>
<polyline points="595.2,472.6 607.5,472.6" fill="none" stroke="#1e1e1e" stroke-width="1"/>
<path d="M607.5 472.6Q609.5 472.6 609.5 474.5" fill="none" stroke="#1e1e1e" stroke-width="1"/>
<polyline points="609.5,474.5 609.5,484 631,484" fill="none" stroke="#1e1e1e" stroke-width="1"/>
<polyline points="590.8,469 611.9,469" fill="none" stroke="#555" stroke-width="1"/>
<ellipse cx="599.15" cy="475.4" rx="1.5" ry="2.2" fill="none" stroke="#1e1e1e" stroke-width="0.8"/>
<ellipse cx="603.55" cy="475.4" rx="1.5" ry="2.2" fill="none" stroke="#1e1e1e" stroke-width="0.8"/>
<polyline points="621.8,479.8 627,479.8" fill="none" stroke="#222" stroke-width="0.9"/>
<polyline points="624.4,477.2 624.4,482.4" fill="none" stroke="#222" stroke-width="0.9"/>
<polyline points="578.6,483 578.6,478.5" fill="none" stroke="#333" stroke-width="1"/>
<circle cx="571.6" cy="484" r="2.3" fill="#7a7a7a" stroke="#1e1e1e" stroke-width="0.9"/>
<circle cx="631" cy="484" r="2.3" fill="#f4f4f4" stroke="#1e1e1e" stroke-width="0.9"/>
<polyline points="629.6,484 632.4,484" fill="none" stroke="#555" stroke-width="0.7"/>
<polyline points="605.4,445.2 605.4,438.5 542,438.5" fill="none" stroke="#1e1e1e" stroke-width="1"/>
<circle cx="542" cy="438.5" r="1.25" fill="#1e1e1e"/>
<polyline points="614.5,445.2 614.5,429.2" fill="none" stroke="#1e1e1e" stroke-width="1"/>
<polyline points="623.6,445.2 623.6,438.5 641.8,438.5 641.8,451.7" fill="none" stroke="#1e1e1e" stroke-width="1"/>
<rect x="638.7" y="452.2" width="6.2" height="1.3" fill="#222"/>
<path d="M639.5 453.3L644.1 453.3L641.8 455.2Z" fill="#333"/>
<polyline points="571.6,484 560.3,484 560.3,493.5" fill="none" stroke="#1e1e1e" stroke-width="1"/>
<rect x="557.2" y="493.3" width="6.2" height="1.3" fill="#222"/>
<path d="M558 494.4L562.6 494.4L560.3 496.3Z" fill="#333"/>
<text x="571.1" y="466.4" font-size="5" font-weight="bold" text-anchor="middle" fill="#111" stroke="#111" stroke-width="0.1" font-family="Liberation Sans" textLength="16" lengthAdjust="spacingAndGlyphs" transform="rotate(-90 571.1 466.4)">DC12V</text>
<text x="638.16" y="465.6" font-size="4.6" font-weight="bold" text-anchor="middle" fill="#111" stroke="#111" stroke-width="0.28" font-family="Liberation Sans" textLength="23.6" lengthAdjust="spacingAndGlyphs" transform="rotate(-90 638.16 465.6)">G6K-2F-Y</text>
<text x="642.56" y="465.6" font-size="4.6" font-weight="bold" text-anchor="middle" fill="#111" stroke="#111" stroke-width="0.28" font-family="Liberation Sans" textLength="17.4" lengthAdjust="spacingAndGlyphs" transform="rotate(-90 642.56 465.6)">RL2611</text>
<polyline points="631,484 698.2,484 702,488" fill="none" stroke="#1e1e1e" stroke-width="1"/>
<circle cx="642.6" cy="484" r="1.25" fill="#1e1e1e"/>
<polyline points="642.6,484 642.6,508" fill="none" stroke="#555" stroke-width="1"/>
<path d="M639.8 497.55L645.4 497.55L642.6 493.45Z" fill="#1e1e1e"/>
<polyline points="640.2,493.45 645,493.45" fill="none" stroke="#1e1e1e" stroke-width="1.1"/>
<rect x="639.5" y="507.5" width="6.2" height="1.3" fill="#222"/>
<path d="M640.3 508.6L644.9 508.6L642.6 510.5Z" fill="#333"/>
<text x="638.86" y="496.4" font-size="4.6" font-weight="bold" text-anchor="middle" fill="#111" stroke="#111" stroke-width="0.28" font-family="Liberation Sans" textLength="14.5" lengthAdjust="spacingAndGlyphs" transform="rotate(-90 638.86 496.4)">D2611</text>
<text x="649.66" y="494.8" font-size="4.6" font-weight="bold" text-anchor="middle" fill="#111" stroke="#111" stroke-width="0.28" font-family="Liberation Sans" textLength="18.6" lengthAdjust="spacingAndGlyphs" transform="rotate(-90 649.66 494.8)">BAS316</text>
<circle cx="661" cy="484" r="1.25" fill="#1e1e1e"/>
<polyline points="661,484 661,494.1" fill="none" stroke="#1e1e1e" stroke-width="1"/>
<polyline points="661,496.9 661,508" fill="none" stroke="#1e1e1e" stroke-width="1"/>
<rect x="658.4" y="493.35" width="5.2" height="1.5" fill="#1e1e1e"/>
<rect x="658.4" y="496.15" width="5.2" height="1.5" fill="#1e1e1e"/>
<rect x="657.9" y="507.5" width="6.2" height="1.3" fill="#222"/>
<path d="M658.7 508.6L663.3 508.6L661 510.5Z" fill="#333"/>
<text x="656.56" y="496" font-size="4.6" font-weight="bold" text-anchor="middle" fill="#111" stroke="#111" stroke-width="0.28" font-family="Liberation Sans" textLength="15.5" lengthAdjust="spacingAndGlyphs" transform="rotate(-90 656.56 496)">C2621</text>
<text x="668.66" y="496.6" font-size="4.6" font-weight="bold" text-anchor="middle" fill="#111" stroke="#111" stroke-width="0.28" font-family="Liberation Sans" textLength="12.4" lengthAdjust="spacingAndGlyphs" transform="rotate(-90 668.66 496.6)">0.01</text>
<text x="667.66" y="488.6" font-size="4.6" font-weight="bold" text-anchor="middle" fill="#111" stroke="#111" stroke-width="0.28" font-family="Liberation Sans" textLength="3.1" lengthAdjust="spacingAndGlyphs" transform="rotate(-90 667.66 488.6)">B</text>
<rect x="673" y="483" width="8" height="2" fill="#fff"/>
<polyline points="672.8,484 673.5,482 674.9,486 676.3,482 677.7,486 679.1,482 680.5,486 681.2,484" fill="none" stroke="#1e1e1e" stroke-width="1"/>
<text x="677" y="476.66" font-size="4.6" font-weight="bold" text-anchor="middle" fill="#111" stroke="#111" stroke-width="0.28" font-family="Liberation Sans" textLength="15.5" lengthAdjust="spacingAndGlyphs">R2611</text>
<text x="677.4" y="481.26" font-size="4.6" font-weight="bold" text-anchor="middle" fill="#111" stroke="#111" stroke-width="0.28" font-family="Liberation Sans" textLength="8.1" lengthAdjust="spacingAndGlyphs">100</text>
<text x="693.9" y="482.07" font-size="5.2" font-weight="bold" text-anchor="middle" fill="#111" stroke="#111" stroke-width="0.28" font-family="Liberation Sans" textLength="5.8" lengthAdjust="spacingAndGlyphs">B5</text>
<polyline points="135.7,574.7 139.5,570.7 206.7,570.7" fill="none" stroke="#1e1e1e" stroke-width="1"/>
<text x="143.4" y="569.07" font-size="5.2" font-weight="bold" text-anchor="middle" fill="#111" stroke="#111" stroke-width="0.28" font-family="Liberation Sans" textLength="5.8" lengthAdjust="spacingAndGlyphs">B3</text>
<circle cx="153.9" cy="570.7" r="1.25" fill="#1e1e1e"/>
<polyline points="153.8,570.7 153.8,580.8" fill="none" stroke="#1e1e1e" stroke-width="1"/>
<polyline points="153.8,583.6 153.8,594.7" fill="none" stroke="#1e1e1e" stroke-width="1"/>
<rect x="151.1" y="580.05" width="5.4" height="1.5" fill="#1e1e1e"/>
<path d="M151.1 584.6Q153.8 583 156.5 584.6" fill="none" stroke="#1e1e1e" stroke-width="1.2"/>
<rect x="150.8" y="594.2" width="6.2" height="1.3" fill="#222"/>
<path d="M151.6 595.3L156.2 595.3L153.9 597.2Z" fill="#333"/>
<text x="141.86" y="582.3" font-size="4.6" font-weight="bold" text-anchor="middle" fill="#111" stroke="#111" stroke-width="0.28" font-family="Liberation Sans" textLength="15.5" lengthAdjust="spacingAndGlyphs" transform="rotate(-90 141.86 582.3)">C2616</text>
<text x="146.06" y="582.1" font-size="4.6" font-weight="bold" text-anchor="middle" fill="#111" stroke="#111" stroke-width="0.28" font-family="Liberation Sans" textLength="8.4" lengthAdjust="spacingAndGlyphs" transform="rotate(-90 146.06 582.1)">2.2</text>
<text x="150.86" y="585.7" font-size="4.6" font-weight="bold" text-anchor="middle" fill="#111" stroke="#111" stroke-width="0.28" font-family="Liberation Sans" textLength="8.7" lengthAdjust="spacingAndGlyphs" transform="rotate(-90 150.86 585.7)">16V</text>
<text x="151.16" y="575.9" font-size="4.6" font-weight="bold" text-anchor="middle" fill="#111" stroke="#111" stroke-width="0.28" font-family="Liberation Sans" textLength="3.1" lengthAdjust="spacingAndGlyphs" transform="rotate(-90 151.16 575.9)">B</text>
<rect x="161.2" y="569.7" width="8" height="2" fill="#fff"/>
<polyline points="161,570.7 161.7,568.7 163.1,572.7 164.5,568.7 165.9,572.7 167.3,568.7 168.7,572.7 169.4,570.7" fill="none" stroke="#1e1e1e" stroke-width="1"/>
<text x="165" y="563.16" font-size="4.6" font-weight="bold" text-anchor="middle" fill="#111" stroke="#111" stroke-width="0.28" font-family="Liberation Sans" textLength="15.5" lengthAdjust="spacingAndGlyphs">R2606</text>
<text x="166" y="567.96" font-size="4.6" font-weight="bold" text-anchor="middle" fill="#111" stroke="#111" stroke-width="0.28" font-family="Liberation Sans" textLength="8.1" lengthAdjust="spacingAndGlyphs">100</text>
<circle cx="176.6" cy="570.7" r="1.25" fill="#1e1e1e"/>
<polyline points="176.5,570.7 176.5,580.8" fill="none" stroke="#1e1e1e" stroke-width="1"/>
<polyline points="176.5,583.6 176.5,594.7" fill="none" stroke="#1e1e1e" stroke-width="1"/>
<rect x="173.9" y="580.05" width="5.2" height="1.5" fill="#1e1e1e"/>
<rect x="173.9" y="582.85" width="5.2" height="1.5" fill="#1e1e1e"/>
<rect x="173.5" y="594.2" width="6.2" height="1.3" fill="#222"/>
<path d="M174.3 595.3L178.9 595.3L176.6 597.2Z" fill="#333"/>
<text x="163.96" y="582.1" font-size="4.6" font-weight="bold" text-anchor="middle" fill="#111" stroke="#111" stroke-width="0.28" font-family="Liberation Sans" textLength="15.5" lengthAdjust="spacingAndGlyphs" transform="rotate(-90 163.96 582.1)">C2612</text>
<text x="168.96" y="582.1" font-size="4.6" font-weight="bold" text-anchor="middle" fill="#111" stroke="#111" stroke-width="0.28" font-family="Liberation Sans" textLength="12.4" lengthAdjust="spacingAndGlyphs" transform="rotate(-90 168.96 582.1)">0.01</text>
<text x="173.86" y="575.7" font-size="4.6" font-weight="bold" text-anchor="middle" fill="#111" stroke="#111" stroke-width="0.28" font-family="Liberation Sans" textLength="3.1" lengthAdjust="spacingAndGlyphs" transform="rotate(-90 173.86 575.7)">B</text>
<circle cx="195.1" cy="570.7" r="1.25" fill="#1e1e1e"/>
<polyline points="195,570.7 195,594.7" fill="none" stroke="#555" stroke-width="1"/>
<path d="M192.2 584.25L197.8 584.25L195 580.15Z" fill="#1e1e1e"/>
<polyline points="192.6,580.15 197.4,580.15" fill="none" stroke="#1e1e1e" stroke-width="1.1"/>
<rect x="192" y="594.2" width="6.2" height="1.3" fill="#222"/>
<path d="M192.8 595.3L197.4 595.3L195.1 597.2Z" fill="#333"/>
<text x="191.76" y="583.1" font-size="4.6" font-weight="bold" text-anchor="middle" fill="#111" stroke="#111" stroke-width="0.28" font-family="Liberation Sans" textLength="14.5" lengthAdjust="spacingAndGlyphs" transform="rotate(-90 191.76 583.1)">D2606</text>
<text x="202.56" y="581.5" font-size="4.6" font-weight="bold" text-anchor="middle" fill="#111" stroke="#111" stroke-width="0.28" font-family="Liberation Sans" textLength="18.6" lengthAdjust="spacingAndGlyphs" transform="rotate(-90 202.56 581.5)">BAS316</text>
<polyline points="206.7,531.9 206.7,570.7" fill="none" stroke="#000" stroke-width="1.1" stroke-dasharray="2.8,1.8"/>
<polyline points="266.1,531.9 266.1,570.7" fill="none" stroke="#000" stroke-width="1.1" stroke-dasharray="2.8,1.8"/>
<polyline points="206.7,531.9 266.1,531.9" fill="none" stroke="#000" stroke-width="1.1" stroke-dasharray="2.8,1.8"/>
<polyline points="206.7,574.7 266.1,574.7" fill="none" stroke="#000" stroke-width="1.2" stroke-dasharray="2.8,1.8"/>
<polyline points="206.7,570.7 206.7,574.7" fill="none" stroke="#000" stroke-width="1.1"/>
<polyline points="266.1,570.7 266.1,574.7" fill="none" stroke="#000" stroke-width="1.1"/>
<polyline points="213.2,531.9 213.2,550.1" fill="none" stroke="#1e1e1e" stroke-width="1"/>
<polyline points="222.3,531.9 222.3,550.6" fill="none" stroke="#1e1e1e" stroke-width="1"/>
<polyline points="231.4,531.9 231.4,550.1" fill="none" stroke="#1e1e1e" stroke-width="1"/>
<path d="M213.2 543.7L213.2 550.1L222.3 546.9Z" fill="#1e1e1e"/>
<path d="M231.4 543.7L231.4 550.1L222.3 546.9Z" fill="none" stroke="#1e1e1e" stroke-width="0.8"/>
<polyline points="240.5,531.9 240.5,550.1" fill="none" stroke="#1e1e1e" stroke-width="1"/>
<polyline points="249.6,531.9 249.6,550.6" fill="none" stroke="#1e1e1e" stroke-width="1"/>
<polyline points="258.7,531.9 258.7,550.1" fill="none" stroke="#1e1e1e" stroke-width="1"/>
<path d="M240.5 543.7L240.5 550.1L249.6 546.9Z" fill="#1e1e1e"/>
<path d="M258.7 543.7L258.7 550.1L249.6 546.9Z" fill="none" stroke="#1e1e1e" stroke-width="0.8"/>
<circle cx="213.2" cy="531.9" r="2.25" fill="#a8a8a8" stroke="#1e1e1e" stroke-width="0.9"/>
<path d="M212.6 530.5L214.4 532.5" stroke="#333" stroke-width="0.8"/>
<circle cx="222.3" cy="531.9" r="2.25" fill="#a8a8a8" stroke="#1e1e1e" stroke-width="0.9"/>
<path d="M221.7 530.5L223.5 532.5" stroke="#333" stroke-width="0.8"/>
<circle cx="231.4" cy="531.9" r="2.25" fill="#a8a8a8" stroke="#1e1e1e" stroke-width="0.9"/>
<path d="M230.8 530.5L232.6 532.5" stroke="#333" stroke-width="0.8"/>
<circle cx="240.5" cy="531.9" r="2.25" fill="#a8a8a8" stroke="#1e1e1e" stroke-width="0.9"/>
<path d="M239.9 530.5L241.7 532.5" stroke="#333" stroke-width="0.8"/>
<circle cx="249.6" cy="531.9" r="2.25" fill="#a8a8a8" stroke="#1e1e1e" stroke-width="0.9"/>
<path d="M249 530.5L250.8 532.5" stroke="#333" stroke-width="0.8"/>
<circle cx="258.7" cy="531.9" r="2.25" fill="#a8a8a8" stroke="#1e1e1e" stroke-width="0.9"/>
<path d="M258.1 530.5L259.9 532.5" stroke="#333" stroke-width="0.8"/>
<polyline points="206.7,570.7 228.3,570.7 228.3,561.2" fill="none" stroke="#1e1e1e" stroke-width="1"/>
<path d="M228.3 561.2Q228.3 559.3 230.3 559.3" fill="none" stroke="#1e1e1e" stroke-width="1"/>
<polyline points="230.3,559.3 242.6,559.3" fill="none" stroke="#1e1e1e" stroke-width="1"/>
<path d="M242.6 559.3Q244.6 559.3 244.6 561.2" fill="none" stroke="#1e1e1e" stroke-width="1"/>
<polyline points="244.6,561.2 244.6,570.7 266.1,570.7" fill="none" stroke="#1e1e1e" stroke-width="1"/>
<polyline points="225.9,555.7 247,555.7" fill="none" stroke="#555" stroke-width="1"/>
<ellipse cx="234.25" cy="562.1" rx="1.5" ry="2.2" fill="none" stroke="#1e1e1e" stroke-width="0.8"/>
<ellipse cx="238.65" cy="562.1" rx="1.5" ry="2.2" fill="none" stroke="#1e1e1e" stroke-width="0.8"/>
<polyline points="210.7,566.5 215.9,566.5" fill="none" stroke="#222" stroke-width="0.9"/>
<polyline points="213.3,563.9 213.3,569.1" fill="none" stroke="#222" stroke-width="0.9"/>
<polyline points="259.1,569.7 259.1,565.2" fill="none" stroke="#333" stroke-width="1"/>
<circle cx="206.7" cy="570.7" r="2.3" fill="#f4f4f4" stroke="#1e1e1e" stroke-width="0.9"/>
<polyline points="205.3,570.7 208.1,570.7" fill="none" stroke="#555" stroke-width="0.7"/>
<circle cx="266.1" cy="570.7" r="2.3" fill="#7a7a7a" stroke="#1e1e1e" stroke-width="0.9"/>
<polyline points="213.2,531.9 213.2,525.2 194.6,525.2 194.6,538.4" fill="none" stroke="#1e1e1e" stroke-width="1"/>
<rect x="191.5" y="538.9" width="6.2" height="1.3" fill="#222"/>
<path d="M192.3 540L196.9 540L194.6 541.9Z" fill="#333"/>
<polyline points="222.3,531.9 222.3,515.9 313.5,515.9" fill="none" stroke="#1e1e1e" stroke-width="1"/>
<polyline points="231.4,531.9 231.4,525.2 295.5,525.2" fill="none" stroke="#1e1e1e" stroke-width="1"/>
<polyline points="266.1,570.7 277,570.7 277,579.7" fill="none" stroke="#1e1e1e" stroke-width="1"/>
<rect x="273.9" y="579.2" width="6.2" height="1.3" fill="#222"/>
<path d="M274.7 580.3L279.3 580.3L277 582.2Z" fill="#333"/>
<text x="199.06" y="552.3" font-size="4.6" font-weight="bold" text-anchor="middle" fill="#111" stroke="#111" stroke-width="0.28" font-family="Liberation Sans" textLength="17.4" lengthAdjust="spacingAndGlyphs" transform="rotate(-90 199.06 552.3)">RL2606</text>
<text x="203.06" y="551.9" font-size="4.6" font-weight="bold" text-anchor="middle" fill="#111" stroke="#111" stroke-width="0.28" font-family="Liberation Sans" textLength="23.6" lengthAdjust="spacingAndGlyphs" transform="rotate(-90 203.06 551.9)">G6K-2F-Y</text>
<text x="271.1" y="551.9" font-size="5" font-weight="bold" text-anchor="middle" fill="#111" stroke="#111" stroke-width="0.1" font-family="Liberation Sans" textLength="17" lengthAdjust="spacingAndGlyphs" transform="rotate(-90 271.1 551.9)">DC12V</text>
<polyline points="313.5,515.9 313.5,539" fill="none" stroke="#1e1e1e" stroke-width="1"/>
<circle cx="313.5" cy="539" r="1.25" fill="#1e1e1e"/>
<polyline points="313.5,539 524.1,539" fill="none" stroke="#1e1e1e" stroke-width="1"/>
<polyline points="313.5,539 313.5,558.2" fill="none" stroke="#1e1e1e" stroke-width="1"/>
<polyline points="313.5,561.1 313.5,580.6" fill="none" stroke="#1e1e1e" stroke-width="1"/>
<rect x="311" y="557.45" width="5" height="1.5" fill="#1e1e1e"/>
<rect x="311" y="560.35" width="5" height="1.5" fill="#1e1e1e"/>
<text x="307.36" y="560.3" font-size="4.6" font-weight="bold" text-anchor="middle" fill="#111" stroke="#111" stroke-width="0.28" font-family="Liberation Sans" textLength="15.5" lengthAdjust="spacingAndGlyphs" transform="rotate(-90 307.36 560.3)">C2618</text>
<text x="311.06" y="561.4" font-size="4.6" font-weight="bold" text-anchor="middle" fill="#111" stroke="#111" stroke-width="0.28" font-family="Liberation Sans" textLength="18.2" lengthAdjust="spacingAndGlyphs" transform="rotate(-90 311.06 561.4)">330p CH</text>
<rect x="310.4" y="580.1" width="6.2" height="1.3" fill="#222"/>
<path d="M311.2 581.2L315.8 581.2L313.5 583.1Z" fill="#333"/>
<circle cx="345.6" cy="539" r="1.25" fill="#1e1e1e"/>
<circle cx="345.6" cy="547.9" r="1.25" fill="#1e1e1e"/>
<circle cx="345.6" cy="570.5" r="1.25" fill="#1e1e1e"/>
<polyline points="345.6,539 345.6,547.9" fill="none" stroke="#1e1e1e" stroke-width="1"/>
<polyline points="345.6,547.9 352.2,547.9 352.2,570.5 345.6,570.5" fill="none" stroke="#1e1e1e" stroke-width="1"/>
<polyline points="345.6,547.9 345.6,558" fill="none" stroke="#1e1e1e" stroke-width="1"/>
<polyline points="345.6,560.8 345.6,570.5" fill="none" stroke="#1e1e1e" stroke-width="1"/>
<rect x="343.1" y="557.25" width="5" height="1.5" fill="#1e1e1e"/>
<rect x="343.1" y="560.05" width="5" height="1.5" fill="#1e1e1e"/>
<rect x="351.5" y="558.4" width="1.4" height="2" fill="#fff"/>
<rect x="349.7" y="557.25" width="5.0" height="1.5" fill="#1e1e1e"/>
<rect x="349.7" y="560.05" width="5.0" height="1.5" fill="#1e1e1e"/>
<polyline points="345.6,570.5 345.6,580.6" fill="none" stroke="#1e1e1e" stroke-width="1"/>
<text x="337.66" y="559.9" font-size="4.6" font-weight="bold" text-anchor="middle" fill="#111" stroke="#111" stroke-width="0.28" font-family="Liberation Sans" textLength="15.5" lengthAdjust="spacingAndGlyphs" transform="rotate(-90 337.66 559.9)">C2624</text>
<text x="342.06" y="559.9" font-size="4.6" font-weight="bold" text-anchor="middle" fill="#111" stroke="#111" stroke-width="0.28" font-family="Liberation Sans" textLength="14.5" lengthAdjust="spacingAndGlyphs" transform="rotate(-90 342.06 559.9)">0.001</text>
<text x="345.06" y="551.4" font-size="4.6" font-weight="bold" text-anchor="middle" fill="#111" stroke="#111" stroke-width="0.28" font-family="Liberation Sans" textLength="6.2" lengthAdjust="spacingAndGlyphs" transform="rotate(-90 345.06 551.4)">CH</text>
<text x="358.46" y="559.4" font-size="4.6" font-weight="bold" text-anchor="middle" fill="#111" stroke="#111" stroke-width="0.28" font-family="Liberation Sans" textLength="9.3" lengthAdjust="spacingAndGlyphs" transform="rotate(-90 358.46 559.4)">25V</text>
<text x="362.66" y="559.4" font-size="4.6" font-weight="bold" text-anchor="middle" fill="#111" stroke="#111" stroke-width="0.28" font-family="Liberation Sans" textLength="6.2" lengthAdjust="spacingAndGlyphs" transform="rotate(-90 362.66 559.4)">CH</text>
<rect x="342.5" y="580.1" width="6.2" height="1.3" fill="#222"/>
<path d="M343.3 581.2L347.9 581.2L345.6 583.1Z" fill="#333"/>
<circle cx="377.5" cy="539" r="1.25" fill="#1e1e1e"/>
<circle cx="377.5" cy="547.9" r="1.25" fill="#1e1e1e"/>
<circle cx="377.5" cy="570.5" r="1.25" fill="#1e1e1e"/>
<polyline points="377.5,539 377.5,547.9" fill="none" stroke="#1e1e1e" stroke-width="1"/>
<polyline points="377.5,547.9 384.1,547.9 384.1,570.5 377.5,570.5" fill="none" stroke="#1e1e1e" stroke-width="1"/>
<polyline points="377.5,547.9 377.5,558" fill="none" stroke="#1e1e1e" stroke-width="1"/>
<polyline points="377.5,560.8 377.5,570.5" fill="none" stroke="#1e1e1e" stroke-width="1"/>
<rect x="375" y="557.25" width="5" height="1.5" fill="#1e1e1e"/>
<rect x="375" y="560.05" width="5" height="1.5" fill="#1e1e1e"/>
<rect x="383.4" y="558.4" width="1.4" height="2" fill="#fff"/>
<rect x="381.6" y="557.25" width="5.0" height="1.5" fill="#1e1e1e"/>
<rect x="381.6" y="560.05" width="5.0" height="1.5" fill="#1e1e1e"/>
<polyline points="377.5,570.5 377.5,580.6" fill="none" stroke="#1e1e1e" stroke-width="1"/>
<text x="369.56" y="559.9" font-size="4.6" font-weight="bold" text-anchor="middle" fill="#111" stroke="#111" stroke-width="0.28" font-family="Liberation Sans" textLength="15.5" lengthAdjust="spacingAndGlyphs" transform="rotate(-90 369.56 559.9)">C2630</text>
<text x="373.96" y="559.9" font-size="4.6" font-weight="bold" text-anchor="middle" fill="#111" stroke="#111" stroke-width="0.28" font-family="Liberation Sans" textLength="14.5" lengthAdjust="spacingAndGlyphs" transform="rotate(-90 373.96 559.9)">0.001</text>
<text x="376.96" y="551.4" font-size="4.6" font-weight="bold" text-anchor="middle" fill="#111" stroke="#111" stroke-width="0.28" font-family="Liberation Sans" textLength="6.2" lengthAdjust="spacingAndGlyphs" transform="rotate(-90 376.96 551.4)">CH</text>
<text x="390.36" y="559.4" font-size="4.6" font-weight="bold" text-anchor="middle" fill="#111" stroke="#111" stroke-width="0.28" font-family="Liberation Sans" textLength="9.3" lengthAdjust="spacingAndGlyphs" transform="rotate(-90 390.36 559.4)">25V</text>
<text x="394.56" y="559.4" font-size="4.6" font-weight="bold" text-anchor="middle" fill="#111" stroke="#111" stroke-width="0.28" font-family="Liberation Sans" textLength="6.2" lengthAdjust="spacingAndGlyphs" transform="rotate(-90 394.56 559.4)">CH</text>
<rect x="374.4" y="580.1" width="6.2" height="1.3" fill="#222"/>
<path d="M375.2 581.2L379.8 581.2L377.5 583.1Z" fill="#333"/>
<circle cx="409.5" cy="539" r="1.25" fill="#1e1e1e"/>
<polyline points="409.5,539 409.5,558.2" fill="none" stroke="#1e1e1e" stroke-width="1"/>
<polyline points="409.5,561.1 409.5,580.6" fill="none" stroke="#1e1e1e" stroke-width="1"/>
<rect x="407" y="557.45" width="5" height="1.5" fill="#1e1e1e"/>
<rect x="407" y="560.35" width="5" height="1.5" fill="#1e1e1e"/>
<text x="403.36" y="560.3" font-size="4.6" font-weight="bold" text-anchor="middle" fill="#111" stroke="#111" stroke-width="0.28" font-family="Liberation Sans" textLength="15.5" lengthAdjust="spacingAndGlyphs" transform="rotate(-90 403.36 560.3)">C2636</text>
<text x="407.06" y="561.4" font-size="4.6" font-weight="bold" text-anchor="middle" fill="#111" stroke="#111" stroke-width="0.28" font-family="Liberation Sans" textLength="18.2" lengthAdjust="spacingAndGlyphs" transform="rotate(-90 407.06 561.4)">330p CH</text>
<rect x="406.4" y="580.1" width="6.2" height="1.3" fill="#222"/>
<path d="M407.2 581.2L411.8 581.2L409.5 583.1Z" fill="#333"/>
<rect x="323.8" y="537.8" width="12" height="2.4" fill="#fff"/>
<polyline points="323,539 324.8,537.1 334.8,537.1 336.6,539" fill="none" stroke="#1e1e1e" stroke-width="1"/>
<rect x="326.45" y="536.8" width="1.5" height="4.2" rx="0.5" fill="#1e1e1e"/>
<rect x="329.25" y="536.8" width="1.5" height="4.2" rx="0.5" fill="#1e1e1e"/>
<rect x="332.05" y="536.8" width="1.5" height="4.2" rx="0.5" fill="#1e1e1e"/>
<text x="329.8" y="530.86" font-size="4.6" font-weight="bold" text-anchor="middle" fill="#111" stroke="#111" stroke-width="0.28" font-family="Liberation Sans" textLength="15" lengthAdjust="spacingAndGlyphs">L2606</text>
<text x="329.8" y="535.86" font-size="4.6" font-weight="bold" text-anchor="middle" fill="#111" stroke="#111" stroke-width="0.28" font-family="Liberation Sans" textLength="11.2" lengthAdjust="spacingAndGlyphs">3.3u</text>
<rect x="355.6" y="537.8" width="12" height="2.4" fill="#fff"/>
<polyline points="354.8,539 356.6,537.1 366.6,537.1 368.4,539" fill="none" stroke="#1e1e1e" stroke-width="1"/>
<rect x="358.25" y="536.8" width="1.5" height="4.2" rx="0.5" fill="#1e1e1e"/>
<rect x="361.05" y="536.8" width="1.5" height="4.2" rx="0.5" fill="#1e1e1e"/>
<rect x="363.85" y="536.8" width="1.5" height="4.2" rx="0.5" fill="#1e1e1e"/>
<text x="361.6" y="530.86" font-size="4.6" font-weight="bold" text-anchor="middle" fill="#111" stroke="#111" stroke-width="0.28" font-family="Liberation Sans" textLength="15" lengthAdjust="spacingAndGlyphs">L2612</text>
<text x="361.6" y="535.86" font-size="4.6" font-weight="bold" text-anchor="middle" fill="#111" stroke="#111" stroke-width="0.28" font-family="Liberation Sans" textLength="11.2" lengthAdjust="spacingAndGlyphs">3.3u</text>
<rect x="387.6" y="537.8" width="12" height="2.4" fill="#fff"/>
<polyline points="386.8,539 388.6,537.1 398.6,537.1 400.4,539" fill="none" stroke="#1e1e1e" stroke-width="1"/>
<rect x="390.25" y="536.8" width="1.5" height="4.2" rx="0.5" fill="#1e1e1e"/>
<rect x="393.05" y="536.8" width="1.5" height="4.2" rx="0.5" fill="#1e1e1e"/>
<rect x="395.85" y="536.8" width="1.5" height="4.2" rx="0.5" fill="#1e1e1e"/>
<text x="393.6" y="530.86" font-size="4.6" font-weight="bold" text-anchor="middle" fill="#111" stroke="#111" stroke-width="0.28" font-family="Liberation Sans" textLength="15" lengthAdjust="spacingAndGlyphs">L2618</text>
<text x="393.6" y="535.86" font-size="4.6" font-weight="bold" text-anchor="middle" fill="#111" stroke="#111" stroke-width="0.28" font-family="Liberation Sans" textLength="11.2" lengthAdjust="spacingAndGlyphs">3.3u</text>
<circle cx="427.6" cy="539" r="1.25" fill="#1e1e1e"/>
<polyline points="427.6,539 427.6,580.6" fill="none" stroke="#1e1e1e" stroke-width="1"/>
<rect x="426.4" y="553.1" width="2.4" height="12" fill="#fff"/>
<polyline points="427.6,551.9 425.5,553.9 425.5,564.3 427.6,566.3" fill="none" stroke="#1e1e1e" stroke-width="1"/>
<rect x="425.4" y="556.25" width="4.4" height="1.3" rx="0.5" fill="#1e1e1e"/>
<rect x="425.4" y="558.45" width="4.4" height="1.3" rx="0.5" fill="#1e1e1e"/>
<rect x="425.4" y="560.65" width="4.4" height="1.3" rx="0.5" fill="#1e1e1e"/>
<rect x="424.5" y="580.1" width="6.2" height="1.3" fill="#222"/>
<path d="M425.3 581.2L429.9 581.2L427.6 583.1Z" fill="#333"/>
<text x="419.76" y="559.5" font-size="4.6" font-weight="bold" text-anchor="middle" fill="#111" stroke="#111" stroke-width="0.28" font-family="Liberation Sans" textLength="14.5" lengthAdjust="spacingAndGlyphs" transform="rotate(-90 419.76 559.5)">L2624</text>
<text x="424.26" y="559.5" font-size="4.6" font-weight="bold" text-anchor="middle" fill="#111" stroke="#111" stroke-width="0.28" font-family="Liberation Sans" textLength="11.2" lengthAdjust="spacingAndGlyphs" transform="rotate(-90 424.26 559.5)">6.8u</text>
<circle cx="459.9" cy="539" r="1.25" fill="#1e1e1e"/>
<polyline points="459.9,539 459.9,580.6" fill="none" stroke="#1e1e1e" stroke-width="1"/>
<rect x="458.7" y="553.1" width="2.4" height="12" fill="#fff"/>
<polyline points="459.9,551.9 457.8,553.9 457.8,564.3 459.9,566.3" fill="none" stroke="#1e1e1e" stroke-width="1"/>
<rect x="457.7" y="556.25" width="4.4" height="1.3" rx="0.5" fill="#1e1e1e"/>
<rect x="457.7" y="558.45" width="4.4" height="1.3" rx="0.5" fill="#1e1e1e"/>
<rect x="457.7" y="560.65" width="4.4" height="1.3" rx="0.5" fill="#1e1e1e"/>
<rect x="456.8" y="580.1" width="6.2" height="1.3" fill="#222"/>
<path d="M457.6 581.2L462.2 581.2L459.9 583.1Z" fill="#333"/>
<text x="452.06" y="559.5" font-size="4.6" font-weight="bold" text-anchor="middle" fill="#111" stroke="#111" stroke-width="0.28" font-family="Liberation Sans" textLength="14.5" lengthAdjust="spacingAndGlyphs" transform="rotate(-90 452.06 559.5)">L2630</text>
<text x="456.56" y="559.5" font-size="4.6" font-weight="bold" text-anchor="middle" fill="#111" stroke="#111" stroke-width="0.28" font-family="Liberation Sans" textLength="11.2" lengthAdjust="spacingAndGlyphs" transform="rotate(-90 456.56 559.5)">3.3u</text>
<circle cx="492" cy="539" r="1.25" fill="#1e1e1e"/>
<polyline points="492,539 492,580.6" fill="none" stroke="#1e1e1e" stroke-width="1"/>
<rect x="490.8" y="553.1" width="2.4" height="12" fill="#fff"/>
<polyline points="492,551.9 489.9,553.9 489.9,564.3 492,566.3" fill="none" stroke="#1e1e1e" stroke-width="1"/>
<rect x="489.8" y="556.25" width="4.4" height="1.3" rx="0.5" fill="#1e1e1e"/>
<rect x="489.8" y="558.45" width="4.4" height="1.3" rx="0.5" fill="#1e1e1e"/>
<rect x="489.8" y="560.65" width="4.4" height="1.3" rx="0.5" fill="#1e1e1e"/>
<rect x="488.9" y="580.1" width="6.2" height="1.3" fill="#222"/>
<path d="M489.7 581.2L494.3 581.2L492 583.1Z" fill="#333"/>
<text x="484.16" y="559.5" font-size="4.6" font-weight="bold" text-anchor="middle" fill="#111" stroke="#111" stroke-width="0.28" font-family="Liberation Sans" textLength="14.5" lengthAdjust="spacingAndGlyphs" transform="rotate(-90 484.16 559.5)">L2636</text>
<text x="488.66" y="559.5" font-size="4.6" font-weight="bold" text-anchor="middle" fill="#111" stroke="#111" stroke-width="0.28" font-family="Liberation Sans" textLength="11.2" lengthAdjust="spacingAndGlyphs" transform="rotate(-90 488.66 559.5)">3.3u</text>
<circle cx="524.1" cy="539" r="1.25" fill="#1e1e1e"/>
<polyline points="524.1,539 524.1,580.6" fill="none" stroke="#1e1e1e" stroke-width="1"/>
<rect x="522.9" y="553.1" width="2.4" height="12" fill="#fff"/>
<polyline points="524.1,551.9 522,553.9 522,564.3 524.1,566.3" fill="none" stroke="#1e1e1e" stroke-width="1"/>
<rect x="521.9" y="556.25" width="4.4" height="1.3" rx="0.5" fill="#1e1e1e"/>
<rect x="521.9" y="558.45" width="4.4" height="1.3" rx="0.5" fill="#1e1e1e"/>
<rect x="521.9" y="560.65" width="4.4" height="1.3" rx="0.5" fill="#1e1e1e"/>
<rect x="521" y="580.1" width="6.2" height="1.3" fill="#222"/>
<path d="M521.8 581.2L526.4 581.2L524.1 583.1Z" fill="#333"/>
<text x="516.26" y="559.5" font-size="4.6" font-weight="bold" text-anchor="middle" fill="#111" stroke="#111" stroke-width="0.28" font-family="Liberation Sans" textLength="14.5" lengthAdjust="spacingAndGlyphs" transform="rotate(-90 516.26 559.5)">L2642</text>
<text x="520.76" y="559.5" font-size="4.6" font-weight="bold" text-anchor="middle" fill="#111" stroke="#111" stroke-width="0.28" font-family="Liberation Sans" textLength="11.2" lengthAdjust="spacingAndGlyphs" transform="rotate(-90 520.76 559.5)">6.8u</text>
<rect x="442.7" y="538" width="2.4" height="2" fill="#fff"/>
<rect x="441.85" y="536.7" width="1.1" height="4.6" fill="#1e1e1e"/>
<rect x="444.85" y="536.7" width="1.1" height="4.6" fill="#1e1e1e"/>
<text x="443.5" y="526.56" font-size="4.6" font-weight="bold" text-anchor="middle" fill="#111" stroke="#111" stroke-width="0.28" font-family="Liberation Sans" textLength="15.5" lengthAdjust="spacingAndGlyphs">C2643</text>
<text x="443.5" y="531.16" font-size="4.6" font-weight="bold" text-anchor="middle" fill="#111" stroke="#111" stroke-width="0.28" font-family="Liberation Sans" textLength="18" lengthAdjust="spacingAndGlyphs">0.0012</text>
<text x="451.4" y="535.56" font-size="4.6" font-weight="bold" text-anchor="middle" fill="#111" stroke="#111" stroke-width="0.28" font-family="Liberation Sans" textLength="6" lengthAdjust="spacingAndGlyphs">CH</text>
<rect x="474.8" y="538" width="2.4" height="2" fill="#fff"/>
<rect x="473.95" y="536.7" width="1.1" height="4.6" fill="#1e1e1e"/>
<rect x="476.95" y="536.7" width="1.1" height="4.6" fill="#1e1e1e"/>
<text x="475.6" y="526.56" font-size="4.6" font-weight="bold" text-anchor="middle" fill="#111" stroke="#111" stroke-width="0.28" font-family="Liberation Sans" textLength="15.5" lengthAdjust="spacingAndGlyphs">C2649</text>
<text x="475.6" y="531.16" font-size="4.6" font-weight="bold" text-anchor="middle" fill="#111" stroke="#111" stroke-width="0.28" font-family="Liberation Sans" textLength="18" lengthAdjust="spacingAndGlyphs">0.0012</text>
<text x="483.5" y="535.56" font-size="4.6" font-weight="bold" text-anchor="middle" fill="#111" stroke="#111" stroke-width="0.28" font-family="Liberation Sans" textLength="6" lengthAdjust="spacingAndGlyphs">CH</text>
<rect x="506.8" y="538" width="2.4" height="2" fill="#fff"/>
<rect x="505.95" y="536.7" width="1.1" height="4.6" fill="#1e1e1e"/>
<rect x="508.95" y="536.7" width="1.1" height="4.6" fill="#1e1e1e"/>
<text x="507.6" y="526.56" font-size="4.6" font-weight="bold" text-anchor="middle" fill="#111" stroke="#111" stroke-width="0.28" font-family="Liberation Sans" textLength="15.5" lengthAdjust="spacingAndGlyphs">C2656</text>
<text x="507.6" y="531.16" font-size="4.6" font-weight="bold" text-anchor="middle" fill="#111" stroke="#111" stroke-width="0.28" font-family="Liberation Sans" textLength="18" lengthAdjust="spacingAndGlyphs">0.0012</text>
<text x="515.5" y="535.56" font-size="4.6" font-weight="bold" text-anchor="middle" fill="#111" stroke="#111" stroke-width="0.28" font-family="Liberation Sans" textLength="6" lengthAdjust="spacingAndGlyphs">CH</text>
<polyline points="427.6,515.9 427.6,539" fill="none" stroke="#1e1e1e" stroke-width="1"/>
<polyline points="427.6,515.9 614.5,515.9" fill="none" stroke="#1e1e1e" stroke-width="1"/>
<circle cx="459.9" cy="515.9" r="1.25" fill="#1e1e1e"/>
<polyline points="459.9,515.9 459.9,539" fill="none" stroke="#1e1e1e" stroke-width="1"/>
<circle cx="492" cy="515.9" r="1.25" fill="#1e1e1e"/>
<polyline points="492,515.9 492,539" fill="none" stroke="#1e1e1e" stroke-width="1"/>
<circle cx="524.1" cy="515.9" r="1.25" fill="#1e1e1e"/>
<polyline points="524.1,515.9 524.1,539" fill="none" stroke="#1e1e1e" stroke-width="1"/>
<rect x="442.7" y="514.9" width="2.4" height="2" fill="#fff"/>
<rect x="441.85" y="513.6" width="1.1" height="4.6" fill="#1e1e1e"/>
<rect x="444.85" y="513.6" width="1.1" height="4.6" fill="#1e1e1e"/>
<text x="443.5" y="503.96" font-size="4.6" font-weight="bold" text-anchor="middle" fill="#111" stroke="#111" stroke-width="0.28" font-family="Liberation Sans" textLength="15.5" lengthAdjust="spacingAndGlyphs">C2642</text>
<text x="443.5" y="508.26" font-size="4.6" font-weight="bold" text-anchor="middle" fill="#111" stroke="#111" stroke-width="0.28" font-family="Liberation Sans" textLength="15" lengthAdjust="spacingAndGlyphs">0.001</text>
<text x="451.7" y="512.56" font-size="4.6" font-weight="bold" text-anchor="middle" fill="#111" stroke="#111" stroke-width="0.28" font-family="Liberation Sans" textLength="6" lengthAdjust="spacingAndGlyphs">CH</text>
<rect x="474.8" y="514.9" width="2.4" height="2" fill="#fff"/>
<rect x="473.95" y="513.6" width="1.1" height="4.6" fill="#1e1e1e"/>
<rect x="476.95" y="513.6" width="1.1" height="4.6" fill="#1e1e1e"/>
<text x="475.6" y="503.96" font-size="4.6" font-weight="bold" text-anchor="middle" fill="#111" stroke="#111" stroke-width="0.28" font-family="Liberation Sans" textLength="15.5" lengthAdjust="spacingAndGlyphs">C2663</text>
<text x="475.6" y="508.26" font-size="4.6" font-weight="bold" text-anchor="middle" fill="#111" stroke="#111" stroke-width="0.28" font-family="Liberation Sans" textLength="12" lengthAdjust="spacingAndGlyphs">270p</text>
<text x="483.8" y="512.56" font-size="4.6" font-weight="bold" text-anchor="middle" fill="#111" stroke="#111" stroke-width="0.28" font-family="Liberation Sans" textLength="6" lengthAdjust="spacingAndGlyphs">CH</text>
<rect x="506.8" y="514.9" width="2.4" height="2" fill="#fff"/>
<rect x="505.95" y="513.6" width="1.1" height="4.6" fill="#1e1e1e"/>
<rect x="508.95" y="513.6" width="1.1" height="4.6" fill="#1e1e1e"/>
<text x="507.6" y="503.96" font-size="4.6" font-weight="bold" text-anchor="middle" fill="#111" stroke="#111" stroke-width="0.28" font-family="Liberation Sans" textLength="15.5" lengthAdjust="spacingAndGlyphs">C2655</text>
<text x="507.6" y="508.26" font-size="4.6" font-weight="bold" text-anchor="middle" fill="#111" stroke="#111" stroke-width="0.28" font-family="Liberation Sans" textLength="15" lengthAdjust="spacingAndGlyphs">0.001</text>
<text x="515.8" y="512.56" font-size="4.6" font-weight="bold" text-anchor="middle" fill="#111" stroke="#111" stroke-width="0.28" font-family="Liberation Sans" textLength="6" lengthAdjust="spacingAndGlyphs">CH</text>
<rect x="340.6" y="514.1" width="73.2" height="9.4" fill="#fff" stroke="#3a3a3a" stroke-width="1"/>
<text x="342.3" y="521.4" font-size="7.7" font-weight="normal" text-anchor="start" fill="#2a2a2a" font-family="Liberation Mono" textLength="68.55" lengthAdjust="spacingAndGlyphs">B3:1.7 - 2.5MHz</text>
<polyline points="571.6,531.9 571.6,570.7" fill="none" stroke="#000" stroke-width="1.1" stroke-dasharray="2.8,1.8"/>
<polyline points="631,531.9 631,570.7" fill="none" stroke="#000" stroke-width="1.1" stroke-dasharray="2.8,1.8"/>
<polyline points="571.6,531.9 631,531.9" fill="none" stroke="#000" stroke-width="1.1" stroke-dasharray="2.8,1.8"/>
<polyline points="571.6,574.7 631,574.7" fill="none" stroke="#000" stroke-width="1.2" stroke-dasharray="2.8,1.8"/>
<polyline points="571.6,570.7 571.6,574.7" fill="none" stroke="#000" stroke-width="1.1"/>
<polyline points="631,570.7 631,574.7" fill="none" stroke="#000" stroke-width="1.1"/>
<polyline points="578.1,531.9 578.1,550.1" fill="none" stroke="#1e1e1e" stroke-width="1"/>
<polyline points="587.2,531.9 587.2,550.6" fill="none" stroke="#1e1e1e" stroke-width="1"/>
<polyline points="596.3,531.9 596.3,550.1" fill="none" stroke="#1e1e1e" stroke-width="1"/>
<path d="M578.1 543.7L578.1 550.1L587.2 546.9Z" fill="none" stroke="#1e1e1e" stroke-width="0.8"/>
<path d="M596.3 543.7L596.3 550.1L587.2 546.9Z" fill="#1e1e1e"/>
<polyline points="605.4,531.9 605.4,550.1" fill="none" stroke="#1e1e1e" stroke-width="1"/>
<polyline points="614.5,531.9 614.5,550.6" fill="none" stroke="#1e1e1e" stroke-width="1"/>
<polyline points="623.6,531.9 623.6,550.1" fill="none" stroke="#1e1e1e" stroke-width="1"/>
<path d="M605.4 543.7L605.4 550.1L614.5 546.9Z" fill="none" stroke="#1e1e1e" stroke-width="0.8"/>
<path d="M623.6 543.7L623.6 550.1L614.5 546.9Z" fill="#1e1e1e"/>
<circle cx="578.1" cy="531.9" r="2.25" fill="#a8a8a8" stroke="#1e1e1e" stroke-width="0.9"/>
<path d="M577.5 530.5L579.3 532.5" stroke="#333" stroke-width="0.8"/>
<circle cx="587.2" cy="531.9" r="2.25" fill="#a8a8a8" stroke="#1e1e1e" stroke-width="0.9"/>
<path d="M586.6 530.5L588.4 532.5" stroke="#333" stroke-width="0.8"/>
<circle cx="596.3" cy="531.9" r="2.25" fill="#a8a8a8" stroke="#1e1e1e" stroke-width="0.9"/>
<path d="M595.7 530.5L597.5 532.5" stroke="#333" stroke-width="0.8"/>
<circle cx="605.4" cy="531.9" r="2.25" fill="#a8a8a8" stroke="#1e1e1e" stroke-width="0.9"/>
<path d="M604.8 530.5L606.6 532.5" stroke="#333" stroke-width="0.8"/>
<circle cx="614.5" cy="531.9" r="2.25" fill="#a8a8a8" stroke="#1e1e1e" stroke-width="0.9"/>
<path d="M613.9 530.5L615.7 532.5" stroke="#333" stroke-width="0.8"/>
<circle cx="623.6" cy="531.9" r="2.25" fill="#a8a8a8" stroke="#1e1e1e" stroke-width="0.9"/>
<path d="M623 530.5L624.8 532.5" stroke="#333" stroke-width="0.8"/>
<polyline points="571.6,570.7 593.2,570.7 593.2,561.2" fill="none" stroke="#1e1e1e" stroke-width="1"/>
<path d="M593.2 561.2Q593.2 559.3 595.2 559.3" fill="none" stroke="#1e1e1e" stroke-width="1"/>
<polyline points="595.2,559.3 607.5,559.3" fill="none" stroke="#1e1e1e" stroke-width="1"/>
<path d="M607.5 559.3Q609.5 559.3 609.5 561.2" fill="none" stroke="#1e1e1e" stroke-width="1"/>
<polyline points="609.5,561.2 609.5,570.7 631,570.7" fill="none" stroke="#1e1e1e" stroke-width="1"/>
<polyline points="590.8,555.7 611.9,555.7" fill="none" stroke="#555" stroke-width="1"/>
<ellipse cx="599.15" cy="562.1" rx="1.5" ry="2.2" fill="none" stroke="#1e1e1e" stroke-width="0.8"/>
<ellipse cx="603.55" cy="562.1" rx="1.5" ry="2.2" fill="none" stroke="#1e1e1e" stroke-width="0.8"/>
<polyline points="621.8,566.5 627,566.5" fill="none" stroke="#222" stroke-width="0.9"/>
<polyline points="624.4,563.9 624.4,569.1" fill="none" stroke="#222" stroke-width="0.9"/>
<polyline points="578.6,569.7 578.6,565.2" fill="none" stroke="#333" stroke-width="1"/>
<circle cx="571.6" cy="570.7" r="2.3" fill="#7a7a7a" stroke="#1e1e1e" stroke-width="0.9"/>
<circle cx="631" cy="570.7" r="2.3" fill="#f4f4f4" stroke="#1e1e1e" stroke-width="0.9"/>
<polyline points="629.6,570.7 632.4,570.7" fill="none" stroke="#555" stroke-width="0.7"/>
<polyline points="605.4,531.9 605.4,525.2 542,525.2" fill="none" stroke="#1e1e1e" stroke-width="1"/>
<polyline points="614.5,531.9 614.5,515.9" fill="none" stroke="#1e1e1e" stroke-width="1"/>
<polyline points="623.6,531.9 623.6,525.2 641.8,525.2 641.8,538.4" fill="none" stroke="#1e1e1e" stroke-width="1"/>
<rect x="638.7" y="538.9" width="6.2" height="1.3" fill="#222"/>
<path d="M639.5 540L644.1 540L641.8 541.9Z" fill="#333"/>
<polyline points="571.6,570.7 560.3,570.7 560.3,580.2" fill="none" stroke="#1e1e1e" stroke-width="1"/>
<rect x="557.2" y="580" width="6.2" height="1.3" fill="#222"/>
<path d="M558 581.1L562.6 581.1L560.3 583Z" fill="#333"/>
<text x="571.1" y="553.1" font-size="5" font-weight="bold" text-anchor="middle" fill="#111" stroke="#111" stroke-width="0.1" font-family="Liberation Sans" textLength="16" lengthAdjust="spacingAndGlyphs" transform="rotate(-90 571.1 553.1)">DC12V</text>
<text x="638.16" y="552.3" font-size="4.6" font-weight="bold" text-anchor="middle" fill="#111" stroke="#111" stroke-width="0.28" font-family="Liberation Sans" textLength="23.6" lengthAdjust="spacingAndGlyphs" transform="rotate(-90 638.16 552.3)">G6K-2F-Y</text>
<text x="642.56" y="552.3" font-size="4.6" font-weight="bold" text-anchor="middle" fill="#111" stroke="#111" stroke-width="0.28" font-family="Liberation Sans" textLength="17.4" lengthAdjust="spacingAndGlyphs" transform="rotate(-90 642.56 552.3)">RL2612</text>
<polyline points="631,570.7 698.2,570.7 702,574.7" fill="none" stroke="#1e1e1e" stroke-width="1"/>
<circle cx="642.6" cy="570.7" r="1.25" fill="#1e1e1e"/>
<polyline points="642.6,570.7 642.6,594.7" fill="none" stroke="#555" stroke-width="1"/>
<path d="M639.8 584.25L645.4 584.25L642.6 580.15Z" fill="#1e1e1e"/>
<polyline points="640.2,580.15 645,580.15" fill="none" stroke="#1e1e1e" stroke-width="1.1"/>
<rect x="639.5" y="594.2" width="6.2" height="1.3" fill="#222"/>
<path d="M640.3 595.3L644.9 595.3L642.6 597.2Z" fill="#333"/>
<text x="638.86" y="583.1" font-size="4.6" font-weight="bold" text-anchor="middle" fill="#111" stroke="#111" stroke-width="0.28" font-family="Liberation Sans" textLength="14.5" lengthAdjust="spacingAndGlyphs" transform="rotate(-90 638.86 583.1)">D2612</text>
<text x="649.66" y="581.5" font-size="4.6" font-weight="bold" text-anchor="middle" fill="#111" stroke="#111" stroke-width="0.28" font-family="Liberation Sans" textLength="18.6" lengthAdjust="spacingAndGlyphs" transform="rotate(-90 649.66 581.5)">BAS316</text>
<circle cx="661" cy="570.7" r="1.25" fill="#1e1e1e"/>
<polyline points="661,570.7 661,580.8" fill="none" stroke="#1e1e1e" stroke-width="1"/>
<polyline points="661,583.6 661,594.7" fill="none" stroke="#1e1e1e" stroke-width="1"/>
<rect x="658.4" y="580.05" width="5.2" height="1.5" fill="#1e1e1e"/>
<rect x="658.4" y="582.85" width="5.2" height="1.5" fill="#1e1e1e"/>
<rect x="657.9" y="594.2" width="6.2" height="1.3" fill="#222"/>
<path d="M658.7 595.3L663.3 595.3L661 597.2Z" fill="#333"/>
<text x="656.56" y="582.7" font-size="4.6" font-weight="bold" text-anchor="middle" fill="#111" stroke="#111" stroke-width="0.28" font-family="Liberation Sans" textLength="15.5" lengthAdjust="spacingAndGlyphs" transform="rotate(-90 656.56 582.7)">C2622</text>
<text x="668.66" y="583.3" font-size="4.6" font-weight="bold" text-anchor="middle" fill="#111" stroke="#111" stroke-width="0.28" font-family="Liberation Sans" textLength="12.4" lengthAdjust="spacingAndGlyphs" transform="rotate(-90 668.66 583.3)">0.01</text>
<text x="667.66" y="575.3" font-size="4.6" font-weight="bold" text-anchor="middle" fill="#111" stroke="#111" stroke-width="0.28" font-family="Liberation Sans" textLength="3.1" lengthAdjust="spacingAndGlyphs" transform="rotate(-90 667.66 575.3)">B</text>
<rect x="673" y="569.7" width="8" height="2" fill="#fff"/>
<polyline points="672.8,570.7 673.5,568.7 674.9,572.7 676.3,568.7 677.7,572.7 679.1,568.7 680.5,572.7 681.2,570.7" fill="none" stroke="#1e1e1e" stroke-width="1"/>
<text x="677" y="563.36" font-size="4.6" font-weight="bold" text-anchor="middle" fill="#111" stroke="#111" stroke-width="0.28" font-family="Liberation Sans" textLength="15.5" lengthAdjust="spacingAndGlyphs">R2612</text>
<text x="677.4" y="567.96" font-size="4.6" font-weight="bold" text-anchor="middle" fill="#111" stroke="#111" stroke-width="0.28" font-family="Liberation Sans" textLength="8.1" lengthAdjust="spacingAndGlyphs">100</text>
<text x="693.9" y="568.77" font-size="5.2" font-weight="bold" text-anchor="middle" fill="#111" stroke="#111" stroke-width="0.28" font-family="Liberation Sans" textLength="5.8" lengthAdjust="spacingAndGlyphs">B3</text>
<polyline points="295.5,82.5 295.5,525.2" fill="none" stroke="#000" stroke-width="1.15"/>
<polyline points="542,82.5 542,525.2" fill="none" stroke="#222" stroke-width="1.2"/>
<polyline points="135.7,132 135.7,607.6 140.2,612" fill="none" stroke="#000" stroke-width="1.9"/>
<polyline points="702,132 702,607.6 697.5,612" fill="none" stroke="#000" stroke-width="1.9"/>
<polyline points="78.4,160 295.5,160" fill="none" stroke="#555" stroke-width="1.1"/>
<circle cx="295.5" cy="160" r="1.25" fill="#1e1e1e"/>
<polyline points="542,160 766,160" fill="none" stroke="#555" stroke-width="1.1"/>
<circle cx="542" cy="160" r="1.25" fill="#1e1e1e"/>
<text x="126.2" y="159.27" font-size="5.2" font-weight="bold" text-anchor="middle" fill="#111" stroke="#111" stroke-width="0.28" font-family="Liberation Sans" textLength="16.5" lengthAdjust="spacingAndGlyphs">BPFIN</text>
<polyline points="149.1,160 149.1,168.8" fill="none" stroke="#1e1e1e" stroke-width="1"/>
<circle cx="149.1" cy="160" r="1.25" fill="#1e1e1e"/>
<circle cx="149.1" cy="171.3" r="2.5" fill="#fff" stroke="#1e1e1e" stroke-width="1.1"/>
<text x="146" y="180.33" font-size="4.8" font-weight="bold" text-anchor="middle" fill="#111" stroke="#111" stroke-width="0.28" font-family="Liberation Sans" textLength="15.6" lengthAdjust="spacingAndGlyphs">TP2601</text>
<rect x="67.4" y="144.0" width="10.9" height="96.0" fill="#fff" stroke="#1e1e1e" stroke-width="1.1"/>
<polyline points="68.9,145 68.9,239" fill="none" stroke="#333" stroke-width="1"/>
<text x="63.2" y="151.47" font-size="5.2" font-weight="bold" text-anchor="end" fill="#111" stroke="#111" stroke-width="0.28" font-family="Liberation Sans" textLength="9.9" lengthAdjust="spacingAndGlyphs">GND</text>
<text x="48.3" y="160.84" font-size="5.2" font-weight="bold" text-anchor="middle" fill="#111" stroke="#111" stroke-width="0.28" font-family="Liberation Sans" textLength="8.7" lengthAdjust="spacingAndGlyphs">BPF</text>
<text x="60.4" y="160.84" font-size="5.2" font-weight="bold" text-anchor="middle" fill="#111" stroke="#111" stroke-width="0.28" font-family="Liberation Sans" textLength="5.8" lengthAdjust="spacingAndGlyphs">IN</text>
<text x="63.2" y="169.81" font-size="5.2" font-weight="bold" text-anchor="end" fill="#111" stroke="#111" stroke-width="0.28" font-family="Liberation Sans" textLength="9.9" lengthAdjust="spacingAndGlyphs">GND</text>
<text x="63.2" y="178.98" font-size="5.2" font-weight="bold" text-anchor="end" fill="#111" stroke="#111" stroke-width="0.28" font-family="Liberation Sans" textLength="6.6" lengthAdjust="spacingAndGlyphs">B9</text>
<text x="63.2" y="188.15" font-size="5.2" font-weight="bold" text-anchor="end" fill="#111" stroke="#111" stroke-width="0.28" font-family="Liberation Sans" textLength="6.6" lengthAdjust="spacingAndGlyphs">B8</text>
<text x="63.2" y="197.32" font-size="5.2" font-weight="bold" text-anchor="end" fill="#111" stroke="#111" stroke-width="0.28" font-family="Liberation Sans" textLength="6.6" lengthAdjust="spacingAndGlyphs">B7</text>
<text x="63.2" y="206.49" font-size="5.2" font-weight="bold" text-anchor="end" fill="#111" stroke="#111" stroke-width="0.28" font-family="Liberation Sans" textLength="6.6" lengthAdjust="spacingAndGlyphs">B6</text>
<text x="63.2" y="215.66" font-size="5.2" font-weight="bold" text-anchor="end" fill="#111" stroke="#111" stroke-width="0.28" font-family="Liberation Sans" textLength="6.6" lengthAdjust="spacingAndGlyphs">B5</text>
<text x="63.2" y="224.83" font-size="5.2" font-weight="bold" text-anchor="end" fill="#111" stroke="#111" stroke-width="0.28" font-family="Liberation Sans" textLength="6.6" lengthAdjust="spacingAndGlyphs">B3</text>
<text x="63.2" y="234" font-size="5.2" font-weight="bold" text-anchor="end" fill="#111" stroke="#111" stroke-width="0.28" font-family="Liberation Sans" textLength="9.9" lengthAdjust="spacingAndGlyphs">GND</text>
<polyline points="72.6,177.91 130.6,177.91 135.7,181.91" fill="none" stroke="#1e1e1e" stroke-width="1"/>
<text x="128" y="176.38" font-size="5.2" font-weight="bold" text-anchor="middle" fill="#111" stroke="#111" stroke-width="0.28" font-family="Liberation Sans" textLength="5.8" lengthAdjust="spacingAndGlyphs">B9</text>
<polyline points="72.6,187.08 130.6,187.08 135.7,191.08" fill="none" stroke="#1e1e1e" stroke-width="1"/>
<text x="128" y="185.55" font-size="5.2" font-weight="bold" text-anchor="middle" fill="#111" stroke="#111" stroke-width="0.28" font-family="Liberation Sans" textLength="5.8" lengthAdjust="spacingAndGlyphs">B8</text>
<polyline points="72.6,196.25 130.6,196.25 135.7,200.25" fill="none" stroke="#1e1e1e" stroke-width="1"/>
<text x="128" y="194.72" font-size="5.2" font-weight="bold" text-anchor="middle" fill="#111" stroke="#111" stroke-width="0.28" font-family="Liberation Sans" textLength="5.8" lengthAdjust="spacingAndGlyphs">B7</text>
<polyline points="72.6,205.42 130.6,205.42 135.7,209.42" fill="none" stroke="#1e1e1e" stroke-width="1"/>
<text x="128" y="203.89" font-size="5.2" font-weight="bold" text-anchor="middle" fill="#111" stroke="#111" stroke-width="0.28" font-family="Liberation Sans" textLength="5.8" lengthAdjust="spacingAndGlyphs">B6</text>
<polyline points="72.6,214.59 130.6,214.59 135.7,218.59" fill="none" stroke="#1e1e1e" stroke-width="1"/>
<text x="128" y="213.06" font-size="5.2" font-weight="bold" text-anchor="middle" fill="#111" stroke="#111" stroke-width="0.28" font-family="Liberation Sans" textLength="5.8" lengthAdjust="spacingAndGlyphs">B5</text>
<polyline points="72.6,223.76 130.6,223.76 135.7,227.76" fill="none" stroke="#1e1e1e" stroke-width="1"/>
<text x="128" y="222.23" font-size="5.2" font-weight="bold" text-anchor="middle" fill="#111" stroke="#111" stroke-width="0.28" font-family="Liberation Sans" textLength="5.8" lengthAdjust="spacingAndGlyphs">B3</text>
<circle cx="72.7" cy="150.4" r="3.4" fill="#fff" stroke="#1e1e1e" stroke-width="1.25"/>
<path d="M72.4 148.8L74.2 151.4" stroke="#444" stroke-width="0.8"/>
<text x="72.7" y="151.7" font-size="3.2" font-weight="normal" text-anchor="middle" fill="#666" font-family="Liberation Sans">1</text>
<circle cx="72.7" cy="159.57" r="3.4" fill="#fff" stroke="#1e1e1e" stroke-width="1.25"/>
<path d="M72.4 157.97L74.2 160.57" stroke="#444" stroke-width="0.8"/>
<text x="72.7" y="160.87" font-size="3.2" font-weight="normal" text-anchor="middle" fill="#666" font-family="Liberation Sans">2</text>
<circle cx="72.7" cy="168.74" r="3.4" fill="#fff" stroke="#1e1e1e" stroke-width="1.25"/>
<path d="M72.4 167.14L74.2 169.74" stroke="#444" stroke-width="0.8"/>
<text x="72.7" y="170.04" font-size="3.2" font-weight="normal" text-anchor="middle" fill="#666" font-family="Liberation Sans">3</text>
<circle cx="72.7" cy="177.91" r="3.4" fill="#fff" stroke="#1e1e1e" stroke-width="1.25"/>
<path d="M72.4 176.31L74.2 178.91" stroke="#444" stroke-width="0.8"/>
<text x="72.7" y="179.21" font-size="3.2" font-weight="normal" text-anchor="middle" fill="#666" font-family="Liberation Sans">4</text>
<circle cx="72.7" cy="187.08" r="3.4" fill="#fff" stroke="#1e1e1e" stroke-width="1.25"/>
<path d="M72.4 185.48L74.2 188.08" stroke="#444" stroke-width="0.8"/>
<text x="72.7" y="188.38" font-size="3.2" font-weight="normal" text-anchor="middle" fill="#666" font-family="Liberation Sans">5</text>
<circle cx="72.7" cy="196.25" r="3.4" fill="#fff" stroke="#1e1e1e" stroke-width="1.25"/>
<path d="M72.4 194.65L74.2 197.25" stroke="#444" stroke-width="0.8"/>
<text x="72.7" y="197.55" font-size="3.2" font-weight="normal" text-anchor="middle" fill="#666" font-family="Liberation Sans">6</text>
<circle cx="72.7" cy="205.42" r="3.4" fill="#fff" stroke="#1e1e1e" stroke-width="1.25"/>
<path d="M72.4 203.82L74.2 206.42" stroke="#444" stroke-width="0.8"/>
<text x="72.7" y="206.72" font-size="3.2" font-weight="normal" text-anchor="middle" fill="#666" font-family="Liberation Sans">7</text>
<circle cx="72.7" cy="214.59" r="3.4" fill="#fff" stroke="#1e1e1e" stroke-width="1.25"/>
<path d="M72.4 212.99L74.2 215.59" stroke="#444" stroke-width="0.8"/>
<text x="72.7" y="215.89" font-size="3.2" font-weight="normal" text-anchor="middle" fill="#666" font-family="Liberation Sans">8</text>
<circle cx="72.7" cy="223.76" r="3.4" fill="#fff" stroke="#1e1e1e" stroke-width="1.25"/>
<path d="M72.4 222.16L74.2 224.76" stroke="#444" stroke-width="0.8"/>
<text x="72.7" y="225.06" font-size="3.2" font-weight="normal" text-anchor="middle" fill="#666" font-family="Liberation Sans">9</text>
<circle cx="72.7" cy="232.93" r="3.4" fill="#fff" stroke="#1e1e1e" stroke-width="1.25"/>
<path d="M72.4 231.33L74.2 233.93" stroke="#444" stroke-width="0.8"/>
<text x="72.7" y="234.23" font-size="3.2" font-weight="normal" text-anchor="middle" fill="#666" font-family="Liberation Sans">10</text>
<polyline points="76,150.4 85.6,150.4" fill="none" stroke="#1e1e1e" stroke-width="1"/>
<polyline points="76,168.74 85.6,168.74" fill="none" stroke="#1e1e1e" stroke-width="1"/>
<polyline points="76,232.93 85.6,232.93" fill="none" stroke="#1e1e1e" stroke-width="1"/>
<circle cx="85.6" cy="168.74" r="1.25" fill="#1e1e1e"/>
<circle cx="85.6" cy="232.93" r="1.25" fill="#1e1e1e"/>
<polyline points="85.6,150.4 85.6,246" fill="none" stroke="#1e1e1e" stroke-width="1"/>
<rect x="82.5" y="246" width="6.2" height="1.3" fill="#222"/>
<path d="M83.3 247.1L87.9 247.1L85.6 249Z" fill="#333"/>
<text x="72.16" y="134.2" font-size="4.6" font-weight="bold" text-anchor="middle" fill="#111" stroke="#111" stroke-width="0.28" font-family="Liberation Sans" textLength="15.5" lengthAdjust="spacingAndGlyphs" transform="rotate(-90 72.16 134.2)">J2601</text>
<text x="77.76" y="130" font-size="4.6" font-weight="bold" text-anchor="middle" fill="#111" stroke="#111" stroke-width="0.28" font-family="Liberation Sans" textLength="24" lengthAdjust="spacingAndGlyphs" transform="rotate(-90 77.76 130)">S10P3S6A</text>
<polyline points="94.2,142.2 94.2,196.6" fill="none" stroke="#1e1e1e" stroke-width="1"/>
<circle cx="94.2" cy="196.6" r="1.25" fill="#1e1e1e"/>
<circle cx="94.2" cy="139.7" r="2.5" fill="#fff" stroke="#1e1e1e" stroke-width="1.1"/>
<polyline points="103.5,142.2 103.5,187.5" fill="none" stroke="#1e1e1e" stroke-width="1"/>
<circle cx="103.5" cy="187.5" r="1.25" fill="#1e1e1e"/>
<circle cx="103.5" cy="139.7" r="2.5" fill="#fff" stroke="#1e1e1e" stroke-width="1.1"/>
<polyline points="112.8,142.2 112.8,178.5" fill="none" stroke="#1e1e1e" stroke-width="1"/>
<circle cx="112.8" cy="178.5" r="1.25" fill="#1e1e1e"/>
<circle cx="112.8" cy="139.7" r="2.5" fill="#fff" stroke="#1e1e1e" stroke-width="1.1"/>
<text x="95.86" y="127" font-size="4.6" font-weight="bold" text-anchor="middle" fill="#111" stroke="#111" stroke-width="0.28" font-family="Liberation Sans" textLength="18.6" lengthAdjust="spacingAndGlyphs" transform="rotate(-90 95.86 127)">TP2607</text>
<text x="105.16" y="127" font-size="4.6" font-weight="bold" text-anchor="middle" fill="#111" stroke="#111" stroke-width="0.28" font-family="Liberation Sans" textLength="18.6" lengthAdjust="spacingAndGlyphs" transform="rotate(-90 105.16 127)">TP2608</text>
<text x="114.46" y="127" font-size="4.6" font-weight="bold" text-anchor="middle" fill="#111" stroke="#111" stroke-width="0.28" font-family="Liberation Sans" textLength="18.6" lengthAdjust="spacingAndGlyphs" transform="rotate(-90 114.46 127)">TP2609</text>
<polyline points="94.2,224 94.2,232.8" fill="none" stroke="#1e1e1e" stroke-width="1"/>
<circle cx="94.2" cy="224" r="1.25" fill="#1e1e1e"/>
<circle cx="94.2" cy="235.3" r="2.5" fill="#fff" stroke="#1e1e1e" stroke-width="1.1"/>
<text x="95.86" y="248" font-size="4.6" font-weight="bold" text-anchor="middle" fill="#111" stroke="#111" stroke-width="0.28" font-family="Liberation Sans" textLength="18.6" lengthAdjust="spacingAndGlyphs" transform="rotate(-90 95.86 248)">TP2603</text>
<polyline points="103.5,214.8 103.5,232.8" fill="none" stroke="#1e1e1e" stroke-width="1"/>
<circle cx="103.5" cy="214.8" r="1.25" fill="#1e1e1e"/>
<circle cx="103.5" cy="235.3" r="2.5" fill="#fff" stroke="#1e1e1e" stroke-width="1.1"/>
<text x="105.16" y="248" font-size="4.6" font-weight="bold" text-anchor="middle" fill="#111" stroke="#111" stroke-width="0.28" font-family="Liberation Sans" textLength="18.6" lengthAdjust="spacingAndGlyphs" transform="rotate(-90 105.16 248)">TP2605</text>
<polyline points="112.8,205.7 112.8,232.8" fill="none" stroke="#1e1e1e" stroke-width="1"/>
<circle cx="112.8" cy="205.7" r="1.25" fill="#1e1e1e"/>
<circle cx="112.8" cy="235.3" r="2.5" fill="#fff" stroke="#1e1e1e" stroke-width="1.1"/>
<text x="114.46" y="248" font-size="4.6" font-weight="bold" text-anchor="middle" fill="#111" stroke="#111" stroke-width="0.28" font-family="Liberation Sans" textLength="18.6" lengthAdjust="spacingAndGlyphs" transform="rotate(-90 114.46 248)">TP2606</text>
<rect x="763.8" y="144.3" width="11" height="50" fill="#fff" stroke="#1e1e1e" stroke-width="1.1"/>
<circle cx="769.4" cy="150.7" r="3.4" fill="#fff" stroke="#1e1e1e" stroke-width="1.25"/>
<text x="769.4" y="152.1" font-size="3.4" font-weight="normal" text-anchor="middle" fill="#444" font-family="Liberation Sans">5</text>
<text x="779.3" y="152.5" font-size="4.8" font-weight="bold" text-anchor="start" fill="#2a2a2a" font-family="Liberation Sans">GND</text>
<circle cx="769.4" cy="159.6" r="3.4" fill="#fff" stroke="#1e1e1e" stroke-width="1.25"/>
<text x="769.4" y="161" font-size="3.4" font-weight="normal" text-anchor="middle" fill="#444" font-family="Liberation Sans">4</text>
<text x="779.3" y="161.4" font-size="4.8" font-weight="bold" text-anchor="start" fill="#222" font-family="Liberation Sans" textLength="22" lengthAdjust="spacingAndGlyphs">BPF OUT</text>
<circle cx="769.4" cy="168.4" r="3.4" fill="#fff" stroke="#1e1e1e" stroke-width="1.25"/>
<text x="769.4" y="169.8" font-size="3.4" font-weight="normal" text-anchor="middle" fill="#444" font-family="Liberation Sans">3</text>
<text x="779.3" y="170.2" font-size="4.8" font-weight="bold" text-anchor="start" fill="#2a2a2a" font-family="Liberation Sans">GND</text>
<circle cx="769.4" cy="177.9" r="3.4" fill="#fff" stroke="#1e1e1e" stroke-width="1.25"/>
<text x="769.4" y="179.3" font-size="3.4" font-weight="normal" text-anchor="middle" fill="#444" font-family="Liberation Sans">2</text>
<text x="779.3" y="179.7" font-size="4.8" font-weight="bold" text-anchor="start" fill="#222" font-family="Liberation Sans" textLength="22" lengthAdjust="spacingAndGlyphs">BPF OUT</text>
<circle cx="769.4" cy="186.5" r="3.4" fill="#fff" stroke="#1e1e1e" stroke-width="1.25"/>
<text x="769.4" y="187.9" font-size="3.4" font-weight="normal" text-anchor="middle" fill="#444" font-family="Liberation Sans">1</text>
<text x="779.3" y="188.3" font-size="4.8" font-weight="bold" text-anchor="start" fill="#2a2a2a" font-family="Liberation Sans">GND</text>
<path d="M764.5 194L767.5 190.5L767.5 194Z" fill="#1e1e1e"/>
<polyline points="756.4,150.7 766,150.7" fill="none" stroke="#1e1e1e" stroke-width="1"/>
<polyline points="756.4,168.4 766,168.4" fill="none" stroke="#1e1e1e" stroke-width="1"/>
<polyline points="756.4,186.5 766,186.5" fill="none" stroke="#1e1e1e" stroke-width="1"/>
<polyline points="756.4,150.7 756.4,195.5" fill="none" stroke="#1e1e1e" stroke-width="1"/>
<circle cx="756.4" cy="168.4" r="1.25" fill="#1e1e1e"/>
<circle cx="756.4" cy="186.5" r="1.25" fill="#1e1e1e"/>
<rect x="753.3" y="195.5" width="6.2" height="1.3" fill="#222"/>
<path d="M754.1 196.6L758.7 196.6L756.4 198.5Z" fill="#333"/>
<polyline points="747.3,160 747.3,177.9 766,177.9" fill="none" stroke="#1e1e1e" stroke-width="1"/>
<circle cx="747.3" cy="160" r="1.25" fill="#1e1e1e"/>
<text x="741.6" y="159.57" font-size="5.2" font-weight="bold" text-anchor="middle" fill="#111" stroke="#111" stroke-width="0.28" font-family="Liberation Sans" textLength="18.6" lengthAdjust="spacingAndGlyphs">BPFOUT</text>
<polyline points="724.8,160 724.8,150.6" fill="none" stroke="#1e1e1e" stroke-width="1"/>
<circle cx="724.8" cy="160" r="1.25" fill="#1e1e1e"/>
<circle cx="724.8" cy="148.1" r="2.5" fill="#fff" stroke="#1e1e1e" stroke-width="1.1"/>
<text x="724.5" y="144.87" font-size="5.2" font-weight="bold" text-anchor="middle" fill="#111" stroke="#111" stroke-width="0.28" font-family="Liberation Sans" textLength="18.6" lengthAdjust="spacingAndGlyphs">TP2633</text>
<text x="757.26" y="133.9" font-size="4.6" font-weight="bold" text-anchor="middle" fill="#111" stroke="#111" stroke-width="0.28" font-family="Liberation Sans" textLength="14" lengthAdjust="spacingAndGlyphs" transform="rotate(-90 757.26 133.9)">J2602</text>
<text x="763.76" y="128" font-size="4.6" font-weight="bold" text-anchor="middle" fill="#111" stroke="#111" stroke-width="0.28" font-family="Liberation Sans" textLength="24.8" lengthAdjust="spacingAndGlyphs" transform="rotate(-90 763.76 128)">PLB4908S</text>
<text x="45.8" y="78.2" font-size="10.6" fill="#666" font-family="Liberation Mono" textLength="168" lengthAdjust="spacingAndGlyphs">BPF-UNIT (2400-2699)</text>
<text x="46.6" y="87.9" font-size="10.6" fill="#666" font-family="Liberation Mono" textLength="91" lengthAdjust="spacingAndGlyphs">[FR014810A]</text>
<text x="802" y="21.7" font-size="14.4" font-weight="normal" text-anchor="end" fill="#1b1b1b" font-family="Liberation Serif" textLength="60.5" lengthAdjust="spacingAndGlyphs" font-style="italic" stroke="#1b1b1b" stroke-width="0.5">BPF Unit</text>
<text x="802" y="44.6" font-size="12.6" font-weight="normal" text-anchor="end" fill="#1b1b1b" font-family="Liberation Serif" textLength="84.3" lengthAdjust="spacingAndGlyphs" font-style="italic" stroke="#1b1b1b" stroke-width="0.38">Circuit Diagram</text>
</svg>
</body></html>
